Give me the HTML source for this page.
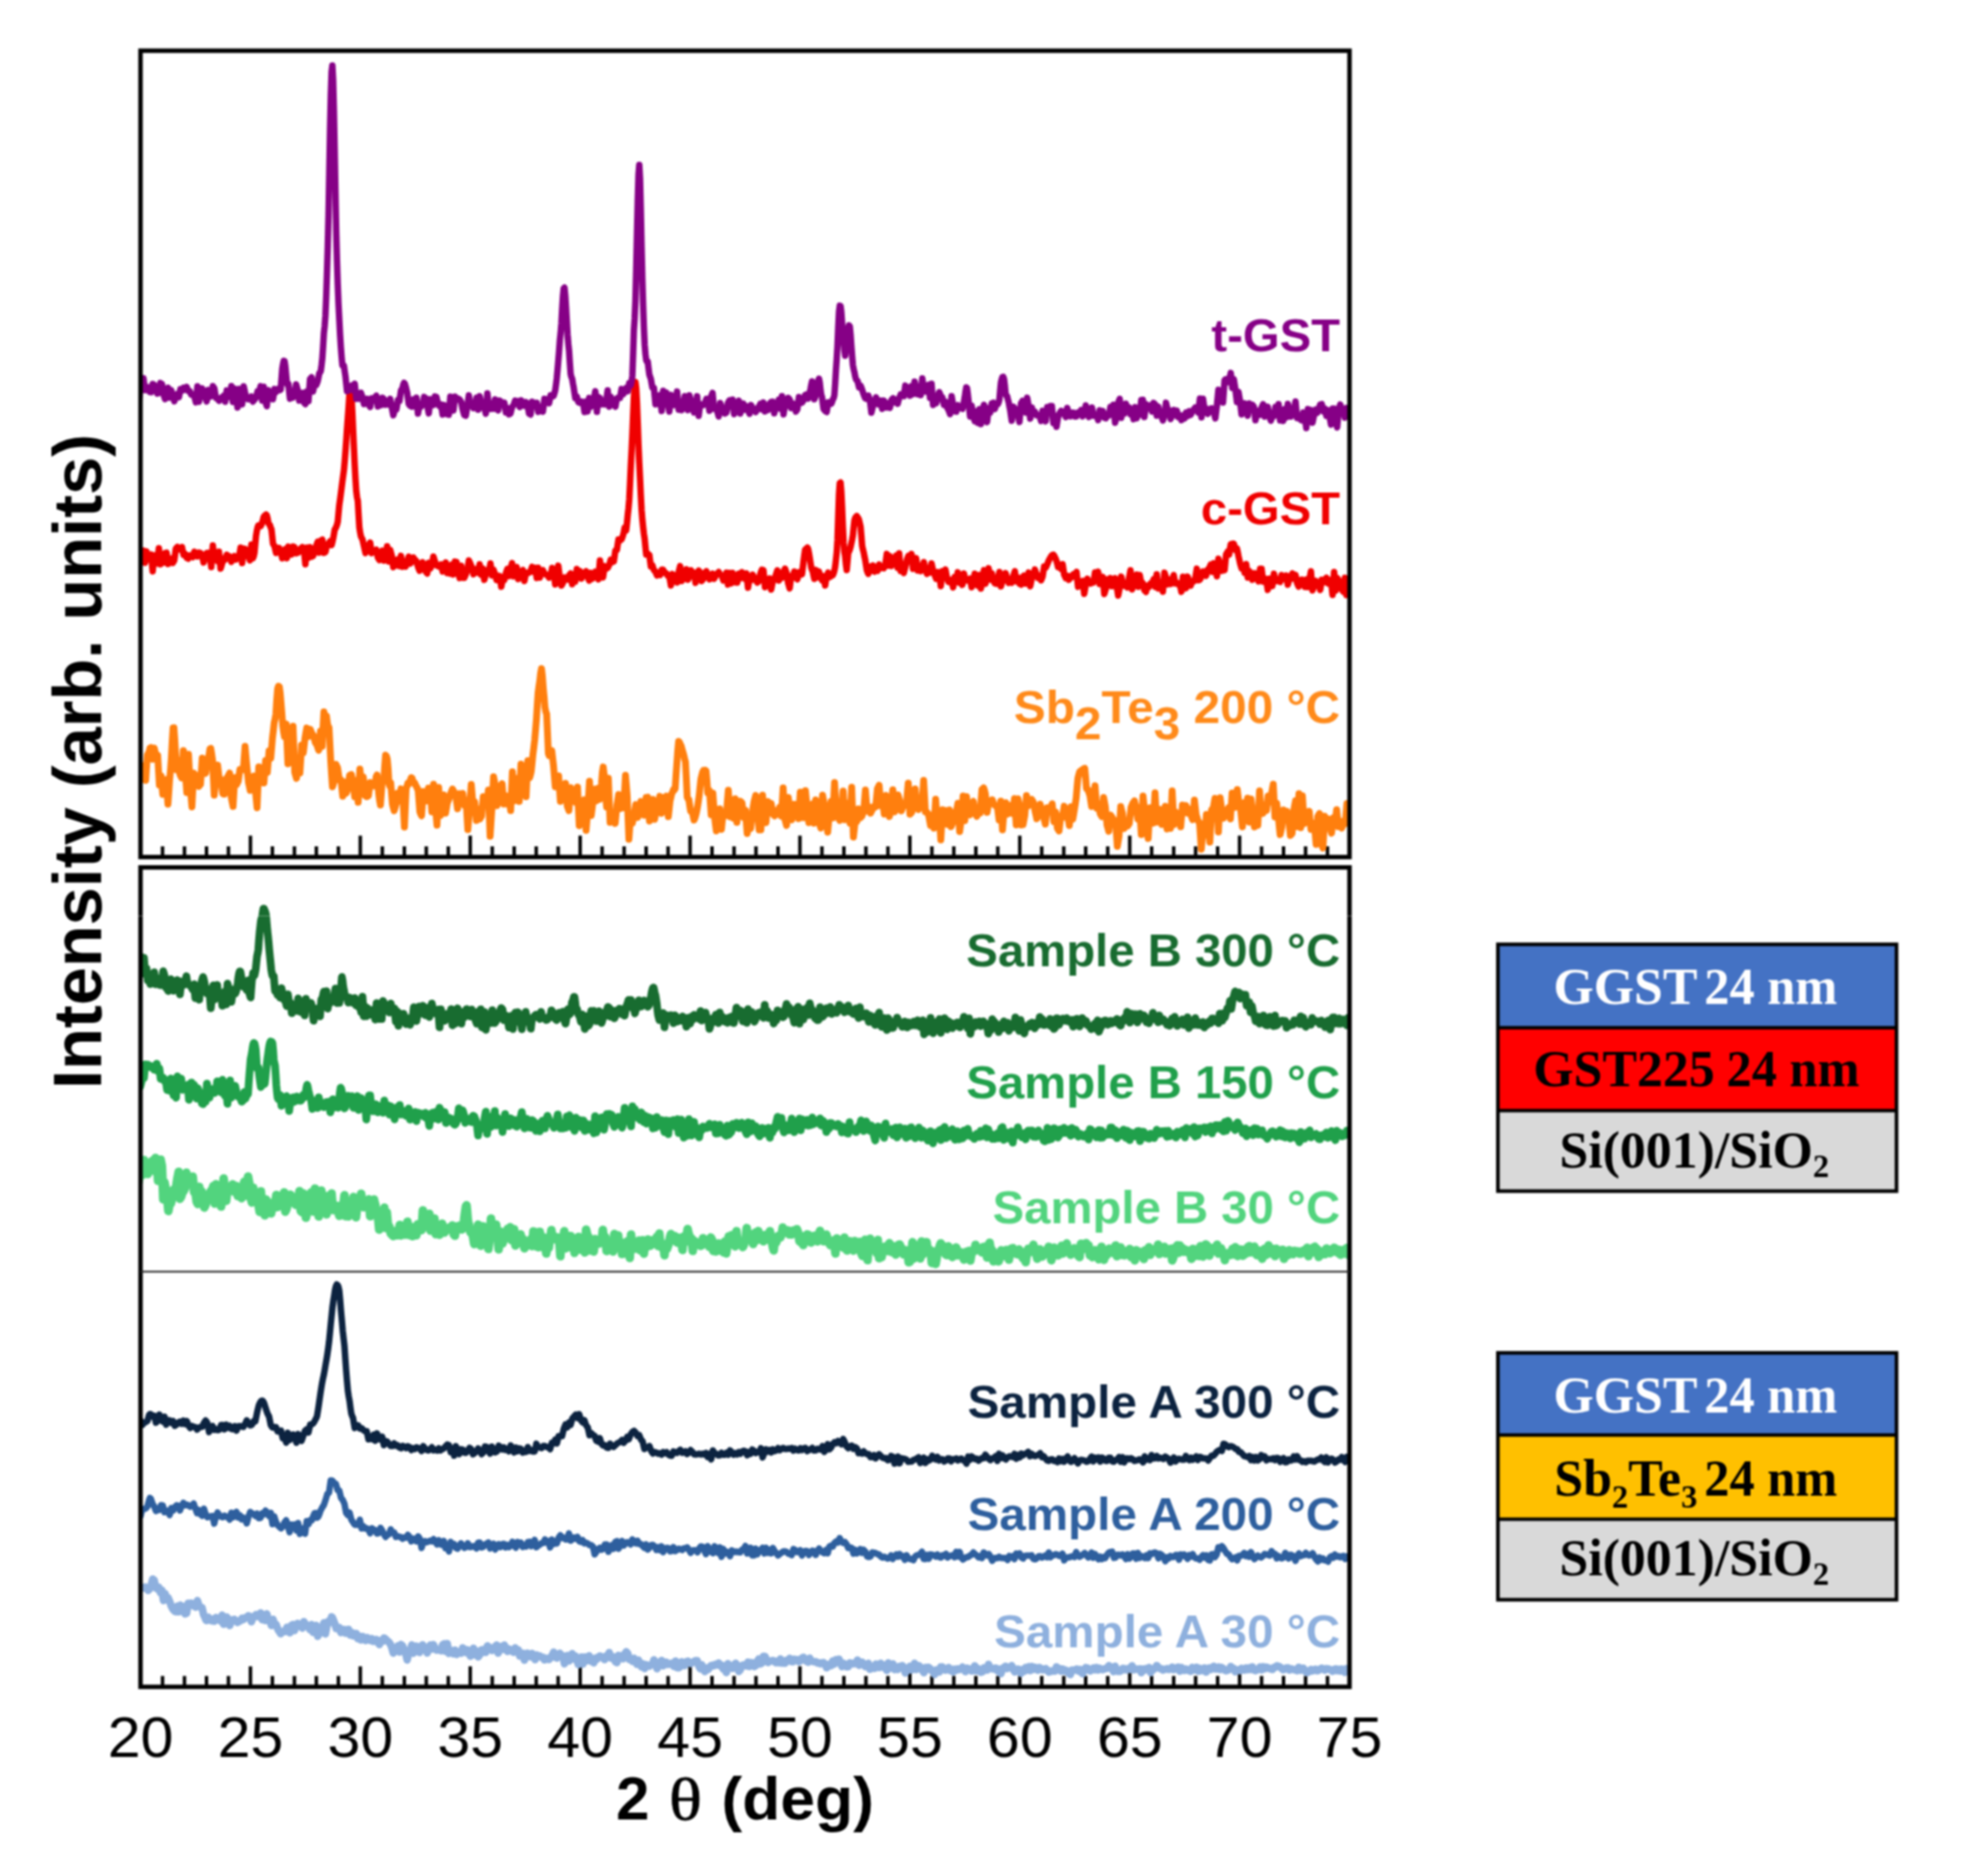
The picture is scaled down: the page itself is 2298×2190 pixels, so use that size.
<!DOCTYPE html>
<html><head><meta charset="utf-8"><title>XRD</title>
<style>
html,body{margin:0;padding:0;background:#fff;}
body{width:2298px;height:2190px;overflow:hidden;position:relative;}
svg{position:absolute;left:0;top:0;display:block;filter:blur(0.9px);}
.tk{font-family:"Liberation Sans",sans-serif;font-size:67px;fill:#000;}
.lb{font-family:"Liberation Sans",sans-serif;font-size:53.6px;font-weight:bold;}
.xl{font-family:"Liberation Sans",sans-serif;font-size:70px;font-weight:bold;fill:#000;}
.yl{font-family:"Liberation Sans",sans-serif;font-size:79px;font-weight:bold;fill:#000;}
.th{font-family:"Liberation Serif",serif;font-weight:normal;font-size:70px;fill:#000;stroke:#000;stroke-width:0.8;}
.bx{font-family:"Liberation Serif",serif;font-size:60.5px;font-weight:bold;}
.sb{font-size:38px;}
#curves path{fill:none;stroke-linejoin:round;stroke-linecap:round;}
</style></head><body>
<svg width="2298" height="2190" viewBox="0 0 2298 2190">
<defs><clipPath id="cp"><rect x="164" y="40" width="1411" height="1940"/></clipPath></defs>
<rect width="2298" height="2190" fill="#fff"/>
<path d="M189.7,1000.5v-12.5 M189.7,1969.2v-12.6 M215.3,1000.5v-12.5 M215.3,1969.2v-12.6 M241.0,1000.5v-12.5 M241.0,1969.2v-12.6 M266.6,1000.5v-12.5 M266.6,1969.2v-12.6 M292.3,1000.5v-25 M292.3,1969.2v-24 M317.9,1000.5v-12.5 M317.9,1969.2v-12.6 M343.6,1000.5v-12.5 M343.6,1969.2v-12.6 M369.2,1000.5v-12.5 M369.2,1969.2v-12.6 M394.9,1000.5v-12.5 M394.9,1969.2v-12.6 M420.5,1000.5v-25 M420.5,1969.2v-24 M446.2,1000.5v-12.5 M446.2,1969.2v-12.6 M471.9,1000.5v-12.5 M471.9,1969.2v-12.6 M497.5,1000.5v-12.5 M497.5,1969.2v-12.6 M523.2,1000.5v-12.5 M523.2,1969.2v-12.6 M548.8,1000.5v-25 M548.8,1969.2v-24 M574.5,1000.5v-12.5 M574.5,1969.2v-12.6 M600.1,1000.5v-12.5 M600.1,1969.2v-12.6 M625.8,1000.5v-12.5 M625.8,1969.2v-12.6 M651.4,1000.5v-12.5 M651.4,1969.2v-12.6 M677.1,1000.5v-25 M677.1,1969.2v-24 M702.7,1000.5v-12.5 M702.7,1969.2v-12.6 M728.4,1000.5v-12.5 M728.4,1969.2v-12.6 M754.1,1000.5v-12.5 M754.1,1969.2v-12.6 M779.7,1000.5v-12.5 M779.7,1969.2v-12.6 M805.4,1000.5v-25 M805.4,1969.2v-24 M831.0,1000.5v-12.5 M831.0,1969.2v-12.6 M856.7,1000.5v-12.5 M856.7,1969.2v-12.6 M882.3,1000.5v-12.5 M882.3,1969.2v-12.6 M908.0,1000.5v-12.5 M908.0,1969.2v-12.6 M933.6,1000.5v-25 M933.6,1969.2v-24 M959.3,1000.5v-12.5 M959.3,1969.2v-12.6 M984.9,1000.5v-12.5 M984.9,1969.2v-12.6 M1010.6,1000.5v-12.5 M1010.6,1969.2v-12.6 M1036.3,1000.5v-12.5 M1036.3,1969.2v-12.6 M1061.9,1000.5v-25 M1061.9,1969.2v-24 M1087.6,1000.5v-12.5 M1087.6,1969.2v-12.6 M1113.2,1000.5v-12.5 M1113.2,1969.2v-12.6 M1138.9,1000.5v-12.5 M1138.9,1969.2v-12.6 M1164.5,1000.5v-12.5 M1164.5,1969.2v-12.6 M1190.2,1000.5v-25 M1190.2,1969.2v-24 M1215.8,1000.5v-12.5 M1215.8,1969.2v-12.6 M1241.5,1000.5v-12.5 M1241.5,1969.2v-12.6 M1267.1,1000.5v-12.5 M1267.1,1969.2v-12.6 M1292.8,1000.5v-12.5 M1292.8,1969.2v-12.6 M1318.5,1000.5v-25 M1318.5,1969.2v-24 M1344.1,1000.5v-12.5 M1344.1,1969.2v-12.6 M1369.8,1000.5v-12.5 M1369.8,1969.2v-12.6 M1395.4,1000.5v-12.5 M1395.4,1969.2v-12.6 M1421.1,1000.5v-12.5 M1421.1,1969.2v-12.6 M1446.7,1000.5v-25 M1446.7,1969.2v-24 M1472.4,1000.5v-12.5 M1472.4,1969.2v-12.6 M1498.0,1000.5v-12.5 M1498.0,1969.2v-12.6 M1523.7,1000.5v-12.5 M1523.7,1969.2v-12.6 M1549.3,1000.5v-12.5 M1549.3,1969.2v-12.6" stroke="#000" stroke-width="4" fill="none"/>
<g id="curves" clip-path="url(#cp)">
<path d="M162.0,655.0 162.9,651.7 163.8,648.4 164.7,651.1 165.6,653.8 166.5,648.3 167.4,642.7 168.3,649.9 169.2,657.0 170.1,650.4 171.0,643.8 171.9,648.2 172.8,652.6 173.7,652.1 174.6,651.6 175.5,649.5 176.4,647.3 177.3,657.1 178.2,666.9 179.1,657.5 180.0,648.2 180.9,651.3 181.8,654.3 182.7,656.0 183.6,657.7 184.5,648.8 185.4,639.9 186.3,649.3 187.2,658.8 188.1,654.5 189.0,650.2 189.9,653.5 190.8,656.8 191.7,651.3 192.6,645.7 193.5,645.5 194.4,645.2 195.3,651.8 196.2,658.4 197.1,656.3 198.0,654.3 198.9,653.2 199.8,652.1 200.7,654.7 201.6,657.2 202.5,655.8 203.4,654.3 204.3,647.4 205.2,640.5 206.1,639.5 207.0,638.4 207.9,639.9 208.8,641.4 209.7,641.2 210.6,640.9 211.5,639.8 212.4,638.6 213.3,643.2 214.2,647.7 215.1,647.1 216.0,646.5 216.9,648.8 217.8,651.1 218.7,651.6 219.6,652.2 220.5,650.2 221.4,648.3 222.3,648.5 223.2,648.7 224.1,649.5 225.0,650.4 225.9,647.3 226.8,644.1 227.7,644.8 228.6,645.5 229.5,647.5 230.4,649.5 231.3,647.3 232.2,645.1 233.1,645.4 234.0,645.6 234.9,647.0 235.8,648.3 236.7,652.4 237.6,656.6 238.5,653.6 239.4,650.7 240.3,648.2 241.2,645.7 242.1,645.5 243.0,645.3 243.9,646.7 244.8,648.1 245.7,655.1 246.6,662.1 247.5,649.4 248.4,636.7 249.3,644.8 250.2,652.8 251.1,652.0 252.0,651.1 252.9,653.0 253.8,655.0 254.7,649.5 255.6,644.0 256.5,653.9 257.4,663.8 258.3,661.0 259.2,658.0 260.1,655.2 261.0,652.2 261.9,652.7 262.8,653.2 263.7,650.4 264.6,647.6 265.5,649.6 266.4,651.6 267.3,650.7 268.2,649.8 269.1,652.8 270.0,655.9 270.9,654.1 271.8,652.3 272.7,650.8 273.6,649.3 274.5,651.2 275.4,653.1 276.3,652.5 277.2,651.9 278.1,650.8 279.0,649.7 279.9,644.6 280.8,639.3 281.7,648.3 282.6,657.3 283.5,648.8 284.4,640.4 285.3,640.6 286.2,640.8 287.1,643.2 288.0,645.6 288.9,647.3 289.8,649.0 290.7,651.5 291.6,654.1 292.5,645.0 293.4,635.8 294.3,644.2 295.2,651.7 296.1,649.4 297.0,645.4 297.9,635.1 298.8,625.5 299.7,620.0 300.6,615.7 301.5,613.3 302.4,613.1 303.3,614.0 304.2,614.3 305.1,612.6 306.0,609.8 306.9,606.7 307.8,603.3 308.7,602.2 309.6,601.4 310.5,600.7 311.4,601.6 312.3,605.2 313.2,610.5 314.1,612.0 315.0,613.0 315.9,615.7 316.8,617.8 317.7,626.0 318.6,634.5 319.5,636.3 320.4,637.4 321.3,641.6 322.2,645.5 323.1,644.8 324.0,643.6 324.9,641.8 325.8,639.7 326.7,641.5 327.6,643.2 328.5,647.5 329.4,651.8 330.3,650.1 331.2,648.4 332.1,644.7 333.0,641.1 333.9,646.4 334.8,651.7 335.7,644.9 336.6,638.1 337.5,640.6 338.4,643.2 339.3,645.2 340.2,647.3 341.1,642.6 342.0,638.0 342.9,638.4 343.8,638.9 344.7,642.4 345.6,645.8 346.5,645.5 347.4,645.3 348.3,644.7 349.2,644.2 350.1,642.2 351.0,640.2 351.9,639.5 352.8,638.7 353.7,639.3 354.6,639.9 355.5,649.3 356.4,658.7 357.3,649.0 358.2,639.3 359.1,645.2 360.0,651.2 360.9,645.0 361.8,638.8 362.7,644.3 363.6,649.9 364.5,649.4 365.4,648.9 366.3,646.4 367.2,644.0 368.1,640.7 369.0,637.3 369.9,634.9 370.8,632.4 371.7,638.8 372.6,645.1 373.5,638.1 374.4,631.0 375.3,630.5 376.2,630.0 377.1,637.7 378.0,645.4 378.9,644.9 379.8,644.5 380.7,640.4 381.6,636.3 382.5,635.5 383.4,634.7 384.3,633.4 385.2,631.9 386.1,634.3 387.0,636.4 387.9,632.9 388.8,628.8 389.7,623.8 390.6,618.3 391.5,617.1 392.4,615.0 393.3,612.6 394.2,609.0 395.1,598.8 396.0,589.2 396.9,583.1 397.8,576.2 398.7,569.3 399.6,562.1 400.5,555.4 401.4,548.8 402.3,538.6 403.2,526.6 404.1,514.3 405.0,500.4 405.9,488.2 406.8,476.1 407.7,462.1 408.6,454.4 409.5,456.5 410.4,465.8 411.3,482.8 412.2,503.6 413.1,523.6 414.0,543.1 414.9,559.5 415.8,573.6 416.7,580.5 417.6,584.6 418.5,600.6 419.4,615.6 420.3,621.4 421.2,626.0 422.1,628.1 423.0,629.4 423.9,633.8 424.8,637.8 425.7,641.8 426.6,645.6 427.5,643.1 428.4,640.5 429.3,638.8 430.2,637.0 431.1,635.2 432.0,633.4 432.9,639.6 433.8,645.7 434.7,644.1 435.6,642.4 436.5,643.3 437.4,644.2 438.3,643.0 439.2,641.8 440.1,646.3 441.0,650.8 441.9,652.4 442.8,653.9 443.7,653.1 444.6,652.2 445.5,647.5 446.4,642.9 447.3,648.7 448.2,654.5 449.1,652.9 450.0,651.4 450.9,644.5 451.8,637.7 452.7,646.5 453.6,655.4 454.5,648.7 455.4,641.9 456.3,645.3 457.2,648.6 458.1,655.4 459.0,662.1 459.9,661.1 460.8,660.3 461.7,656.9 462.6,653.5 463.5,653.2 464.4,653.0 465.3,656.9 466.2,660.8 467.1,654.9 468.0,648.9 468.9,655.4 469.8,661.6 470.7,659.2 471.6,656.6 472.5,659.0 473.4,661.4 474.3,658.4 475.2,655.6 476.1,652.6 477.0,649.8 477.9,653.8 478.8,657.9 479.7,656.8 480.6,655.8 481.5,653.3 482.4,650.8 483.3,652.2 484.2,653.4 485.1,654.2 486.0,654.9 486.9,658.2 487.8,661.5 488.7,663.9 489.6,666.3 490.5,664.4 491.4,662.5 492.3,659.5 493.2,656.4 494.1,659.1 495.0,661.6 495.9,664.5 496.8,667.1 497.7,668.4 498.6,669.5 499.5,663.3 500.4,657.1 501.3,660.3 502.2,663.6 503.1,661.6 504.0,659.7 504.9,654.7 505.8,649.8 506.7,652.5 507.6,655.3 508.5,657.6 509.4,660.0 510.3,660.4 511.2,660.8 512.1,661.3 513.0,661.8 513.9,660.3 514.8,658.9 515.7,663.0 516.6,667.1 517.5,663.5 518.4,659.9 519.3,658.2 520.2,656.6 521.1,662.8 522.0,669.0 522.9,665.7 523.8,662.2 524.7,666.0 525.6,669.6 526.5,664.3 527.4,659.0 528.3,664.7 529.2,670.6 530.1,663.0 531.0,655.6 531.9,655.8 532.8,656.1 533.7,661.9 534.6,667.8 535.5,671.3 536.4,674.8 537.3,667.7 538.2,660.5 539.1,667.6 540.0,674.6 540.9,674.6 541.8,674.6 542.7,672.6 543.6,670.7 544.5,668.0 545.4,665.3 546.3,659.8 547.2,654.3 548.1,656.2 549.0,658.1 549.9,660.3 550.8,662.6 551.7,666.5 552.6,670.4 553.5,668.5 554.4,666.6 555.3,665.4 556.2,664.1 557.1,666.4 558.0,668.6 558.9,663.6 559.8,658.7 560.7,664.8 561.6,670.9 562.5,667.3 563.4,663.6 564.3,670.2 565.2,676.9 566.1,673.8 567.0,670.6 567.9,668.0 568.8,665.5 569.7,666.3 570.6,667.1 571.5,662.5 572.4,657.8 573.3,664.8 574.2,671.8 575.1,668.5 576.0,665.2 576.9,667.8 577.8,670.4 578.7,673.8 579.6,677.3 580.5,674.7 581.4,672.2 582.3,672.3 583.2,672.6 584.1,678.7 585.0,684.9 585.9,680.6 586.8,676.4 587.7,676.6 588.6,676.8 589.5,673.0 590.4,669.2 591.3,666.6 592.2,664.1 593.1,668.3 594.0,672.5 594.9,668.4 595.8,664.2 596.7,660.8 597.6,657.4 598.5,665.0 599.4,672.7 600.3,671.5 601.2,670.4 602.1,666.1 603.0,662.0 603.9,669.0 604.8,676.1 605.7,672.4 606.6,668.9 607.5,668.2 608.4,667.6 609.3,666.6 610.2,665.5 611.1,671.9 612.0,678.2 612.9,673.6 613.8,668.9 614.7,668.7 615.6,668.6 616.5,668.6 617.4,668.7 618.3,667.8 619.2,666.9 620.1,664.3 621.0,661.7 621.9,664.5 622.8,667.2 623.7,665.1 624.6,662.9 625.5,668.8 626.4,674.7 627.3,668.7 628.2,662.7 629.1,668.5 630.0,674.3 630.9,670.8 631.8,667.4 632.7,666.5 633.6,665.7 634.5,667.6 635.4,669.5 636.3,670.1 637.2,670.8 638.1,671.0 639.0,671.2 639.9,672.7 640.8,674.2 641.7,673.4 642.6,672.6 643.5,667.8 644.4,663.0 645.3,665.8 646.2,668.6 647.1,675.5 648.0,682.3 648.9,677.2 649.8,672.2 650.7,666.3 651.6,660.4 652.5,667.4 653.4,674.4 654.3,678.9 655.2,683.5 656.1,682.0 657.0,680.5 657.9,677.3 658.8,674.0 659.7,674.7 660.6,675.3 661.5,676.0 662.4,676.6 663.3,674.1 664.2,671.7 665.1,670.6 666.0,669.6 666.9,675.8 667.8,682.0 668.7,676.2 669.6,670.5 670.5,674.7 671.4,679.0 672.3,671.6 673.2,664.2 674.1,666.5 675.0,668.8 675.9,667.7 676.8,666.6 677.7,671.0 678.6,675.4 679.5,672.2 680.4,669.1 681.3,668.9 682.2,668.7 683.1,667.8 684.0,666.9 684.9,670.2 685.8,673.5 686.7,675.7 687.6,677.8 688.5,673.3 689.4,668.7 690.3,672.2 691.2,675.6 692.1,673.6 693.0,671.6 693.9,669.5 694.8,667.4 695.7,670.3 696.6,673.1 697.5,674.7 698.4,676.3 699.3,665.3 700.2,654.3 701.1,661.9 702.0,669.6 702.9,671.9 703.8,674.1 704.7,667.5 705.6,660.9 706.5,662.5 707.4,664.1 708.3,663.5 709.2,662.9 710.1,661.2 711.0,659.5 711.9,656.5 712.8,653.3 713.7,654.8 714.6,656.1 715.5,655.8 716.4,655.4 717.3,648.9 718.2,642.5 719.1,642.2 720.0,641.9 720.9,635.8 721.8,629.7 722.7,630.3 723.6,631.0 724.5,630.3 725.4,629.6 726.3,627.3 727.2,624.8 728.1,620.7 729.0,616.1 729.9,618.1 730.8,619.1 731.7,611.0 732.6,601.4 733.5,593.4 734.4,583.0 735.3,564.6 736.2,544.2 737.1,527.0 738.0,507.3 738.9,484.7 739.8,464.2 740.7,450.6 741.6,445.9 742.5,453.0 743.4,470.3 744.3,493.4 745.2,519.5 746.1,540.5 747.0,558.4 747.9,578.2 748.8,595.3 749.7,606.7 750.6,615.5 751.5,623.2 752.4,629.1 753.3,638.7 754.2,647.3 755.1,647.2 756.0,646.4 756.9,647.2 757.8,647.6 758.7,654.5 759.6,661.3 760.5,660.8 761.4,660.0 762.3,662.8 763.2,665.5 764.1,666.5 765.0,667.2 765.9,669.7 766.8,671.9 767.7,671.0 768.6,669.9 769.5,670.6 770.4,671.2 771.3,668.1 772.2,665.0 773.1,665.0 774.0,665.2 774.9,666.9 775.8,668.8 776.7,669.0 777.6,669.3 778.5,670.7 779.4,672.1 780.3,672.4 781.2,672.5 782.1,678.1 783.0,683.5 783.9,676.7 784.8,670.1 785.7,672.2 786.6,674.3 787.5,673.4 788.4,672.6 789.3,676.2 790.2,679.9 791.1,673.9 792.0,668.0 792.9,664.5 793.8,660.9 794.7,669.6 795.6,678.3 796.5,676.4 797.4,674.5 798.3,672.4 799.2,670.3 800.1,667.4 801.0,664.6 801.9,670.6 802.8,676.7 803.7,674.7 804.6,672.7 805.5,669.2 806.4,665.7 807.3,667.4 808.2,669.1 809.1,668.8 810.0,668.5 810.9,674.5 811.8,680.4 812.7,675.8 813.6,671.1 814.5,668.5 815.4,666.0 816.3,667.1 817.2,668.4 818.1,673.3 819.0,678.3 819.9,676.9 820.8,675.7 821.7,672.2 822.6,668.7 823.5,667.8 824.4,666.9 825.3,669.0 826.2,671.0 827.1,673.7 828.0,676.3 828.9,674.4 829.8,672.5 830.7,671.1 831.6,669.8 832.5,672.7 833.4,675.6 834.3,674.0 835.2,672.4 836.1,670.9 837.0,669.5 837.9,668.7 838.8,667.8 839.7,669.2 840.6,670.6 841.5,671.3 842.4,671.9 843.3,674.8 844.2,677.7 845.1,677.2 846.0,676.8 846.9,672.7 847.8,668.5 848.7,675.5 849.6,682.4 850.5,675.5 851.4,668.7 852.3,674.8 853.2,681.0 854.1,674.8 855.0,668.7 855.9,671.1 856.8,673.5 857.7,676.8 858.6,680.1 859.5,680.0 860.4,680.0 861.3,674.9 862.2,669.9 863.1,672.5 864.0,675.2 864.9,671.6 865.8,668.0 866.7,670.4 867.6,672.7 868.5,674.2 869.4,675.6 870.3,672.4 871.2,669.3 872.1,677.6 873.0,686.1 873.9,680.7 874.8,675.5 875.7,676.3 876.6,677.3 877.5,674.1 878.4,670.9 879.3,672.6 880.2,674.2 881.1,675.6 882.0,677.0 882.9,678.6 883.8,680.0 884.7,679.3 885.6,678.4 886.5,674.1 887.4,669.8 888.3,667.4 889.2,665.1 890.1,665.3 891.0,665.7 891.9,675.5 892.8,685.4 893.7,682.9 894.6,680.5 895.5,682.0 896.4,683.5 897.3,679.4 898.2,675.2 899.1,681.8 900.0,688.2 900.9,683.7 901.8,679.1 902.7,678.0 903.6,676.9 904.5,674.2 905.4,671.6 906.3,668.7 907.2,665.8 908.1,671.7 909.0,677.7 909.9,676.0 910.8,674.3 911.7,674.3 912.6,674.3 913.5,670.7 914.4,667.1 915.3,665.5 916.2,663.8 917.1,666.5 918.0,669.1 918.9,674.9 919.8,680.7 920.7,683.8 921.6,686.9 922.5,679.6 923.4,672.4 924.3,673.4 925.2,674.4 926.1,670.8 927.0,667.2 927.9,668.6 928.8,669.8 929.7,673.1 930.6,676.3 931.5,672.2 932.4,668.0 933.3,669.3 934.2,670.0 935.1,670.7 936.0,670.4 936.9,662.8 937.8,655.0 938.7,648.2 939.6,641.9 940.5,640.8 941.4,640.4 942.3,639.2 943.2,641.0 944.1,645.5 945.0,650.8 945.9,656.8 946.8,662.3 947.7,665.3 948.6,667.1 949.5,671.8 950.4,675.8 951.3,670.9 952.2,665.4 953.1,669.7 954.0,673.9 954.9,670.6 955.8,667.2 956.7,670.4 957.6,673.6 958.5,675.6 959.4,677.5 960.3,675.1 961.2,672.6 962.1,678.1 963.0,683.5 963.9,678.2 964.8,672.9 965.7,670.7 966.6,668.5 967.5,671.1 968.4,673.6 969.3,673.0 970.2,672.2 971.1,671.9 972.0,671.3 972.9,669.2 973.8,666.1 974.7,661.5 975.6,653.6 976.5,645.2 977.4,630.4 978.3,602.5 979.2,576.7 980.1,563.9 981.0,563.3 981.9,573.8 982.8,592.2 983.7,614.3 984.6,633.5 985.5,644.4 986.4,649.7 987.3,659.1 988.2,665.5 989.1,655.4 990.0,644.7 990.9,643.7 991.8,641.6 992.7,638.4 993.6,634.3 994.5,629.9 995.4,624.8 996.3,615.5 997.2,607.5 998.1,604.8 999.0,603.3 999.9,602.4 1000.8,603.8 1001.7,604.9 1002.6,607.2 1003.5,611.0 1004.4,615.0 1005.3,625.5 1006.2,637.0 1007.1,641.4 1008.0,644.8 1008.9,649.6 1009.8,653.6 1010.7,659.8 1011.6,665.5 1012.5,668.0 1013.4,669.8 1014.3,665.9 1015.2,661.5 1016.1,663.9 1017.0,666.2 1017.9,663.3 1018.8,660.2 1019.7,663.9 1020.6,667.4 1021.5,665.6 1022.4,663.7 1023.3,665.0 1024.2,666.3 1025.1,662.6 1026.0,659.0 1026.9,661.1 1027.8,663.2 1028.7,663.1 1029.6,663.0 1030.5,663.2 1031.4,663.4 1032.3,661.5 1033.2,659.7 1034.1,653.1 1035.0,646.6 1035.9,653.5 1036.8,660.3 1037.7,654.8 1038.6,649.2 1039.5,655.0 1040.4,660.7 1041.3,657.0 1042.2,653.5 1043.1,653.1 1044.0,652.8 1044.9,650.7 1045.8,648.7 1046.7,655.8 1047.6,662.9 1048.5,654.5 1049.4,646.0 1050.3,656.3 1051.2,666.6 1052.1,665.0 1053.0,663.3 1053.9,666.1 1054.8,668.9 1055.7,665.3 1056.6,661.8 1057.5,657.6 1058.4,653.5 1059.3,651.2 1060.2,648.9 1061.1,649.7 1062.0,650.5 1062.9,648.6 1063.8,646.7 1064.7,655.4 1065.6,664.1 1066.5,661.6 1067.4,659.1 1068.3,655.3 1069.2,651.6 1070.1,658.8 1071.0,666.1 1071.9,663.2 1072.8,660.4 1073.7,663.5 1074.6,666.7 1075.5,665.2 1076.4,663.7 1077.3,660.0 1078.2,656.2 1079.1,660.3 1080.0,664.4 1080.9,667.1 1081.8,669.9 1082.7,668.3 1083.6,666.7 1084.5,667.5 1085.4,668.3 1086.3,663.0 1087.2,657.7 1088.1,662.1 1089.0,666.4 1089.9,668.8 1090.8,671.0 1091.7,673.4 1092.6,675.7 1093.5,671.7 1094.4,667.8 1095.3,668.5 1096.2,669.2 1097.1,676.7 1098.0,684.2 1098.9,675.5 1099.8,666.8 1100.7,669.2 1101.6,671.7 1102.5,668.3 1103.4,664.9 1104.3,669.6 1105.2,674.2 1106.1,676.9 1107.0,679.4 1107.9,679.6 1108.8,679.6 1109.7,678.3 1110.6,676.9 1111.5,681.4 1112.4,685.8 1113.3,679.6 1114.2,673.5 1115.1,675.4 1116.0,677.4 1116.9,672.7 1117.8,668.1 1118.7,674.2 1119.6,680.3 1120.5,675.8 1121.4,671.3 1122.3,677.1 1123.2,682.8 1124.1,676.2 1125.0,669.5 1125.9,673.5 1126.8,677.6 1127.7,677.6 1128.6,677.7 1129.5,677.8 1130.4,677.8 1131.3,676.6 1132.2,675.4 1133.1,680.5 1134.0,685.5 1134.9,682.1 1135.8,678.8 1136.7,674.3 1137.6,669.8 1138.5,671.6 1139.4,673.4 1140.3,678.5 1141.2,683.6 1142.1,677.4 1143.0,671.2 1143.9,679.1 1144.8,687.1 1145.7,680.7 1146.6,674.2 1147.5,669.9 1148.4,665.6 1149.3,673.5 1150.2,681.4 1151.1,676.2 1152.0,671.0 1152.9,667.2 1153.8,663.4 1154.7,670.0 1155.6,676.6 1156.5,672.8 1157.4,669.1 1158.3,673.5 1159.2,677.8 1160.1,679.3 1161.0,680.8 1161.9,681.2 1162.8,681.5 1163.7,678.6 1164.6,675.6 1165.5,671.7 1166.4,667.7 1167.3,676.2 1168.2,684.6 1169.1,681.2 1170.0,677.7 1170.9,677.6 1171.8,677.7 1172.7,673.3 1173.6,669.1 1174.5,671.9 1175.4,674.8 1176.3,677.6 1177.2,680.4 1178.1,679.5 1179.0,678.5 1179.9,679.5 1180.8,680.2 1181.7,676.4 1182.6,672.4 1183.5,669.6 1184.4,666.8 1185.3,672.7 1186.2,678.6 1187.1,676.3 1188.0,674.2 1188.9,677.8 1189.8,681.3 1190.7,681.9 1191.6,682.5 1192.5,678.0 1193.4,673.5 1194.3,672.7 1195.2,672.0 1196.1,676.6 1197.0,681.3 1197.9,680.1 1198.8,678.9 1199.7,673.6 1200.6,668.4 1201.5,676.4 1202.4,684.4 1203.3,679.8 1204.2,675.1 1205.1,673.7 1206.0,672.2 1206.9,668.6 1207.8,664.9 1208.7,667.4 1209.6,669.9 1210.5,672.3 1211.4,674.6 1212.3,673.7 1213.2,672.7 1214.1,675.1 1215.0,677.4 1215.9,675.4 1216.8,673.3 1217.7,667.1 1218.6,661.2 1219.5,662.1 1220.4,662.6 1221.3,660.9 1222.2,659.0 1223.1,656.6 1224.0,654.3 1224.9,652.7 1225.8,651.1 1226.7,649.5 1227.6,648.3 1228.5,647.7 1229.4,647.6 1230.3,648.7 1231.2,650.5 1232.1,652.4 1233.0,654.7 1233.9,658.1 1234.8,662.0 1235.7,661.0 1236.6,659.2 1237.5,661.7 1238.4,664.1 1239.3,661.7 1240.2,658.7 1241.1,664.8 1242.0,671.1 1242.9,672.9 1243.8,674.8 1244.7,673.5 1245.6,672.1 1246.5,674.5 1247.4,676.8 1248.3,674.9 1249.2,672.9 1250.1,673.4 1251.0,673.8 1251.9,672.1 1252.8,670.3 1253.7,671.2 1254.6,672.1 1255.5,669.9 1256.4,667.6 1257.3,676.3 1258.2,685.1 1259.1,684.1 1260.0,683.2 1260.9,681.1 1261.8,679.0 1262.7,678.6 1263.6,678.2 1264.5,685.7 1265.4,693.2 1266.3,687.9 1267.2,682.6 1268.1,679.1 1269.0,675.7 1269.9,677.9 1270.8,680.0 1271.7,680.6 1272.6,681.2 1273.5,680.7 1274.4,680.3 1275.3,680.1 1276.2,680.0 1277.1,674.1 1278.0,668.3 1278.9,671.0 1279.8,673.8 1280.7,670.5 1281.6,667.4 1282.5,674.5 1283.4,681.7 1284.3,680.0 1285.2,678.2 1286.1,675.8 1287.0,673.4 1287.9,683.4 1288.8,693.4 1289.7,690.5 1290.6,687.5 1291.5,682.0 1292.4,676.4 1293.3,679.9 1294.2,683.5 1295.1,679.1 1296.0,674.9 1296.9,679.5 1297.8,684.2 1298.7,684.0 1299.6,683.8 1300.5,679.4 1301.4,675.0 1302.3,679.3 1303.2,683.5 1304.1,689.4 1305.0,695.2 1305.9,690.7 1306.8,686.1 1307.7,679.6 1308.6,673.1 1309.5,677.5 1310.4,682.0 1311.3,682.9 1312.2,683.8 1313.1,682.1 1314.0,680.6 1314.9,683.2 1315.8,685.8 1316.7,680.5 1317.6,675.2 1318.5,670.5 1319.4,665.8 1320.3,676.9 1321.2,688.0 1322.1,680.3 1323.0,672.6 1323.9,675.6 1324.8,678.6 1325.7,674.6 1326.6,670.7 1327.5,677.9 1328.4,685.1 1329.3,678.2 1330.2,671.3 1331.1,676.5 1332.0,681.7 1332.9,681.3 1333.8,680.8 1334.7,684.9 1335.6,688.9 1336.5,689.9 1337.4,691.0 1338.3,687.4 1339.2,683.9 1340.1,684.5 1341.0,685.2 1341.9,683.0 1342.8,681.0 1343.7,681.2 1344.6,681.6 1345.5,678.9 1346.4,676.2 1347.3,680.7 1348.2,685.1 1349.1,677.8 1350.0,670.4 1350.9,678.7 1351.8,686.9 1352.7,684.4 1353.6,681.8 1354.5,681.1 1355.4,680.3 1356.3,685.5 1357.2,690.7 1358.1,679.6 1359.0,668.6 1359.9,671.2 1360.8,673.7 1361.7,678.0 1362.6,682.2 1363.5,679.5 1364.4,676.7 1365.3,679.2 1366.2,681.7 1367.1,679.2 1368.0,676.7 1368.9,674.0 1369.8,671.4 1370.7,676.2 1371.6,681.0 1372.5,680.6 1373.4,680.1 1374.3,681.3 1375.2,682.4 1376.1,682.4 1377.0,682.3 1377.9,686.6 1378.8,690.9 1379.7,682.1 1380.6,673.3 1381.5,674.2 1382.4,675.2 1383.3,681.0 1384.2,686.8 1385.1,680.0 1386.0,673.1 1386.9,675.7 1387.8,678.3 1388.7,681.0 1389.6,683.6 1390.5,681.2 1391.4,678.8 1392.3,678.7 1393.2,678.7 1394.1,676.7 1395.0,674.8 1395.9,669.4 1396.8,663.9 1397.7,670.7 1398.6,677.4 1399.5,677.1 1400.4,676.7 1401.3,674.8 1402.2,672.9 1403.1,669.9 1404.0,667.0 1404.9,668.5 1405.8,670.0 1406.7,671.1 1407.6,672.2 1408.5,668.6 1409.4,665.0 1410.3,664.2 1411.2,663.4 1412.1,661.3 1413.0,659.1 1413.9,663.3 1414.8,667.6 1415.7,662.6 1416.6,657.6 1417.5,659.9 1418.4,662.1 1419.3,667.5 1420.2,672.7 1421.1,662.5 1422.0,652.3 1422.9,655.4 1423.8,658.4 1424.7,662.5 1425.6,666.5 1426.5,662.1 1427.4,657.7 1428.3,662.0 1429.2,665.6 1430.1,656.0 1431.0,647.1 1431.9,645.7 1432.8,644.0 1433.7,646.2 1434.6,647.3 1435.5,640.7 1436.4,635.4 1437.3,635.0 1438.2,635.0 1439.1,634.6 1440.0,634.9 1440.9,637.9 1441.8,641.8 1442.7,641.4 1443.6,640.2 1444.5,644.4 1445.4,649.0 1446.3,653.0 1447.2,657.2 1448.1,660.4 1449.0,663.5 1449.9,662.3 1450.8,660.6 1451.7,664.7 1452.6,668.8 1453.5,663.7 1454.4,658.5 1455.3,666.3 1456.2,674.2 1457.1,670.4 1458.0,666.7 1458.9,668.2 1459.8,669.7 1460.7,673.2 1461.6,676.8 1462.5,673.0 1463.4,669.2 1464.3,669.3 1465.2,669.4 1466.1,671.7 1467.0,674.0 1467.9,676.2 1468.8,678.7 1469.7,671.3 1470.6,664.1 1471.5,664.0 1472.4,664.0 1473.3,671.6 1474.2,679.0 1475.1,677.2 1476.0,675.2 1476.9,676.1 1477.8,676.9 1478.7,682.8 1479.6,688.6 1480.5,682.0 1481.4,675.5 1482.3,675.7 1483.2,676.0 1484.1,680.0 1485.0,684.1 1485.9,676.9 1486.8,669.7 1487.7,674.0 1488.6,678.3 1489.5,677.4 1490.4,676.4 1491.3,677.6 1492.2,678.7 1493.1,679.0 1494.0,679.3 1494.9,675.3 1495.8,671.3 1496.7,673.7 1497.6,676.1 1498.5,676.0 1499.4,675.8 1500.3,673.9 1501.2,672.0 1502.1,677.3 1503.0,682.5 1503.9,679.4 1504.8,676.1 1505.7,674.4 1506.6,672.6 1507.5,671.0 1508.4,669.4 1509.3,672.4 1510.2,675.4 1511.1,673.3 1512.0,671.2 1512.9,675.9 1513.8,680.7 1514.7,682.7 1515.6,684.8 1516.5,681.1 1517.4,677.4 1518.3,677.1 1519.2,676.7 1520.1,677.8 1521.0,678.8 1521.9,682.1 1522.8,685.2 1523.7,680.9 1524.6,676.5 1525.5,680.9 1526.4,685.4 1527.3,680.7 1528.2,676.0 1529.1,671.5 1530.0,667.0 1530.9,678.1 1531.8,689.2 1532.7,686.8 1533.6,684.4 1534.5,681.2 1535.4,678.0 1536.3,679.3 1537.2,680.5 1538.1,680.4 1539.0,680.2 1539.9,684.6 1540.8,688.8 1541.7,682.9 1542.6,676.9 1543.5,678.4 1544.4,680.0 1545.3,678.3 1546.2,676.6 1547.1,675.5 1548.0,674.4 1548.9,677.6 1549.8,681.0 1550.7,681.3 1551.6,681.7 1552.5,679.2 1553.4,676.8 1554.3,685.6 1555.2,694.4 1556.1,681.2 1557.0,667.8 1557.9,678.6 1558.8,689.5 1559.7,682.1 1560.6,674.7 1561.5,676.1 1562.4,677.5 1563.3,681.9 1564.2,686.3 1565.1,687.3 1566.0,688.3 1566.9,689.5 1567.8,690.8 1568.7,682.6 1569.6,674.4 1570.5,684.5 1571.4,694.7 1572.3,685.6 1573.2,676.5 1574.1,680.4 1575.0,684.4 1575.9,689.8 1576.8,695.2 1577.7,682.2" stroke="#F00000" stroke-width="7.5"/>
<path d="M162.0,888.8 163.0,900.0 164.0,910.3 165.0,902.3 166.0,893.7 167.0,895.0 168.0,895.8 169.0,904.6 170.0,911.0 171.0,895.0 172.0,881.3 173.0,879.8 174.0,877.6 175.0,873.4 176.0,872.7 177.0,878.0 178.0,886.4 179.0,882.5 180.0,873.3 181.0,877.4 182.0,882.2 183.0,882.0 184.0,881.6 185.0,899.1 186.0,916.5 187.0,911.4 188.0,905.6 189.0,916.8 190.0,927.3 191.0,922.0 192.0,916.1 193.0,913.1 194.0,910.0 195.0,924.4 196.0,938.8 197.0,924.7 198.0,909.6 199.0,899.0 200.0,884.6 201.0,865.8 202.0,849.7 203.0,849.6 204.0,863.6 205.0,881.5 206.0,898.7 207.0,897.3 208.0,887.5 209.0,896.5 210.0,903.9 211.0,906.2 212.0,908.1 213.0,892.1 214.0,876.3 215.0,886.5 216.0,897.2 217.0,910.9 218.0,925.2 219.0,902.7 220.0,880.5 221.0,899.0 222.0,917.4 223.0,929.9 224.0,941.9 225.0,922.3 226.0,902.4 227.0,903.5 228.0,904.5 229.0,909.3 230.0,914.1 231.0,916.0 232.0,918.0 233.0,916.7 234.0,915.7 235.0,900.4 236.0,884.9 237.0,890.0 238.0,894.8 239.0,899.7 240.0,902.8 241.0,895.1 242.0,886.3 243.0,884.9 244.0,881.3 245.0,874.2 246.0,873.6 247.0,879.8 248.0,886.7 249.0,906.6 250.0,928.3 251.0,918.3 252.0,905.3 253.0,899.2 254.0,893.1 255.0,902.0 256.0,911.0 257.0,910.6 258.0,910.0 259.0,918.5 260.0,926.6 261.0,927.0 262.0,927.0 263.0,918.3 264.0,909.2 265.0,907.9 266.0,906.5 267.0,904.4 268.0,902.5 269.0,916.8 270.0,931.4 271.0,936.5 272.0,941.4 273.0,924.6 274.0,907.7 275.0,911.9 276.0,916.2 277.0,914.0 278.0,912.1 279.0,905.1 280.0,898.3 281.0,898.2 282.0,898.0 283.0,898.2 284.0,898.4 285.0,884.8 286.0,871.3 287.0,882.5 288.0,893.7 289.0,903.4 290.0,913.4 291.0,918.0 292.0,922.7 293.0,915.0 294.0,907.2 295.0,906.8 296.0,906.0 297.0,914.0 298.0,921.7 299.0,932.4 300.0,942.9 301.0,919.1 302.0,895.2 303.0,895.7 304.0,896.4 305.0,898.5 306.0,900.7 307.0,907.7 308.0,914.0 309.0,901.1 310.0,887.7 311.0,895.0 312.0,901.8 313.0,889.2 314.0,876.6 315.0,881.7 316.0,885.5 317.0,873.5 318.0,861.2 319.0,852.9 320.0,843.6 321.0,839.4 322.0,833.3 323.0,817.0 324.0,804.2 325.0,801.0 326.0,801.6 327.0,809.1 328.0,820.9 329.0,833.1 330.0,847.0 331.0,854.5 332.0,859.9 333.0,854.6 334.0,845.2 335.0,868.2 336.0,891.7 337.0,891.0 338.0,889.0 339.0,883.7 340.0,877.9 341.0,862.8 342.0,847.7 343.0,874.5 344.0,901.7 345.0,905.1 346.0,908.7 347.0,899.5 348.0,890.1 349.0,896.5 350.0,902.6 351.0,886.4 352.0,869.7 353.0,874.5 354.0,878.9 355.0,870.1 356.0,861.3 357.0,855.4 358.0,849.9 359.0,854.6 360.0,859.7 361.0,855.2 362.0,851.3 363.0,853.6 364.0,856.2 365.0,857.5 366.0,858.9 367.0,863.0 368.0,866.9 369.0,868.5 370.0,869.8 371.0,873.1 372.0,876.0 373.0,864.9 374.0,853.5 375.0,863.7 376.0,871.4 377.0,849.7 378.0,830.9 379.0,835.6 380.0,836.6 381.0,835.7 382.0,843.5 383.0,848.7 384.0,849.3 385.0,868.3 386.0,888.3 387.0,904.2 388.0,918.4 389.0,915.4 390.0,911.2 391.0,901.9 392.0,892.3 393.0,894.1 394.0,896.2 395.0,903.1 396.0,910.6 397.0,910.6 398.0,910.5 399.0,920.1 400.0,929.5 401.0,921.3 402.0,913.0 403.0,919.5 404.0,926.1 405.0,923.1 406.0,920.2 407.0,912.5 408.0,905.0 409.0,904.5 410.0,904.1 411.0,909.2 412.0,914.2 413.0,922.3 414.0,930.2 415.0,920.8 416.0,910.9 417.0,923.9 418.0,936.6 419.0,917.1 420.0,897.7 421.0,906.9 422.0,916.4 423.0,911.4 424.0,907.0 425.0,917.7 426.0,928.8 427.0,929.4 428.0,930.0 429.0,929.6 430.0,928.9 431.0,921.5 432.0,913.5 433.0,915.9 434.0,917.6 435.0,917.3 436.0,915.2 437.0,917.3 438.0,914.8 439.0,906.6 440.0,904.8 441.0,914.1 442.0,926.5 443.0,934.3 444.0,939.8 445.0,926.9 446.0,912.5 447.0,912.5 448.0,910.3 449.0,894.4 450.0,881.6 451.0,882.7 452.0,886.4 453.0,897.3 454.0,915.0 455.0,917.8 456.0,913.6 457.0,926.6 458.0,938.5 459.0,942.8 460.0,946.4 461.0,943.0 462.0,939.4 463.0,932.8 464.0,926.1 465.0,930.5 466.0,935.0 467.0,927.9 468.0,920.9 469.0,922.8 470.0,924.7 471.0,945.5 472.0,965.6 473.0,943.0 474.0,920.8 475.0,917.8 476.0,914.3 477.0,915.3 478.0,914.5 479.0,910.4 480.0,907.8 481.0,908.5 482.0,912.7 483.0,913.9 484.0,913.8 485.0,916.6 486.0,918.0 487.0,920.4 488.0,922.1 489.0,934.9 490.0,947.8 491.0,950.2 492.0,952.3 493.0,938.1 494.0,924.1 495.0,925.9 496.0,927.9 497.0,931.4 498.0,934.8 499.0,927.4 500.0,920.0 501.0,920.8 502.0,921.8 503.0,934.7 504.0,947.7 505.0,931.6 506.0,915.5 507.0,927.7 508.0,940.0 509.0,951.7 510.0,963.3 511.0,941.3 512.0,919.3 513.0,935.7 514.0,952.0 515.0,944.0 516.0,935.9 517.0,932.0 518.0,928.0 519.0,938.7 520.0,949.3 521.0,943.4 522.0,937.5 523.0,935.1 524.0,932.5 525.0,929.5 526.0,926.3 527.0,923.7 528.0,921.1 529.0,922.8 530.0,924.7 531.0,926.9 532.0,929.3 533.0,936.7 534.0,944.1 535.0,935.3 536.0,926.4 537.0,931.4 538.0,936.5 539.0,931.4 540.0,926.3 541.0,933.1 542.0,940.2 543.0,937.2 544.0,934.5 545.0,951.6 546.0,968.6 547.0,956.4 548.0,943.9 549.0,929.9 550.0,915.7 551.0,927.5 552.0,939.5 553.0,937.7 554.0,936.0 555.0,947.0 556.0,957.8 557.0,951.3 558.0,944.5 559.0,950.5 560.0,956.1 561.0,954.5 562.0,952.8 563.0,941.4 564.0,930.0 565.0,931.9 566.0,934.1 567.0,936.5 568.0,939.0 569.0,930.6 570.0,922.2 571.0,949.3 572.0,976.3 573.0,960.7 574.0,945.2 575.0,926.0 576.0,906.8 577.0,911.5 578.0,916.5 579.0,928.5 580.0,940.6 581.0,937.5 582.0,934.4 583.0,926.3 584.0,917.9 585.0,916.6 586.0,914.9 587.0,927.0 588.0,938.6 589.0,933.6 590.0,928.6 591.0,933.5 592.0,938.6 593.0,933.8 594.0,929.4 595.0,937.9 596.0,946.2 597.0,923.7 598.0,901.1 599.0,918.1 600.0,935.0 601.0,923.5 602.0,912.2 603.0,910.4 604.0,908.7 605.0,922.2 606.0,935.6 607.0,913.9 608.0,892.0 609.0,904.9 610.0,917.6 611.0,914.4 612.0,910.8 613.0,920.4 614.0,930.0 615.0,908.9 616.0,887.9 617.0,898.6 618.0,908.1 619.0,904.9 620.0,900.4 621.0,890.8 622.0,880.4 623.0,872.8 624.0,864.1 625.0,852.5 626.0,840.2 627.0,823.9 628.0,808.7 629.0,801.2 630.0,794.7 631.0,785.5 632.0,780.5 633.0,789.3 634.0,802.8 635.0,813.2 636.0,825.8 637.0,830.8 638.0,833.5 639.0,855.9 640.0,879.6 641.0,882.3 642.0,882.3 643.0,880.2 644.0,876.2 645.0,885.1 646.0,893.8 647.0,906.1 648.0,918.5 649.0,916.7 650.0,914.7 651.0,910.3 652.0,905.7 653.0,920.7 654.0,935.6 655.0,931.0 656.0,926.2 657.0,925.3 658.0,924.1 659.0,919.4 660.0,914.5 661.0,927.7 662.0,940.8 663.0,943.6 664.0,946.3 665.0,932.9 666.0,919.5 667.0,925.3 668.0,930.9 669.0,931.0 670.0,931.1 671.0,934.0 672.0,937.0 673.0,927.8 674.0,918.7 675.0,941.3 676.0,963.9 677.0,951.9 678.0,940.0 679.0,945.0 680.0,950.1 681.0,941.9 682.0,933.6 683.0,951.6 684.0,969.4 685.0,957.4 686.0,945.3 687.0,928.7 688.0,912.0 689.0,932.0 690.0,952.0 691.0,944.2 692.0,936.4 693.0,928.9 694.0,921.3 695.0,928.3 696.0,934.9 697.0,927.8 698.0,920.3 699.0,928.4 700.0,933.0 701.0,924.3 702.0,914.6 703.0,901.7 704.0,895.4 705.0,903.4 706.0,918.0 707.0,930.4 708.0,942.1 709.0,928.1 710.0,908.6 711.0,934.3 712.0,960.1 713.0,955.7 714.0,951.0 715.0,952.0 716.0,952.9 717.0,957.0 718.0,961.2 719.0,950.4 720.0,939.7 721.0,933.8 722.0,927.5 723.0,935.9 724.0,944.1 725.0,938.9 726.0,933.6 727.0,938.2 728.0,942.9 729.0,923.7 730.0,905.0 731.0,916.9 732.0,929.4 733.0,954.6 734.0,979.8 735.0,965.6 736.0,951.0 737.0,956.4 738.0,961.2 739.0,956.3 740.0,951.0 741.0,945.2 742.0,939.3 743.0,946.8 744.0,954.3 745.0,952.7 746.0,951.5 747.0,943.4 748.0,935.6 749.0,937.0 750.0,938.4 751.0,945.0 752.0,951.6 753.0,941.4 754.0,931.1 755.0,931.0 756.0,930.7 757.0,944.9 758.0,958.5 759.0,957.1 760.0,955.5 761.0,944.4 762.0,933.3 763.0,944.7 764.0,956.4 765.0,951.1 766.0,946.1 767.0,943.4 768.0,940.9 769.0,935.2 770.0,929.6 771.0,939.6 772.0,949.4 773.0,940.5 774.0,931.1 775.0,934.2 776.0,937.4 777.0,933.4 778.0,929.3 779.0,941.6 780.0,953.3 781.0,944.3 782.0,934.9 783.0,931.0 784.0,926.2 785.0,924.8 786.0,921.7 787.0,922.3 788.0,920.4 789.0,904.6 790.0,890.7 791.0,876.3 792.0,865.5 793.0,866.4 794.0,869.1 795.0,870.8 796.0,874.7 797.0,877.9 798.0,881.3 799.0,885.7 800.0,889.6 801.0,908.9 802.0,930.5 803.0,932.6 804.0,933.5 805.0,940.6 806.0,947.0 807.0,947.7 808.0,947.2 809.0,952.8 810.0,957.3 811.0,955.1 812.0,951.7 813.0,947.5 814.0,942.3 815.0,935.9 816.0,928.8 817.0,918.8 818.0,909.5 819.0,905.5 820.0,901.5 821.0,899.4 822.0,899.7 823.0,899.0 824.0,899.8 825.0,911.2 826.0,925.6 827.0,925.8 828.0,922.9 829.0,936.7 830.0,951.2 831.0,939.0 832.0,926.0 833.0,940.1 834.0,954.0 835.0,962.2 836.0,970.0 837.0,967.7 838.0,964.9 839.0,954.8 840.0,944.3 841.0,956.3 842.0,968.2 843.0,958.2 844.0,948.5 845.0,950.4 846.0,952.7 847.0,950.0 848.0,947.0 849.0,934.9 850.0,922.6 851.0,938.0 852.0,953.6 853.0,952.0 854.0,950.6 855.0,952.7 856.0,955.2 857.0,943.7 858.0,932.5 859.0,946.2 860.0,960.0 861.0,951.0 862.0,941.9 863.0,938.8 864.0,935.3 865.0,936.3 866.0,937.2 867.0,945.8 868.0,954.4 869.0,950.1 870.0,945.8 871.0,959.4 872.0,972.9 873.0,967.7 874.0,962.4 875.0,964.8 876.0,967.2 877.0,958.0 878.0,948.8 879.0,942.4 880.0,936.0 881.0,932.2 882.0,928.5 883.0,938.1 884.0,947.7 885.0,958.3 886.0,968.8 887.0,968.8 888.0,968.8 889.0,948.6 890.0,928.3 891.0,941.7 892.0,955.0 893.0,957.7 894.0,960.3 895.0,948.0 896.0,935.7 897.0,942.1 898.0,948.7 899.0,943.2 900.0,937.9 901.0,944.1 902.0,950.5 903.0,951.4 904.0,952.4 905.0,949.4 906.0,946.4 907.0,948.4 908.0,950.2 909.0,946.3 910.0,942.3 911.0,947.5 912.0,952.7 913.0,936.2 914.0,919.8 915.0,938.0 916.0,956.2 917.0,959.9 918.0,963.6 919.0,947.3 920.0,930.9 921.0,938.6 922.0,946.4 923.0,951.7 924.0,957.1 925.0,948.1 926.0,939.1 927.0,939.2 928.0,939.1 929.0,942.9 930.0,946.5 931.0,951.1 932.0,955.7 933.0,940.1 934.0,924.7 935.0,935.3 936.0,946.3 937.0,950.4 938.0,954.5 939.0,938.8 940.0,923.0 941.0,933.0 942.0,943.1 943.0,951.7 944.0,960.4 945.0,950.2 946.0,940.3 947.0,939.3 948.0,938.5 949.0,949.7 950.0,961.0 951.0,947.4 952.0,933.7 953.0,936.7 954.0,939.6 955.0,950.0 956.0,960.4 957.0,963.5 958.0,966.7 959.0,947.5 960.0,928.2 961.0,933.7 962.0,939.1 963.0,944.6 964.0,950.0 965.0,960.7 966.0,971.4 967.0,960.7 968.0,949.9 969.0,942.8 970.0,935.6 971.0,945.2 972.0,954.7 973.0,934.1 974.0,913.5 975.0,929.4 976.0,945.2 977.0,949.1 978.0,953.0 979.0,955.4 980.0,957.8 981.0,953.2 982.0,948.7 983.0,936.1 984.0,923.6 985.0,940.2 986.0,956.9 987.0,947.2 988.0,937.4 989.0,938.1 990.0,938.7 991.0,949.7 992.0,960.9 993.0,939.8 994.0,918.9 995.0,948.0 996.0,977.2 997.0,968.3 998.0,959.4 999.0,959.3 1000.0,959.1 1001.0,951.7 1002.0,944.2 1003.0,949.5 1004.0,954.8 1005.0,953.6 1006.0,952.6 1007.0,949.7 1008.0,947.1 1009.0,934.9 1010.0,922.3 1011.0,934.6 1012.0,946.7 1013.0,944.1 1014.0,941.6 1015.0,945.3 1016.0,949.3 1017.0,947.2 1018.0,945.5 1019.0,943.2 1020.0,941.3 1021.0,941.5 1022.0,941.8 1023.0,931.4 1024.0,920.9 1025.0,918.9 1026.0,916.6 1027.0,928.5 1028.0,940.6 1029.0,937.0 1030.0,933.5 1031.0,942.0 1032.0,950.4 1033.0,939.4 1034.0,928.4 1035.0,932.9 1036.0,937.2 1037.0,945.3 1038.0,953.3 1039.0,947.8 1040.0,942.3 1041.0,932.1 1042.0,922.0 1043.0,934.8 1044.0,947.8 1045.0,946.0 1046.0,944.3 1047.0,936.0 1048.0,927.9 1049.0,931.2 1050.0,934.4 1051.0,940.6 1052.0,946.5 1053.0,943.9 1054.0,941.2 1055.0,940.7 1056.0,940.3 1057.0,938.5 1058.0,936.6 1059.0,925.4 1060.0,914.2 1061.0,932.4 1062.0,950.6 1063.0,949.5 1064.0,948.5 1065.0,945.7 1066.0,942.8 1067.0,931.9 1068.0,920.9 1069.0,930.3 1070.0,939.7 1071.0,942.5 1072.0,945.0 1073.0,943.2 1074.0,941.1 1075.0,940.9 1076.0,940.7 1077.0,925.8 1078.0,911.1 1079.0,929.3 1080.0,947.9 1081.0,947.9 1082.0,948.5 1083.0,950.2 1084.0,952.2 1085.0,958.0 1086.0,963.6 1087.0,957.6 1088.0,951.2 1089.0,959.1 1090.0,966.8 1091.0,949.9 1092.0,933.0 1093.0,946.0 1094.0,959.0 1095.0,953.2 1096.0,947.5 1097.0,964.0 1098.0,980.5 1099.0,962.7 1100.0,945.2 1101.0,945.6 1102.0,946.1 1103.0,946.2 1104.0,946.2 1105.0,954.4 1106.0,962.4 1107.0,954.1 1108.0,945.4 1109.0,955.5 1110.0,965.1 1111.0,962.6 1112.0,960.0 1113.0,953.9 1114.0,948.0 1115.0,947.7 1116.0,948.1 1117.0,943.0 1118.0,937.8 1119.0,954.3 1120.0,970.8 1121.0,963.2 1122.0,955.8 1123.0,942.5 1124.0,929.3 1125.0,943.6 1126.0,957.9 1127.0,943.9 1128.0,929.9 1129.0,938.7 1130.0,947.5 1131.0,949.3 1132.0,951.2 1133.0,944.8 1134.0,938.5 1135.0,936.9 1136.0,935.6 1137.0,942.2 1138.0,949.0 1139.0,951.0 1140.0,953.0 1141.0,951.0 1142.0,948.8 1143.0,949.5 1144.0,949.1 1145.0,935.1 1146.0,921.7 1147.0,920.6 1148.0,919.7 1149.0,922.6 1150.0,926.9 1151.0,938.1 1152.0,948.3 1153.0,942.2 1154.0,934.7 1155.0,935.9 1156.0,936.8 1157.0,935.2 1158.0,933.6 1159.0,936.3 1160.0,939.1 1161.0,939.8 1162.0,940.7 1163.0,941.0 1164.0,941.4 1165.0,949.3 1166.0,957.3 1167.0,946.3 1168.0,935.2 1169.0,952.1 1170.0,968.8 1171.0,955.9 1172.0,942.9 1173.0,940.0 1174.0,937.1 1175.0,943.8 1176.0,950.5 1177.0,945.5 1178.0,940.7 1179.0,940.3 1180.0,940.0 1181.0,944.7 1182.0,949.7 1183.0,940.9 1184.0,932.2 1185.0,947.7 1186.0,963.1 1187.0,947.9 1188.0,932.5 1189.0,936.9 1190.0,941.1 1191.0,952.1 1192.0,963.1 1193.0,962.9 1194.0,962.7 1195.0,957.3 1196.0,952.0 1197.0,940.4 1198.0,928.7 1199.0,934.9 1200.0,940.7 1201.0,938.2 1202.0,935.7 1203.0,934.3 1204.0,933.2 1205.0,934.7 1206.0,936.6 1207.0,941.4 1208.0,946.8 1209.0,951.1 1210.0,955.8 1211.0,953.4 1212.0,950.9 1213.0,945.0 1214.0,938.8 1215.0,944.9 1216.0,950.7 1217.0,952.2 1218.0,953.7 1219.0,957.8 1220.0,962.0 1221.0,952.6 1222.0,943.0 1223.0,944.0 1224.0,945.0 1225.0,944.0 1226.0,943.2 1227.0,940.7 1228.0,938.3 1229.0,948.7 1230.0,959.1 1231.0,953.6 1232.0,947.9 1233.0,957.5 1234.0,966.8 1235.0,968.5 1236.0,970.0 1237.0,961.3 1238.0,952.6 1239.0,953.5 1240.0,954.6 1241.0,947.7 1242.0,941.1 1243.0,947.0 1244.0,952.9 1245.0,952.2 1246.0,951.4 1247.0,957.7 1248.0,963.7 1249.0,952.8 1250.0,941.8 1251.0,949.7 1252.0,956.5 1253.0,950.9 1254.0,944.6 1255.0,938.3 1256.0,931.5 1257.0,919.4 1258.0,908.6 1259.0,904.7 1260.0,901.2 1261.0,900.2 1262.0,899.7 1263.0,898.4 1264.0,898.6 1265.0,897.3 1266.0,896.9 1267.0,907.3 1268.0,920.4 1269.0,921.9 1270.0,921.9 1271.0,925.6 1272.0,928.4 1273.0,935.0 1274.0,941.5 1275.0,936.7 1276.0,930.9 1277.0,924.3 1278.0,917.2 1279.0,930.2 1280.0,943.5 1281.0,941.0 1282.0,938.4 1283.0,944.2 1284.0,949.8 1285.0,951.7 1286.0,953.2 1287.0,942.2 1288.0,931.0 1289.0,936.2 1290.0,941.4 1291.0,952.3 1292.0,963.1 1293.0,966.8 1294.0,970.5 1295.0,961.0 1296.0,951.4 1297.0,952.8 1298.0,954.3 1299.0,956.0 1300.0,957.8 1301.0,957.9 1302.0,957.9 1303.0,973.0 1304.0,988.1 1305.0,982.3 1306.0,976.3 1307.0,959.0 1308.0,941.6 1309.0,945.6 1310.0,949.5 1311.0,958.3 1312.0,967.2 1313.0,963.3 1314.0,959.5 1315.0,961.9 1316.0,964.4 1317.0,962.8 1318.0,961.3 1319.0,951.9 1320.0,942.6 1321.0,940.2 1322.0,937.8 1323.0,936.4 1324.0,934.9 1325.0,939.4 1326.0,943.6 1327.0,949.8 1328.0,956.0 1329.0,949.2 1330.0,942.6 1331.0,958.3 1332.0,974.3 1333.0,951.6 1334.0,929.3 1335.0,938.6 1336.0,948.1 1337.0,957.5 1338.0,966.8 1339.0,972.9 1340.0,978.8 1341.0,961.1 1342.0,943.0 1343.0,950.4 1344.0,957.5 1345.0,959.2 1346.0,960.8 1347.0,943.0 1348.0,925.4 1349.0,942.4 1350.0,959.7 1351.0,955.7 1352.0,951.8 1353.0,948.3 1354.0,944.8 1355.0,953.7 1356.0,962.6 1357.0,957.1 1358.0,951.6 1359.0,946.4 1360.0,941.2 1361.0,954.4 1362.0,967.7 1363.0,955.3 1364.0,942.9 1365.0,955.0 1366.0,967.1 1367.0,945.1 1368.0,923.2 1369.0,942.8 1370.0,962.6 1371.0,955.2 1372.0,947.8 1373.0,951.8 1374.0,955.7 1375.0,955.3 1376.0,954.8 1377.0,960.1 1378.0,965.1 1379.0,952.6 1380.0,939.7 1381.0,942.3 1382.0,944.7 1383.0,942.4 1384.0,940.3 1385.0,944.5 1386.0,949.3 1387.0,946.6 1388.0,944.5 1389.0,947.9 1390.0,951.7 1391.0,954.4 1392.0,956.9 1393.0,945.7 1394.0,933.9 1395.0,942.6 1396.0,951.1 1397.0,954.3 1398.0,957.8 1399.0,959.2 1400.0,960.7 1401.0,976.1 1402.0,991.4 1403.0,980.7 1404.0,969.8 1405.0,972.5 1406.0,974.9 1407.0,962.9 1408.0,950.7 1409.0,957.0 1410.0,963.4 1411.0,973.1 1412.0,983.1 1413.0,964.1 1414.0,945.4 1415.0,944.2 1416.0,943.1 1417.0,937.5 1418.0,932.0 1419.0,933.2 1420.0,934.4 1421.0,952.8 1422.0,971.2 1423.0,951.4 1424.0,931.3 1425.0,939.0 1426.0,946.5 1427.0,950.8 1428.0,955.2 1429.0,950.7 1430.0,946.4 1431.0,946.6 1432.0,947.0 1433.0,944.8 1434.0,942.6 1435.0,949.3 1436.0,956.0 1437.0,940.9 1438.0,925.8 1439.0,932.0 1440.0,938.2 1441.0,940.0 1442.0,942.4 1443.0,932.0 1444.0,921.8 1445.0,930.0 1446.0,938.1 1447.0,942.0 1448.0,945.5 1449.0,955.5 1450.0,965.2 1451.0,951.1 1452.0,936.9 1453.0,947.0 1454.0,957.0 1455.0,944.3 1456.0,931.8 1457.0,945.7 1458.0,959.8 1459.0,946.5 1460.0,932.8 1461.0,940.7 1462.0,948.6 1463.0,956.9 1464.0,965.4 1465.0,955.1 1466.0,945.4 1467.0,954.2 1468.0,963.4 1469.0,943.3 1470.0,923.2 1471.0,936.5 1472.0,949.9 1473.0,949.6 1474.0,949.3 1475.0,944.6 1476.0,939.7 1477.0,943.2 1478.0,946.3 1479.0,937.9 1480.0,929.2 1481.0,932.8 1482.0,936.3 1483.0,931.4 1484.0,926.7 1485.0,920.9 1486.0,915.5 1487.0,934.5 1488.0,953.8 1489.0,945.8 1490.0,937.8 1491.0,946.2 1492.0,954.3 1493.0,964.5 1494.0,974.3 1495.0,969.9 1496.0,965.6 1497.0,955.5 1498.0,945.5 1499.0,948.4 1500.0,951.2 1501.0,949.2 1502.0,947.1 1503.0,951.3 1504.0,955.2 1505.0,965.4 1506.0,975.3 1507.0,974.1 1508.0,972.9 1509.0,959.2 1510.0,945.6 1511.0,940.1 1512.0,934.9 1513.0,949.8 1514.0,965.0 1515.0,945.7 1516.0,926.5 1517.0,946.4 1518.0,966.2 1519.0,947.7 1520.0,929.0 1521.0,945.1 1522.0,961.4 1523.0,960.7 1524.0,960.2 1525.0,957.1 1526.0,954.0 1527.0,950.7 1528.0,947.2 1529.0,957.8 1530.0,968.2 1531.0,967.5 1532.0,966.4 1533.0,963.8 1534.0,961.1 1535.0,973.4 1536.0,985.8 1537.0,969.3 1538.0,953.1 1539.0,951.3 1540.0,949.8 1541.0,967.3 1542.0,985.1 1543.0,987.6 1544.0,990.1 1545.0,971.5 1546.0,952.8 1547.0,955.9 1548.0,958.8 1549.0,957.3 1550.0,955.9 1551.0,960.8 1552.0,965.7 1553.0,969.2 1554.0,972.7 1555.0,963.8 1556.0,954.8 1557.0,957.8 1558.0,960.8 1559.0,953.0 1560.0,945.2 1561.0,955.1 1562.0,965.0 1563.0,961.8 1564.0,958.7 1565.0,962.6 1566.0,966.6 1567.0,962.7 1568.0,958.5 1569.0,960.1 1570.0,961.6 1571.0,949.8 1572.0,938.0 1573.0,943.5 1574.0,949.3 1575.0,950.4 1576.0,951.9 1577.0,956.3 1578.0,961.0" stroke="#FF7F0E" stroke-width="8"/>
<path d="M162.0,1124.6 162.8,1120.0 163.5,1115.7 164.2,1117.4 165.0,1120.4 165.8,1122.5 166.5,1124.7 167.2,1121.5 168.0,1118.1 168.8,1127.8 169.5,1137.3 170.2,1134.1 171.0,1130.7 171.8,1138.2 172.5,1144.7 173.2,1141.9 174.0,1138.8 174.8,1143.8 175.5,1148.8 176.2,1144.3 177.0,1139.9 177.8,1140.3 178.5,1141.0 179.2,1137.8 180.0,1134.9 180.8,1141.9 181.5,1148.9 182.2,1145.3 183.0,1141.8 183.8,1144.8 184.5,1147.7 185.2,1148.7 186.0,1149.7 186.8,1149.9 187.5,1150.1 188.2,1147.1 189.0,1144.0 189.8,1138.9 190.5,1133.8 191.2,1136.4 192.0,1139.1 192.8,1145.8 193.5,1152.7 194.2,1153.6 195.0,1154.4 195.8,1155.7 196.5,1156.9 197.2,1151.2 198.0,1145.5 198.8,1144.3 199.5,1143.1 200.2,1149.5 201.0,1156.0 201.8,1156.2 202.5,1156.5 203.2,1154.1 204.0,1151.8 204.8,1152.1 205.5,1152.3 206.2,1148.2 207.0,1144.1 207.8,1147.5 208.5,1150.7 209.2,1155.8 210.0,1160.8 210.8,1153.3 211.5,1145.8 212.2,1146.9 213.0,1147.9 213.8,1148.7 214.5,1149.6 215.2,1149.0 216.0,1148.5 216.8,1144.0 217.5,1139.6 218.2,1144.1 219.0,1148.7 219.8,1149.0 220.5,1149.3 221.2,1150.0 222.0,1150.7 222.8,1151.5 223.5,1152.2 224.2,1153.8 225.0,1155.3 225.8,1152.2 226.5,1148.9 227.2,1157.2 228.0,1165.3 228.8,1158.5 229.5,1151.7 230.2,1156.8 231.0,1162.0 231.8,1164.4 232.5,1167.0 233.2,1159.9 234.0,1152.9 234.8,1149.1 235.5,1145.4 236.2,1142.8 237.0,1140.5 237.8,1143.3 238.5,1146.3 239.2,1150.5 240.0,1154.6 240.8,1157.4 241.5,1159.9 242.2,1157.4 243.0,1154.7 243.8,1155.7 244.5,1156.8 245.2,1166.9 246.0,1177.1 246.8,1170.2 247.5,1163.3 248.2,1156.7 249.0,1150.2 249.8,1158.5 250.5,1166.7 251.2,1162.0 252.0,1157.3 252.8,1153.5 253.5,1149.8 254.2,1157.1 255.0,1164.4 255.8,1161.3 256.5,1158.3 257.2,1160.8 258.0,1163.3 258.8,1168.7 259.5,1174.1 260.2,1168.8 261.0,1163.5 261.8,1160.5 262.5,1157.4 263.2,1165.0 264.0,1172.5 264.8,1160.4 265.5,1148.3 266.2,1150.9 267.0,1153.6 267.8,1161.3 268.5,1169.1 269.2,1169.3 270.0,1169.6 270.8,1163.9 271.5,1158.2 272.2,1156.6 273.0,1154.9 273.8,1157.6 274.5,1159.9 275.2,1158.4 276.0,1155.9 276.8,1152.0 277.5,1147.1 278.2,1141.1 279.0,1136.4 279.8,1133.9 280.5,1134.2 281.2,1137.9 282.0,1142.7 282.8,1147.1 283.5,1150.9 284.2,1152.0 285.0,1152.2 285.8,1152.8 286.5,1153.0 287.2,1154.5 288.0,1155.8 288.8,1150.3 289.5,1144.6 290.2,1152.2 291.0,1159.5 291.8,1162.1 292.5,1164.4 293.2,1154.6 294.0,1144.7 294.8,1140.4 295.5,1135.7 296.2,1137.5 297.0,1138.6 297.8,1134.9 298.5,1130.7 299.2,1123.7 300.0,1116.3 300.8,1112.8 301.5,1108.4 302.2,1098.2 303.0,1088.5 303.8,1081.6 304.5,1075.1 305.2,1072.3 306.0,1070.0 306.8,1064.4 307.5,1060.7 308.2,1061.0 309.0,1063.1 309.8,1065.2 310.5,1068.4 311.2,1076.6 312.0,1085.8 312.8,1092.9 313.5,1099.9 314.2,1108.1 315.0,1116.1 315.8,1124.0 316.5,1131.5 317.2,1135.7 318.0,1139.2 318.8,1139.7 319.5,1139.4 320.2,1148.1 321.0,1156.8 321.8,1157.1 322.5,1157.1 323.2,1159.4 324.0,1161.6 324.8,1161.3 325.5,1160.9 326.2,1162.8 327.0,1164.7 327.8,1159.2 328.5,1153.6 329.2,1156.8 330.0,1159.9 330.8,1163.6 331.5,1167.0 332.2,1167.6 333.0,1168.0 333.8,1171.2 334.5,1174.4 335.2,1167.6 336.0,1160.8 336.8,1166.0 337.5,1171.2 338.2,1170.8 339.0,1170.4 339.8,1176.6 340.5,1182.8 341.2,1178.1 342.0,1173.2 342.8,1173.6 343.5,1173.9 344.2,1175.8 345.0,1177.8 345.8,1179.0 346.5,1180.2 347.2,1172.8 348.0,1165.5 348.8,1167.7 349.5,1169.9 350.2,1175.6 351.0,1181.3 351.8,1180.3 352.5,1179.2 353.2,1178.1 354.0,1176.9 354.8,1181.1 355.5,1185.3 356.2,1175.7 357.0,1166.0 357.8,1170.7 358.5,1175.4 359.2,1173.5 360.0,1171.6 360.8,1174.0 361.5,1176.5 362.2,1173.6 363.0,1170.8 363.8,1174.0 364.5,1177.2 365.2,1184.4 366.0,1191.6 366.8,1185.8 367.5,1180.0 368.2,1178.8 369.0,1177.5 369.8,1181.5 370.5,1185.3 371.2,1182.1 372.0,1178.7 372.8,1182.6 373.5,1186.5 374.2,1176.7 375.0,1166.9 375.8,1165.6 376.5,1164.4 377.2,1160.9 378.0,1157.6 378.8,1160.5 379.5,1163.5 380.2,1160.3 381.0,1157.1 381.8,1167.2 382.5,1177.4 383.2,1173.0 384.0,1168.7 384.8,1169.7 385.5,1170.7 386.2,1169.2 387.0,1167.7 387.8,1166.6 388.5,1165.5 389.2,1164.2 390.0,1162.8 390.8,1158.4 391.5,1154.0 392.2,1162.5 393.0,1170.9 393.8,1164.8 394.5,1158.8 395.2,1164.8 396.0,1170.8 396.8,1166.6 397.5,1161.9 398.2,1151.3 399.0,1140.6 399.8,1144.9 400.5,1151.5 401.2,1155.0 402.0,1159.0 402.8,1161.9 403.5,1163.9 404.2,1164.2 405.0,1164.0 405.8,1167.3 406.5,1170.4 407.2,1167.5 408.0,1164.5 408.8,1165.3 409.5,1165.9 410.2,1168.2 411.0,1170.4 411.8,1170.1 412.5,1169.9 413.2,1167.3 414.0,1164.9 414.8,1169.2 415.5,1173.6 416.2,1171.6 417.0,1169.6 417.8,1172.6 418.5,1175.6 419.2,1174.9 420.0,1174.2 420.8,1178.0 421.5,1181.8 422.2,1172.7 423.0,1163.5 423.8,1174.9 424.5,1186.5 425.2,1180.7 426.0,1175.0 426.8,1180.6 427.5,1186.2 428.2,1181.6 429.0,1177.0 429.8,1178.8 430.5,1180.5 431.2,1182.6 432.0,1184.6 432.8,1182.2 433.5,1179.6 434.2,1179.3 435.0,1178.8 435.8,1179.6 436.5,1180.5 437.2,1185.3 438.0,1190.2 438.8,1180.6 439.5,1171.0 440.2,1175.9 441.0,1180.9 441.8,1185.3 442.5,1189.5 443.2,1184.4 444.0,1179.2 444.8,1184.4 445.5,1189.6 446.2,1179.0 447.0,1168.4 447.8,1170.0 448.5,1171.6 449.2,1174.0 450.0,1176.5 450.8,1175.5 451.5,1174.4 452.2,1174.7 453.0,1174.8 453.8,1178.5 454.5,1182.1 455.2,1176.8 456.0,1171.5 456.8,1175.5 457.5,1179.5 458.2,1179.3 459.0,1179.2 459.8,1178.1 460.5,1177.3 461.2,1184.9 462.0,1192.8 462.8,1186.6 463.5,1180.6 464.2,1189.1 465.0,1197.5 465.8,1190.5 466.5,1183.3 467.2,1187.2 468.0,1190.8 468.8,1190.3 469.5,1189.9 470.2,1186.6 471.0,1183.4 471.8,1187.9 472.5,1192.4 473.2,1194.0 474.0,1195.6 474.8,1194.0 475.5,1192.4 476.2,1190.6 477.0,1188.7 477.8,1192.6 478.5,1196.4 479.2,1194.4 480.0,1192.4 480.8,1191.3 481.5,1190.1 482.2,1183.0 483.0,1175.8 483.8,1180.8 484.5,1185.9 485.2,1188.9 486.0,1191.9 486.8,1185.9 487.5,1179.8 488.2,1177.4 489.0,1174.9 489.8,1177.5 490.5,1180.1 491.2,1181.7 492.0,1183.3 492.8,1178.7 493.5,1174.1 494.2,1177.5 495.0,1181.0 495.8,1183.2 496.5,1185.1 497.2,1180.9 498.0,1176.6 498.8,1177.0 499.5,1177.3 500.2,1182.2 501.0,1187.2 501.8,1182.3 502.5,1177.5 503.2,1174.4 504.0,1171.4 504.8,1176.0 505.5,1180.9 506.2,1181.8 507.0,1182.9 507.8,1182.0 508.5,1181.1 509.2,1181.3 510.0,1181.4 510.8,1180.1 511.5,1178.6 512.2,1189.0 513.0,1199.3 513.8,1188.7 514.5,1178.3 515.2,1181.5 516.0,1184.8 516.8,1186.4 517.5,1187.9 518.2,1189.8 519.0,1191.7 519.8,1187.7 520.5,1183.8 521.2,1185.8 522.0,1187.8 522.8,1185.4 523.5,1183.2 524.2,1186.4 525.0,1189.6 525.8,1183.8 526.5,1178.0 527.2,1187.5 528.0,1196.9 528.8,1194.8 529.5,1192.6 530.2,1193.9 531.0,1195.2 531.8,1192.4 532.5,1189.4 533.2,1183.3 534.0,1177.1 534.8,1179.0 535.5,1180.9 536.2,1181.6 537.0,1182.4 537.8,1188.6 538.5,1195.1 539.2,1188.1 540.0,1181.4 540.8,1184.7 541.5,1188.1 542.2,1185.3 543.0,1182.6 543.8,1180.2 544.5,1177.9 545.2,1179.1 546.0,1180.3 546.8,1182.9 547.5,1185.6 548.2,1186.1 549.0,1186.6 549.8,1182.5 550.5,1178.5 551.2,1181.6 552.0,1184.8 552.8,1185.6 553.5,1186.3 554.2,1188.7 555.0,1191.1 555.8,1193.2 556.5,1195.1 557.2,1188.1 558.0,1180.9 558.8,1182.3 559.5,1183.8 560.2,1181.0 561.0,1178.2 561.8,1188.8 562.5,1199.4 563.2,1194.9 564.0,1190.4 564.8,1186.0 565.5,1181.5 566.2,1191.9 567.0,1202.2 567.8,1195.7 568.5,1189.1 569.2,1190.0 570.0,1190.8 570.8,1191.3 571.5,1191.8 572.2,1193.0 573.0,1194.3 573.8,1186.8 574.5,1179.3 575.2,1184.2 576.0,1189.2 576.8,1191.8 577.5,1194.3 578.2,1193.1 579.0,1191.9 579.8,1190.3 580.5,1188.6 581.2,1187.1 582.0,1185.6 582.8,1182.8 583.5,1180.0 584.2,1178.4 585.0,1176.8 585.8,1177.6 586.5,1178.4 587.2,1184.7 588.0,1190.9 588.8,1190.4 589.5,1189.8 590.2,1187.7 591.0,1185.6 591.8,1187.8 592.5,1189.9 593.2,1194.7 594.0,1199.6 594.8,1194.4 595.5,1189.2 596.2,1187.6 597.0,1185.8 597.8,1193.5 598.5,1201.2 599.2,1194.1 600.0,1187.1 600.8,1184.5 601.5,1182.0 602.2,1187.3 603.0,1192.7 603.8,1187.1 604.5,1181.6 605.2,1184.0 606.0,1186.5 606.8,1187.7 607.5,1188.9 608.2,1195.2 609.0,1201.5 609.8,1193.3 610.5,1185.1 611.2,1189.3 612.0,1193.4 612.8,1187.3 613.5,1181.3 614.2,1185.0 615.0,1188.7 615.8,1189.3 616.5,1189.9 617.2,1191.5 618.0,1193.0 618.8,1196.9 619.5,1200.9 620.2,1194.8 621.0,1188.7 621.8,1188.5 622.5,1188.1 623.2,1187.1 624.0,1185.9 624.8,1185.3 625.5,1184.5 626.2,1185.9 627.0,1187.4 627.8,1186.0 628.5,1184.7 629.2,1187.0 630.0,1189.5 630.8,1185.2 631.5,1181.2 632.2,1184.8 633.0,1188.5 633.8,1188.6 634.5,1188.8 635.2,1188.5 636.0,1188.2 636.8,1189.5 637.5,1190.7 638.2,1190.5 639.0,1190.1 639.8,1188.9 640.5,1187.6 641.2,1187.6 642.0,1187.5 642.8,1183.5 643.5,1179.4 644.2,1180.4 645.0,1181.4 645.8,1183.7 646.5,1186.1 647.2,1187.7 648.0,1189.3 648.8,1190.1 649.5,1190.9 650.2,1188.1 651.0,1185.3 651.8,1183.8 652.5,1182.3 653.2,1185.1 654.0,1187.9 654.8,1187.1 655.5,1186.2 656.2,1183.6 657.0,1180.9 657.8,1185.6 658.5,1190.2 659.2,1192.7 660.0,1195.1 660.8,1190.6 661.5,1186.0 662.2,1182.1 663.0,1178.1 663.8,1181.4 664.5,1184.3 665.2,1183.8 666.0,1182.4 666.8,1176.4 667.5,1170.3 668.2,1169.1 669.0,1166.8 669.8,1163.7 670.5,1163.9 671.2,1168.8 672.0,1176.1 672.8,1178.1 673.5,1177.9 674.2,1181.5 675.0,1184.3 675.8,1185.5 676.5,1186.4 677.2,1189.6 678.0,1192.9 678.8,1188.5 679.5,1184.2 680.2,1187.6 681.0,1191.0 681.8,1196.1 682.5,1201.2 683.2,1196.3 684.0,1191.3 684.8,1188.8 685.5,1186.1 686.2,1191.9 687.0,1197.5 687.8,1196.0 688.5,1194.4 689.2,1187.2 690.0,1180.1 690.8,1184.2 691.5,1188.5 692.2,1184.2 693.0,1180.0 693.8,1183.5 694.5,1187.0 695.2,1189.5 696.0,1192.0 696.8,1191.5 697.5,1190.9 698.2,1185.7 699.0,1180.5 699.8,1181.0 700.5,1181.6 701.2,1187.9 702.0,1194.3 702.8,1191.9 703.5,1189.5 704.2,1186.9 705.0,1184.4 705.8,1185.4 706.5,1186.3 707.2,1183.0 708.0,1179.6 708.8,1177.6 709.5,1175.5 710.2,1176.0 711.0,1176.5 711.8,1181.6 712.5,1186.8 713.2,1182.9 714.0,1179.2 714.8,1183.3 715.5,1187.4 716.2,1188.1 717.0,1188.8 717.8,1187.1 718.5,1185.4 719.2,1182.5 720.0,1179.5 720.8,1179.8 721.5,1179.9 722.2,1178.7 723.0,1177.4 723.8,1178.9 724.5,1180.3 725.2,1182.2 726.0,1184.1 726.8,1180.8 727.5,1177.7 728.2,1181.6 729.0,1185.7 729.8,1181.5 730.5,1177.3 731.2,1174.7 732.0,1172.2 732.8,1169.8 733.5,1167.3 734.2,1168.8 735.0,1170.2 735.8,1168.8 736.5,1167.3 737.2,1172.0 738.0,1176.7 738.8,1175.1 739.5,1173.5 740.2,1178.3 741.0,1183.0 741.8,1179.7 742.5,1176.5 743.2,1176.3 744.0,1176.3 744.8,1171.9 745.5,1167.7 746.2,1168.2 747.0,1168.8 747.8,1171.9 748.5,1174.9 749.2,1173.9 750.0,1172.8 750.8,1170.4 751.5,1167.9 752.2,1168.6 753.0,1169.3 753.8,1171.0 754.5,1172.9 755.2,1174.1 756.0,1175.3 756.8,1174.3 757.5,1173.0 758.2,1170.0 759.0,1166.3 759.8,1163.1 760.5,1159.0 761.2,1155.7 762.0,1153.3 762.8,1152.8 763.5,1155.8 764.2,1159.2 765.0,1161.9 765.8,1167.0 766.5,1171.6 767.2,1178.4 768.0,1184.8 768.8,1187.9 769.5,1190.8 770.2,1190.3 771.0,1189.7 771.8,1186.7 772.5,1183.5 773.2,1183.1 774.0,1182.6 774.8,1191.1 775.5,1199.3 776.2,1194.5 777.0,1189.6 777.8,1187.4 778.5,1185.2 779.2,1186.0 780.0,1187.0 780.8,1187.5 781.5,1188.2 782.2,1186.6 783.0,1185.1 783.8,1185.8 784.5,1186.5 785.2,1190.4 786.0,1194.4 786.8,1189.8 787.5,1185.2 788.2,1186.0 789.0,1186.8 789.8,1189.7 790.5,1192.6 791.2,1191.5 792.0,1190.3 792.8,1189.8 793.5,1189.4 794.2,1190.5 795.0,1191.6 795.8,1189.1 796.5,1186.6 797.2,1189.0 798.0,1191.4 798.8,1190.0 799.5,1188.5 800.2,1193.5 801.0,1198.5 801.8,1193.4 802.5,1188.2 803.2,1189.5 804.0,1190.8 804.8,1192.9 805.5,1194.9 806.2,1190.9 807.0,1186.8 807.8,1188.6 808.5,1190.4 809.2,1187.5 810.0,1184.7 810.8,1185.1 811.5,1185.6 812.2,1185.8 813.0,1186.1 813.8,1186.5 814.5,1187.0 815.2,1188.3 816.0,1189.6 816.8,1185.0 817.5,1180.3 818.2,1185.8 819.0,1191.3 819.8,1190.7 820.5,1190.1 821.2,1188.5 822.0,1186.9 822.8,1184.5 823.5,1182.1 824.2,1185.8 825.0,1189.5 825.8,1189.1 826.5,1188.6 827.2,1194.8 828.0,1201.1 828.8,1198.5 829.5,1195.9 830.2,1193.3 831.0,1190.6 831.8,1189.6 832.5,1188.5 833.2,1190.6 834.0,1192.8 834.8,1188.7 835.5,1184.5 836.2,1185.1 837.0,1185.6 837.8,1189.9 838.5,1194.3 839.2,1188.1 840.0,1181.9 840.8,1185.6 841.5,1189.4 842.2,1188.1 843.0,1186.8 843.8,1188.8 844.5,1190.9 845.2,1191.8 846.0,1192.7 846.8,1190.9 847.5,1188.9 848.2,1191.5 849.0,1194.0 849.8,1191.0 850.5,1188.0 851.2,1190.2 852.0,1192.3 852.8,1189.5 853.5,1186.8 854.2,1190.2 855.0,1193.7 855.8,1194.0 856.5,1194.3 857.2,1190.5 858.0,1186.7 858.8,1181.5 859.5,1176.3 860.2,1179.8 861.0,1183.1 861.8,1184.6 862.5,1186.0 863.2,1182.9 864.0,1179.7 864.8,1181.3 865.5,1183.0 866.2,1187.6 867.0,1192.2 867.8,1186.8 868.5,1181.4 869.2,1184.1 870.0,1186.8 870.8,1190.5 871.5,1194.1 872.2,1186.1 873.0,1178.0 873.8,1180.1 874.5,1182.3 875.2,1185.2 876.0,1188.1 876.8,1184.7 877.5,1181.4 878.2,1184.7 879.0,1188.0 879.8,1190.3 880.5,1192.7 881.2,1191.2 882.0,1189.7 882.8,1187.3 883.5,1184.8 884.2,1183.6 885.0,1182.4 885.8,1183.8 886.5,1185.3 887.2,1183.3 888.0,1181.4 888.8,1181.8 889.5,1182.4 890.2,1185.3 891.0,1188.2 891.8,1180.4 892.5,1172.9 893.2,1179.8 894.0,1186.8 894.8,1183.4 895.5,1180.1 896.2,1184.3 897.0,1188.4 897.8,1186.6 898.5,1184.8 899.2,1184.6 900.0,1184.2 900.8,1184.6 901.5,1185.0 902.2,1190.0 903.0,1194.9 903.8,1191.5 904.5,1188.2 905.2,1189.7 906.0,1191.1 906.8,1185.2 907.5,1179.4 908.2,1180.8 909.0,1182.3 909.8,1181.8 910.5,1181.2 911.2,1181.2 912.0,1181.1 912.8,1184.3 913.5,1187.5 914.2,1187.1 915.0,1186.7 915.8,1182.8 916.5,1179.1 917.2,1175.4 918.0,1171.9 918.8,1175.5 919.5,1179.3 920.2,1177.5 921.0,1175.8 921.8,1177.5 922.5,1179.2 923.2,1182.5 924.0,1185.8 924.8,1186.3 925.5,1186.8 926.2,1190.4 927.0,1193.9 927.8,1186.9 928.5,1180.0 929.2,1178.6 930.0,1177.3 930.8,1176.3 931.5,1175.3 932.2,1185.1 933.0,1195.0 933.8,1186.4 934.5,1177.9 935.2,1181.2 936.0,1184.5 936.8,1187.4 937.5,1190.2 938.2,1184.2 939.0,1178.2 939.8,1181.4 940.5,1184.6 941.2,1180.3 942.0,1176.1 942.8,1180.5 943.5,1185.0 944.2,1178.0 945.0,1171.2 945.8,1174.5 946.5,1177.9 947.2,1178.3 948.0,1178.8 948.8,1180.1 949.5,1181.4 950.2,1184.9 951.0,1188.3 951.8,1189.1 952.5,1189.7 953.2,1190.4 954.0,1190.9 954.8,1190.8 955.5,1190.5 956.2,1183.2 957.0,1175.8 957.8,1178.8 958.5,1181.7 959.2,1184.3 960.0,1187.0 960.8,1186.0 961.5,1185.2 962.2,1183.8 963.0,1182.7 963.8,1179.7 964.5,1176.9 965.2,1179.7 966.0,1182.5 966.8,1180.0 967.5,1177.4 968.2,1176.4 969.0,1175.4 969.8,1179.6 970.5,1183.7 971.2,1181.7 972.0,1179.7 972.8,1179.5 973.5,1179.3 974.2,1180.6 975.0,1181.9 975.8,1182.1 976.5,1182.3 977.2,1179.4 978.0,1176.6 978.8,1174.7 979.5,1172.9 980.2,1174.7 981.0,1176.5 981.8,1175.9 982.5,1175.4 983.2,1177.0 984.0,1178.7 984.8,1180.2 985.5,1181.7 986.2,1180.0 987.0,1178.4 987.8,1178.3 988.5,1178.3 989.2,1176.1 990.0,1173.8 990.8,1177.4 991.5,1181.0 992.2,1179.7 993.0,1178.3 993.8,1180.2 994.5,1182.0 995.2,1182.9 996.0,1183.8 996.8,1182.3 997.5,1180.9 998.2,1179.0 999.0,1177.2 999.8,1179.4 1000.5,1181.9 1001.2,1185.1 1002.0,1188.4 1002.8,1182.0 1003.5,1175.7 1004.2,1180.5 1005.0,1185.2 1005.8,1185.9 1006.5,1186.5 1007.2,1186.7 1008.0,1186.8 1008.8,1186.5 1009.5,1186.2 1010.2,1184.4 1011.0,1182.7 1011.8,1184.2 1012.5,1185.7 1013.2,1189.4 1014.0,1193.0 1014.8,1189.3 1015.5,1185.4 1016.2,1186.9 1017.0,1188.3 1017.8,1187.7 1018.5,1187.1 1019.2,1190.9 1020.0,1194.6 1020.8,1195.5 1021.5,1196.4 1022.2,1191.3 1023.0,1186.2 1023.8,1187.1 1024.5,1188.1 1025.2,1185.1 1026.0,1182.1 1026.8,1189.4 1027.5,1196.6 1028.2,1197.7 1029.0,1198.7 1029.8,1197.6 1030.5,1196.3 1031.2,1192.3 1032.0,1188.4 1032.8,1191.9 1033.5,1195.4 1034.2,1198.9 1035.0,1202.4 1035.8,1195.4 1036.5,1188.5 1037.2,1189.7 1038.0,1190.9 1038.8,1195.5 1039.5,1200.1 1040.2,1196.5 1041.0,1192.9 1041.8,1196.5 1042.5,1199.9 1043.2,1196.5 1044.0,1193.1 1044.8,1193.9 1045.5,1194.7 1046.2,1191.3 1047.0,1187.9 1047.8,1189.9 1048.5,1191.9 1049.2,1193.5 1050.0,1195.1 1050.8,1194.6 1051.5,1194.2 1052.2,1196.4 1053.0,1198.7 1053.8,1197.8 1054.5,1196.9 1055.2,1194.6 1056.0,1192.4 1056.8,1195.7 1057.5,1198.9 1058.2,1199.2 1059.0,1199.4 1059.8,1196.4 1060.5,1193.5 1061.2,1194.6 1062.0,1195.6 1062.8,1196.4 1063.5,1197.2 1064.2,1196.2 1065.0,1195.2 1065.8,1193.8 1066.5,1192.4 1067.2,1194.7 1068.0,1196.9 1068.8,1197.0 1069.5,1197.0 1070.2,1194.0 1071.0,1191.0 1071.8,1193.6 1072.5,1196.3 1073.2,1197.5 1074.0,1198.8 1074.8,1197.2 1075.5,1195.7 1076.2,1193.3 1077.0,1191.0 1077.8,1199.3 1078.5,1207.5 1079.2,1206.3 1080.0,1205.0 1080.8,1205.0 1081.5,1205.1 1082.2,1203.3 1083.0,1201.5 1083.8,1199.3 1084.5,1197.2 1085.2,1192.7 1086.0,1188.3 1086.8,1196.0 1087.5,1203.6 1088.2,1204.9 1089.0,1206.2 1089.8,1199.8 1090.5,1193.3 1091.2,1196.3 1092.0,1199.2 1092.8,1197.9 1093.5,1196.5 1094.2,1199.6 1095.0,1202.7 1095.8,1196.1 1096.5,1189.6 1097.2,1197.6 1098.0,1205.8 1098.8,1201.5 1099.5,1197.2 1100.2,1193.2 1101.0,1189.2 1101.8,1188.9 1102.5,1188.6 1103.2,1193.2 1104.0,1197.8 1104.8,1199.8 1105.5,1201.7 1106.2,1197.0 1107.0,1192.2 1107.8,1193.1 1108.5,1194.2 1109.2,1194.2 1110.0,1194.2 1110.8,1197.3 1111.5,1200.3 1112.2,1198.6 1113.0,1196.9 1113.8,1196.0 1114.5,1195.1 1115.2,1194.7 1116.0,1194.2 1116.8,1193.9 1117.5,1193.5 1118.2,1196.1 1119.0,1198.6 1119.8,1199.0 1120.5,1199.3 1121.2,1196.0 1122.0,1192.8 1122.8,1193.2 1123.5,1193.6 1124.2,1190.2 1125.0,1186.9 1125.8,1191.4 1126.5,1195.9 1127.2,1194.8 1128.0,1193.9 1128.8,1197.2 1129.5,1200.7 1130.2,1194.8 1131.0,1188.8 1131.8,1197.9 1132.5,1206.9 1133.2,1202.5 1134.0,1197.9 1134.8,1198.2 1135.5,1198.3 1136.2,1198.4 1137.0,1198.5 1137.8,1195.8 1138.5,1193.1 1139.2,1195.0 1140.0,1197.1 1140.8,1196.5 1141.5,1196.0 1142.2,1194.1 1143.0,1192.3 1143.8,1195.1 1144.5,1197.9 1145.2,1196.7 1146.0,1195.5 1146.8,1193.9 1147.5,1192.2 1148.2,1193.4 1149.0,1194.6 1149.8,1194.7 1150.5,1194.8 1151.2,1196.7 1152.0,1198.5 1152.8,1202.6 1153.5,1206.7 1154.2,1201.4 1155.0,1196.2 1155.8,1199.3 1156.5,1202.4 1157.2,1196.1 1158.0,1189.8 1158.8,1190.9 1159.5,1191.9 1160.2,1192.6 1161.0,1193.3 1161.8,1195.0 1162.5,1196.6 1163.2,1196.4 1164.0,1196.1 1164.8,1200.5 1165.5,1204.8 1166.2,1200.6 1167.0,1196.3 1167.8,1196.3 1168.5,1196.3 1169.2,1198.4 1170.0,1200.5 1170.8,1196.4 1171.5,1192.3 1172.2,1194.3 1173.0,1196.3 1173.8,1198.2 1174.5,1200.1 1175.2,1197.0 1176.0,1193.9 1176.8,1198.6 1177.5,1203.4 1178.2,1200.8 1179.0,1198.2 1179.8,1196.9 1180.5,1195.7 1181.2,1196.4 1182.0,1197.1 1182.8,1198.2 1183.5,1199.3 1184.2,1193.5 1185.0,1187.7 1185.8,1193.5 1186.5,1199.2 1187.2,1196.1 1188.0,1193.0 1188.8,1198.2 1189.5,1203.4 1190.2,1197.1 1191.0,1190.7 1191.8,1194.0 1192.5,1197.3 1193.2,1199.9 1194.0,1202.4 1194.8,1204.5 1195.5,1206.6 1196.2,1202.4 1197.0,1198.3 1197.8,1198.7 1198.5,1199.0 1199.2,1199.0 1200.0,1199.0 1200.8,1197.1 1201.5,1195.2 1202.2,1195.1 1203.0,1195.0 1203.8,1194.3 1204.5,1193.7 1205.2,1196.0 1206.0,1198.4 1206.8,1199.5 1207.5,1200.5 1208.2,1197.3 1209.0,1194.1 1209.8,1195.6 1210.5,1197.0 1211.2,1195.9 1212.0,1194.7 1212.8,1190.9 1213.5,1187.2 1214.2,1191.4 1215.0,1195.6 1215.8,1192.6 1216.5,1189.6 1217.2,1193.0 1218.0,1196.4 1218.8,1196.4 1219.5,1196.4 1220.2,1195.7 1221.0,1194.9 1221.8,1195.4 1222.5,1195.9 1223.2,1194.4 1224.0,1192.9 1224.8,1191.2 1225.5,1189.5 1226.2,1194.0 1227.0,1198.4 1227.8,1195.5 1228.5,1192.6 1229.2,1196.9 1230.0,1201.2 1230.8,1200.4 1231.5,1199.5 1232.2,1194.1 1233.0,1188.7 1233.8,1188.8 1234.5,1188.9 1235.2,1192.6 1236.0,1196.3 1236.8,1194.5 1237.5,1192.7 1238.2,1191.4 1239.0,1190.2 1239.8,1189.6 1240.5,1189.1 1241.2,1190.1 1242.0,1191.2 1242.8,1191.4 1243.5,1191.7 1244.2,1190.1 1245.0,1188.5 1245.8,1190.3 1246.5,1192.1 1247.2,1191.4 1248.0,1190.8 1248.8,1192.2 1249.5,1193.7 1250.2,1192.2 1251.0,1190.6 1251.8,1194.6 1252.5,1198.5 1253.2,1196.4 1254.0,1194.4 1254.8,1192.1 1255.5,1189.8 1256.2,1189.5 1257.0,1189.3 1257.8,1192.9 1258.5,1196.6 1259.2,1197.4 1260.0,1198.2 1260.8,1196.7 1261.5,1195.2 1262.2,1191.8 1263.0,1188.4 1263.8,1190.6 1264.5,1192.8 1265.2,1193.8 1266.0,1194.8 1266.8,1193.3 1267.5,1191.8 1268.2,1194.2 1269.0,1196.6 1269.8,1197.0 1270.5,1197.5 1271.2,1197.4 1272.0,1197.4 1272.8,1199.4 1273.5,1201.4 1274.2,1199.7 1275.0,1198.0 1275.8,1197.6 1276.5,1197.2 1277.2,1196.0 1278.0,1194.7 1278.8,1198.1 1279.5,1201.4 1280.2,1196.3 1281.0,1191.1 1281.8,1197.8 1282.5,1204.4 1283.2,1202.4 1284.0,1200.5 1284.8,1199.3 1285.5,1198.1 1286.2,1195.2 1287.0,1192.3 1287.8,1193.7 1288.5,1195.2 1289.2,1193.2 1290.0,1191.2 1290.8,1191.9 1291.5,1192.7 1292.2,1194.4 1293.0,1196.2 1293.8,1194.6 1294.5,1192.9 1295.2,1192.3 1296.0,1191.7 1296.8,1193.2 1297.5,1194.7 1298.2,1193.4 1299.0,1192.1 1299.8,1192.4 1300.5,1192.8 1301.2,1193.2 1302.0,1193.6 1302.8,1191.5 1303.5,1189.4 1304.2,1190.7 1305.0,1192.0 1305.8,1194.1 1306.5,1196.3 1307.2,1196.8 1308.0,1197.4 1308.8,1193.9 1309.5,1190.4 1310.2,1191.3 1311.0,1192.2 1311.8,1190.1 1312.5,1188.0 1313.2,1189.1 1314.0,1190.3 1314.8,1185.7 1315.5,1181.1 1316.2,1184.6 1317.0,1188.0 1317.8,1190.9 1318.5,1193.8 1319.2,1188.5 1320.0,1183.2 1320.8,1186.2 1321.5,1189.1 1322.2,1186.5 1323.0,1183.9 1323.8,1187.5 1324.5,1191.2 1325.2,1187.5 1326.0,1183.9 1326.8,1188.8 1327.5,1193.6 1328.2,1191.1 1329.0,1188.7 1329.8,1186.0 1330.5,1183.4 1331.2,1186.3 1332.0,1189.2 1332.8,1187.5 1333.5,1185.7 1334.2,1185.5 1335.0,1185.3 1335.8,1186.3 1336.5,1187.2 1337.2,1190.3 1338.0,1193.3 1338.8,1191.4 1339.5,1189.6 1340.2,1192.0 1341.0,1194.5 1341.8,1191.8 1342.5,1189.1 1343.2,1189.8 1344.0,1190.5 1344.8,1186.4 1345.5,1182.3 1346.2,1184.8 1347.0,1187.3 1347.8,1188.6 1348.5,1189.8 1349.2,1189.0 1350.0,1188.0 1350.8,1190.7 1351.5,1193.4 1352.2,1189.3 1353.0,1185.3 1353.8,1188.5 1354.5,1191.7 1355.2,1191.9 1356.0,1192.0 1356.8,1190.8 1357.5,1189.7 1358.2,1190.8 1359.0,1191.8 1359.8,1192.1 1360.5,1192.3 1361.2,1194.3 1362.0,1196.3 1362.8,1196.0 1363.5,1195.7 1364.2,1196.5 1365.0,1197.4 1365.8,1196.5 1366.5,1195.7 1367.2,1192.3 1368.0,1188.9 1368.8,1190.0 1369.5,1191.0 1370.2,1189.0 1371.0,1187.0 1371.8,1190.5 1372.5,1193.9 1373.2,1195.8 1374.0,1197.7 1374.8,1194.8 1375.5,1191.9 1376.2,1192.3 1377.0,1192.7 1377.8,1192.9 1378.5,1193.2 1379.2,1191.5 1380.0,1189.9 1380.8,1193.2 1381.5,1196.5 1382.2,1194.2 1383.0,1191.8 1383.8,1193.7 1384.5,1195.6 1385.2,1191.7 1386.0,1187.6 1386.8,1193.9 1387.5,1200.2 1388.2,1198.4 1389.0,1196.6 1389.8,1194.8 1390.5,1193.0 1391.2,1193.0 1392.0,1193.1 1392.8,1194.7 1393.5,1196.4 1394.2,1192.4 1395.0,1188.5 1395.8,1191.4 1396.5,1194.4 1397.2,1195.4 1398.0,1196.5 1398.8,1195.0 1399.5,1193.4 1400.2,1195.1 1401.0,1196.8 1401.8,1195.7 1402.5,1194.5 1403.2,1193.8 1404.0,1193.1 1404.8,1196.3 1405.5,1199.5 1406.2,1196.9 1407.0,1194.4 1407.8,1195.6 1408.5,1196.9 1409.2,1195.3 1410.0,1193.8 1410.8,1192.9 1411.5,1191.9 1412.2,1193.2 1413.0,1194.4 1413.8,1191.8 1414.5,1189.1 1415.2,1189.1 1416.0,1189.1 1416.8,1189.9 1417.5,1190.7 1418.2,1191.6 1419.0,1192.4 1419.8,1192.1 1420.5,1191.7 1421.2,1193.1 1422.0,1194.5 1422.8,1188.9 1423.5,1183.3 1424.2,1184.0 1425.0,1184.7 1425.8,1188.1 1426.5,1191.5 1427.2,1187.1 1428.0,1182.7 1428.8,1185.3 1429.5,1187.8 1430.2,1185.2 1431.0,1182.4 1431.8,1179.7 1432.5,1176.8 1433.2,1177.3 1434.0,1177.6 1434.8,1173.0 1435.5,1168.3 1436.2,1173.0 1437.0,1177.7 1437.8,1172.7 1438.5,1167.8 1439.2,1165.1 1440.0,1162.6 1440.8,1159.8 1441.5,1157.3 1442.2,1158.3 1443.0,1159.5 1443.8,1160.8 1444.5,1162.4 1445.2,1160.4 1446.0,1158.6 1446.8,1162.1 1447.5,1165.8 1448.2,1163.1 1449.0,1160.5 1449.8,1161.5 1450.5,1162.5 1451.2,1162.0 1452.0,1161.4 1452.8,1161.3 1453.5,1161.3 1454.2,1167.8 1455.0,1174.3 1455.8,1171.9 1456.5,1169.6 1457.2,1169.6 1458.0,1169.8 1458.8,1175.7 1459.5,1181.6 1460.2,1177.9 1461.0,1174.1 1461.8,1178.4 1462.5,1182.6 1463.2,1184.1 1464.0,1185.6 1464.8,1188.9 1465.5,1192.2 1466.2,1190.8 1467.0,1189.3 1467.8,1188.0 1468.5,1186.8 1469.2,1190.9 1470.0,1195.0 1470.8,1191.2 1471.5,1187.4 1472.2,1187.3 1473.0,1187.2 1473.8,1186.3 1474.5,1185.4 1475.2,1190.4 1476.0,1195.4 1476.8,1196.1 1477.5,1196.7 1478.2,1196.8 1479.0,1196.9 1479.8,1193.7 1480.5,1190.5 1481.2,1188.7 1482.0,1186.9 1482.8,1188.4 1483.5,1189.9 1484.2,1193.4 1485.0,1196.9 1485.8,1197.4 1486.5,1197.8 1487.2,1191.6 1488.0,1185.5 1488.8,1191.4 1489.5,1197.2 1490.2,1196.7 1491.0,1196.3 1491.8,1194.9 1492.5,1193.4 1493.2,1192.9 1494.0,1192.4 1494.8,1191.9 1495.5,1191.6 1496.2,1191.5 1497.0,1191.5 1497.8,1192.3 1498.5,1193.0 1499.2,1192.4 1500.0,1191.7 1500.8,1195.7 1501.5,1199.7 1502.2,1198.9 1503.0,1198.1 1503.8,1196.9 1504.5,1195.5 1505.2,1196.4 1506.0,1197.1 1506.8,1196.7 1507.5,1196.3 1508.2,1196.3 1509.0,1196.3 1509.8,1193.6 1510.5,1191.0 1511.2,1192.1 1512.0,1193.4 1512.8,1193.1 1513.5,1192.8 1514.2,1191.7 1515.0,1190.5 1515.8,1192.9 1516.5,1195.4 1517.2,1190.9 1518.0,1186.4 1518.8,1190.9 1519.5,1195.4 1520.2,1191.7 1521.0,1187.9 1521.8,1191.3 1522.5,1194.7 1523.2,1196.7 1524.0,1198.7 1524.8,1197.4 1525.5,1196.1 1526.2,1195.0 1527.0,1193.9 1527.8,1193.5 1528.5,1193.1 1529.2,1194.7 1530.0,1196.3 1530.8,1192.3 1531.5,1188.3 1532.2,1190.1 1533.0,1192.0 1533.8,1192.1 1534.5,1192.3 1535.2,1192.0 1536.0,1191.8 1536.8,1192.0 1537.5,1192.2 1538.2,1192.9 1539.0,1193.7 1539.8,1194.6 1540.5,1195.6 1541.2,1193.4 1542.0,1191.3 1542.8,1193.5 1543.5,1195.8 1544.2,1194.7 1545.0,1193.6 1545.8,1196.4 1546.5,1199.1 1547.2,1197.0 1548.0,1194.9 1548.8,1193.2 1549.5,1191.5 1550.2,1191.3 1551.0,1191.1 1551.8,1196.5 1552.5,1201.9 1553.2,1198.2 1554.0,1194.4 1554.8,1191.0 1555.5,1187.7 1556.2,1187.7 1557.0,1187.8 1557.8,1191.2 1558.5,1194.7 1559.2,1192.8 1560.0,1190.8 1560.8,1192.9 1561.5,1194.9 1562.2,1191.9 1563.0,1188.8 1563.8,1191.9 1564.5,1195.0 1565.2,1194.9 1566.0,1194.8 1566.8,1192.5 1567.5,1190.1 1568.2,1191.5 1569.0,1192.9 1569.8,1192.9 1570.5,1192.9 1571.2,1195.0 1572.0,1197.0 1572.8,1192.4 1573.5,1187.9 1574.2,1189.5 1575.0,1191.2 1575.8,1190.7 1576.5,1190.1 1577.2,1193.3" stroke="#186C30" stroke-width="9"/>
<path d="M162.0,1265.4 162.8,1267.4 163.5,1269.1 164.2,1266.6 165.0,1263.4 165.8,1260.4 166.5,1257.4 167.2,1258.0 168.0,1258.5 168.8,1250.4 169.5,1242.4 170.2,1243.3 171.0,1244.4 171.8,1243.4 172.5,1242.8 173.2,1244.2 174.0,1245.6 174.8,1244.9 175.5,1244.3 176.2,1244.5 177.0,1244.7 177.8,1245.9 178.5,1247.2 179.2,1247.9 180.0,1248.7 180.8,1247.7 181.5,1247.0 182.2,1244.3 183.0,1241.7 183.8,1246.1 184.5,1250.7 185.2,1249.0 186.0,1247.2 186.8,1253.5 187.5,1259.5 188.2,1257.7 189.0,1257.4 189.8,1257.8 190.5,1258.1 191.2,1260.1 192.0,1262.1 192.8,1261.5 193.5,1260.8 194.2,1266.6 195.0,1272.4 195.8,1268.1 196.5,1263.9 197.2,1268.6 198.0,1273.3 198.8,1266.2 199.5,1259.0 200.2,1261.0 201.0,1262.9 201.8,1270.8 202.5,1278.7 203.2,1278.6 204.0,1278.4 204.8,1279.9 205.5,1281.5 206.2,1269.0 207.0,1256.6 207.8,1257.7 208.5,1258.9 209.2,1259.3 210.0,1259.8 210.8,1259.5 211.5,1259.2 212.2,1265.7 213.0,1272.3 213.8,1270.4 214.5,1268.4 215.2,1270.1 216.0,1271.8 216.8,1270.2 217.5,1268.6 218.2,1267.5 219.0,1266.3 219.8,1275.1 220.5,1283.9 221.2,1279.0 222.0,1274.2 222.8,1268.9 223.5,1263.7 224.2,1270.6 225.0,1277.6 225.8,1271.8 226.5,1266.2 227.2,1268.1 228.0,1270.1 228.8,1276.3 229.5,1282.6 230.2,1276.6 231.0,1270.5 231.8,1273.0 232.5,1275.3 233.2,1275.5 234.0,1275.4 234.8,1281.8 235.5,1288.1 236.2,1288.5 237.0,1288.9 237.8,1282.8 238.5,1276.7 239.2,1281.5 240.0,1286.2 240.8,1275.5 241.5,1264.9 242.2,1268.4 243.0,1272.1 243.8,1276.7 244.5,1281.3 245.2,1276.3 246.0,1271.3 246.8,1273.0 247.5,1274.6 248.2,1274.0 249.0,1273.4 249.8,1274.6 250.5,1275.9 251.2,1274.5 252.0,1273.1 252.8,1267.7 253.5,1262.3 254.2,1265.7 255.0,1269.1 255.8,1266.7 256.5,1264.2 257.2,1269.7 258.0,1275.2 258.8,1267.9 259.5,1260.6 260.2,1263.5 261.0,1266.3 261.8,1272.7 262.5,1279.2 263.2,1276.9 264.0,1274.7 264.8,1281.6 265.5,1288.6 266.2,1281.4 267.0,1274.0 267.8,1267.7 268.5,1261.2 269.2,1271.4 270.0,1281.4 270.8,1278.9 271.5,1276.5 272.2,1274.9 273.0,1273.3 273.8,1270.4 274.5,1267.5 275.2,1271.3 276.0,1275.0 276.8,1277.6 277.5,1280.1 278.2,1279.8 279.0,1280.3 279.8,1280.7 280.5,1281.0 281.2,1283.6 282.0,1286.1 282.8,1285.6 283.5,1284.9 284.2,1279.9 285.0,1274.8 285.8,1278.8 286.5,1282.5 287.2,1280.6 288.0,1278.2 288.8,1278.2 289.5,1276.9 290.2,1265.9 291.0,1254.8 291.8,1245.2 292.5,1236.4 293.2,1233.1 294.0,1229.3 294.8,1223.3 295.5,1219.6 296.2,1217.6 297.0,1218.2 297.8,1221.3 298.5,1225.6 299.2,1235.7 300.0,1247.5 300.8,1247.8 301.5,1245.9 302.2,1252.8 303.0,1259.1 303.8,1264.5 304.5,1269.0 305.2,1266.1 306.0,1262.2 306.8,1264.0 307.5,1265.1 308.2,1265.7 309.0,1265.1 309.8,1258.1 310.5,1250.7 311.2,1243.7 312.0,1236.4 312.8,1231.1 313.5,1225.7 314.2,1221.3 315.0,1217.6 315.8,1215.8 316.5,1216.3 317.2,1216.2 318.0,1217.9 318.8,1226.4 319.5,1236.9 320.2,1241.0 321.0,1244.0 321.8,1255.2 322.5,1266.6 323.2,1274.4 324.0,1281.4 324.8,1283.0 325.5,1283.5 326.2,1281.3 327.0,1278.3 327.8,1284.7 328.5,1290.9 329.2,1289.7 330.0,1288.3 330.8,1286.4 331.5,1284.4 332.2,1282.5 333.0,1280.7 333.8,1280.2 334.5,1279.7 335.2,1280.6 336.0,1281.6 336.8,1289.3 337.5,1297.0 338.2,1291.5 339.0,1286.0 339.8,1286.0 340.5,1285.9 341.2,1283.4 342.0,1280.9 342.8,1283.6 343.5,1286.2 344.2,1284.4 345.0,1282.6 345.8,1281.3 346.5,1279.9 347.2,1282.3 348.0,1284.7 348.8,1283.0 349.5,1281.3 350.2,1283.2 351.0,1285.0 351.8,1284.1 352.5,1283.0 353.2,1280.6 354.0,1278.0 354.8,1280.1 355.5,1280.7 356.2,1277.1 357.0,1273.8 357.8,1269.1 358.5,1266.3 359.2,1269.1 360.0,1273.4 360.8,1276.4 361.5,1279.4 362.2,1281.7 363.0,1283.5 363.8,1289.1 364.5,1294.6 365.2,1291.9 366.0,1288.8 366.8,1287.6 367.5,1286.3 368.2,1285.4 369.0,1284.5 369.8,1288.9 370.5,1293.4 371.2,1287.1 372.0,1280.9 372.8,1285.4 373.5,1290.0 374.2,1289.8 375.0,1289.5 375.8,1290.6 376.5,1291.7 377.2,1292.2 378.0,1292.6 378.8,1290.0 379.5,1287.2 380.2,1286.9 381.0,1286.4 381.8,1289.2 382.5,1291.9 383.2,1288.9 384.0,1285.9 384.8,1292.1 385.5,1298.5 386.2,1295.0 387.0,1291.7 387.8,1287.5 388.5,1283.2 389.2,1288.1 390.0,1293.0 390.8,1290.9 391.5,1288.6 392.2,1289.7 393.0,1290.4 393.8,1292.6 394.5,1293.2 395.2,1287.6 396.0,1281.5 396.8,1274.4 397.5,1269.8 398.2,1270.8 399.0,1274.7 399.8,1277.8 400.5,1280.4 401.2,1287.2 402.0,1293.9 402.8,1293.1 403.5,1291.3 404.2,1285.5 405.0,1279.4 405.8,1279.4 406.5,1279.2 407.2,1282.1 408.0,1284.6 408.8,1284.3 409.5,1283.5 410.2,1281.7 411.0,1279.6 411.8,1286.2 412.5,1293.3 413.2,1286.6 414.0,1281.0 414.8,1284.8 415.5,1289.2 416.2,1284.5 417.0,1279.6 417.8,1287.8 418.5,1295.7 419.2,1293.3 420.0,1290.6 420.8,1286.4 421.5,1282.0 422.2,1287.8 423.0,1293.5 423.8,1294.3 424.5,1294.9 425.2,1291.6 426.0,1288.2 426.8,1297.6 427.5,1306.9 428.2,1299.8 429.0,1292.8 429.8,1285.8 430.5,1278.9 431.2,1278.7 432.0,1278.7 432.8,1287.5 433.5,1296.3 434.2,1296.7 435.0,1297.2 435.8,1297.1 436.5,1297.1 437.2,1293.0 438.0,1288.9 438.8,1289.3 439.5,1289.7 440.2,1294.2 441.0,1298.6 441.8,1295.0 442.5,1291.2 443.2,1292.9 444.0,1294.4 444.8,1295.9 445.5,1297.4 446.2,1298.2 447.0,1299.0 447.8,1291.8 448.5,1284.7 449.2,1287.7 450.0,1290.8 450.8,1292.2 451.5,1293.9 452.2,1291.9 453.0,1290.2 453.8,1295.7 454.5,1301.2 455.2,1296.3 456.0,1291.4 456.8,1296.5 457.5,1301.5 458.2,1299.3 459.0,1296.9 459.8,1301.9 460.5,1306.7 461.2,1303.2 462.0,1299.7 462.8,1296.0 463.5,1292.4 464.2,1294.2 465.0,1295.9 465.8,1292.8 466.5,1289.9 467.2,1295.4 468.0,1301.1 468.8,1298.8 469.5,1296.5 470.2,1296.6 471.0,1296.7 471.8,1299.0 472.5,1301.4 473.2,1302.0 474.0,1302.6 474.8,1300.3 475.5,1297.9 476.2,1296.0 477.0,1293.9 477.8,1300.6 478.5,1307.1 479.2,1305.0 480.0,1302.8 480.8,1301.9 481.5,1301.0 482.2,1302.8 483.0,1304.7 483.8,1301.4 484.5,1298.1 485.2,1303.4 486.0,1308.7 486.8,1303.8 487.5,1298.9 488.2,1299.1 489.0,1299.2 489.8,1300.7 490.5,1302.2 491.2,1301.1 492.0,1300.1 492.8,1300.8 493.5,1301.4 494.2,1302.6 495.0,1303.7 495.8,1301.4 496.5,1299.1 497.2,1302.4 498.0,1305.7 498.8,1304.7 499.5,1303.6 500.2,1309.0 501.0,1314.4 501.8,1307.7 502.5,1300.9 503.2,1300.2 504.0,1299.5 504.8,1299.1 505.5,1298.7 506.2,1302.3 507.0,1305.8 507.8,1305.8 508.5,1305.7 509.2,1301.5 510.0,1297.3 510.8,1302.1 511.5,1307.0 512.2,1300.0 513.0,1293.1 513.8,1295.1 514.5,1297.2 515.2,1298.6 516.0,1300.0 516.8,1301.3 517.5,1302.5 518.2,1300.3 519.0,1298.2 519.8,1304.6 520.5,1311.1 521.2,1310.5 522.0,1309.9 522.8,1307.2 523.5,1304.7 524.2,1305.0 525.0,1305.5 525.8,1305.6 526.5,1305.8 527.2,1306.6 528.0,1307.3 528.8,1309.8 529.5,1312.2 530.2,1312.7 531.0,1313.0 531.8,1312.0 532.5,1310.8 533.2,1308.2 534.0,1305.4 534.8,1299.6 535.5,1293.8 536.2,1294.8 537.0,1295.8 537.8,1300.7 538.5,1305.6 539.2,1300.9 540.0,1296.3 540.8,1298.8 541.5,1301.3 542.2,1306.1 543.0,1310.9 543.8,1308.9 544.5,1307.0 545.2,1306.3 546.0,1305.7 546.8,1306.0 547.5,1306.2 548.2,1307.8 549.0,1309.3 549.8,1309.5 550.5,1309.9 551.2,1306.2 552.0,1302.5 552.8,1302.8 553.5,1303.2 554.2,1305.0 555.0,1306.8 555.8,1309.7 556.5,1312.4 557.2,1319.1 558.0,1325.6 558.8,1320.1 559.5,1314.4 560.2,1313.8 561.0,1313.0 561.8,1315.1 562.5,1317.2 563.2,1316.3 564.0,1315.4 564.8,1310.5 565.5,1305.6 566.2,1301.6 567.0,1297.7 567.8,1310.7 568.5,1323.7 569.2,1315.4 570.0,1307.1 570.8,1306.6 571.5,1306.1 572.2,1310.8 573.0,1315.5 573.8,1309.2 574.5,1303.0 575.2,1304.3 576.0,1305.6 576.8,1301.3 577.5,1296.9 578.2,1305.5 579.0,1314.0 579.8,1309.3 580.5,1304.7 581.2,1306.9 582.0,1309.2 582.8,1311.1 583.5,1313.1 584.2,1310.4 585.0,1307.8 585.8,1314.7 586.5,1321.6 587.2,1315.0 588.0,1308.4 588.8,1304.4 589.5,1300.4 590.2,1307.1 591.0,1313.8 591.8,1314.0 592.5,1314.2 593.2,1314.4 594.0,1314.6 594.8,1310.1 595.5,1305.5 596.2,1306.0 597.0,1306.3 597.8,1307.3 598.5,1308.3 599.2,1310.9 600.0,1313.4 600.8,1310.4 601.5,1307.5 602.2,1311.4 603.0,1315.3 603.8,1314.0 604.5,1312.7 605.2,1312.4 606.0,1312.1 606.8,1308.3 607.5,1304.6 608.2,1301.4 609.0,1298.2 609.8,1304.3 610.5,1310.3 611.2,1313.8 612.0,1317.3 612.8,1316.1 613.5,1315.0 614.2,1310.5 615.0,1306.1 615.8,1311.0 616.5,1316.0 617.2,1314.6 618.0,1313.2 618.8,1315.0 619.5,1316.6 620.2,1312.2 621.0,1307.6 621.8,1308.2 622.5,1308.7 623.2,1310.8 624.0,1312.8 624.8,1316.5 625.5,1320.2 626.2,1315.9 627.0,1311.7 627.8,1312.9 628.5,1314.1 629.2,1317.4 630.0,1320.7 630.8,1315.8 631.5,1310.7 632.2,1309.6 633.0,1308.3 633.8,1308.3 634.5,1308.2 635.2,1312.7 636.0,1317.2 636.8,1312.3 637.5,1307.5 638.2,1304.9 639.0,1302.6 639.8,1304.6 640.5,1306.5 641.2,1309.0 642.0,1311.4 642.8,1311.2 643.5,1311.0 644.2,1312.1 645.0,1313.1 645.8,1314.8 646.5,1316.5 647.2,1314.0 648.0,1311.5 648.8,1309.5 649.5,1307.7 650.2,1304.3 651.0,1300.9 651.8,1307.1 652.5,1313.4 653.2,1315.3 654.0,1317.3 654.8,1317.0 655.5,1316.6 656.2,1317.0 657.0,1317.3 657.8,1314.0 658.5,1310.5 659.2,1313.6 660.0,1316.6 660.8,1310.0 661.5,1303.3 662.2,1303.7 663.0,1304.1 663.8,1302.9 664.5,1301.8 665.2,1308.6 666.0,1315.5 666.8,1315.1 667.5,1314.7 668.2,1314.7 669.0,1314.7 669.8,1317.4 670.5,1320.2 671.2,1312.5 672.0,1304.7 672.8,1308.7 673.5,1312.6 674.2,1310.2 675.0,1307.8 675.8,1307.6 676.5,1307.6 677.2,1311.8 678.0,1316.0 678.8,1313.3 679.5,1310.7 680.2,1309.3 681.0,1307.9 681.8,1314.1 682.5,1320.2 683.2,1316.0 684.0,1311.7 684.8,1312.4 685.5,1313.1 686.2,1315.9 687.0,1318.7 687.8,1315.7 688.5,1312.8 689.2,1312.8 690.0,1312.7 690.8,1314.7 691.5,1316.7 692.2,1319.9 693.0,1323.0 693.8,1313.0 694.5,1302.9 695.2,1312.5 696.0,1322.1 696.8,1320.0 697.5,1317.8 698.2,1316.0 699.0,1314.1 699.8,1314.1 700.5,1314.1 701.2,1309.2 702.0,1304.4 702.8,1308.4 703.5,1312.3 704.2,1315.6 705.0,1318.8 705.8,1314.3 706.5,1309.9 707.2,1305.2 708.0,1300.6 708.8,1303.5 709.5,1306.5 710.2,1303.4 711.0,1300.3 711.8,1300.6 712.5,1300.9 713.2,1301.2 714.0,1301.6 714.8,1306.6 715.5,1311.6 716.2,1313.5 717.0,1315.5 717.8,1311.0 718.5,1306.6 719.2,1309.7 720.0,1312.8 720.8,1308.3 721.5,1303.8 722.2,1303.9 723.0,1304.1 723.8,1308.1 724.5,1312.0 725.2,1314.2 726.0,1316.4 726.8,1313.8 727.5,1311.2 728.2,1302.2 729.0,1293.3 729.8,1297.6 730.5,1301.8 731.2,1303.1 732.0,1304.4 732.8,1304.0 733.5,1303.7 734.2,1300.4 735.0,1297.1 735.8,1306.0 736.5,1315.0 737.2,1303.2 738.0,1291.5 738.8,1296.5 739.5,1301.5 740.2,1298.0 741.0,1294.7 741.8,1298.3 742.5,1302.0 743.2,1303.5 744.0,1305.0 744.8,1303.8 745.5,1302.5 746.2,1305.0 747.0,1307.4 747.8,1303.0 748.5,1298.6 749.2,1300.6 750.0,1302.6 750.8,1306.3 751.5,1310.1 752.2,1306.2 753.0,1302.4 753.8,1307.1 754.5,1311.7 755.2,1309.5 756.0,1307.2 756.8,1305.9 757.5,1304.3 758.2,1307.3 759.0,1310.1 759.8,1307.8 760.5,1305.5 761.2,1311.4 762.0,1317.3 762.8,1312.8 763.5,1308.5 764.2,1312.4 765.0,1316.5 765.8,1310.3 766.5,1304.0 767.2,1309.3 768.0,1314.6 768.8,1312.0 769.5,1309.4 770.2,1311.4 771.0,1313.4 771.8,1310.4 772.5,1307.5 773.2,1311.9 774.0,1316.4 774.8,1318.9 775.5,1321.6 776.2,1314.7 777.0,1307.9 777.8,1308.1 778.5,1308.3 779.2,1316.1 780.0,1324.0 780.8,1316.3 781.5,1308.5 782.2,1311.1 783.0,1313.7 783.8,1312.6 784.5,1311.6 785.2,1309.5 786.0,1307.5 786.8,1310.6 787.5,1313.7 788.2,1314.8 789.0,1315.9 789.8,1311.2 790.5,1306.5 791.2,1314.7 792.0,1322.8 792.8,1320.4 793.5,1318.0 794.2,1312.5 795.0,1306.9 795.8,1312.2 796.5,1317.4 797.2,1322.7 798.0,1328.1 798.8,1320.2 799.5,1312.3 800.2,1315.0 801.0,1317.7 801.8,1321.7 802.5,1325.7 803.2,1316.1 804.0,1306.5 804.8,1314.7 805.5,1322.9 806.2,1324.2 807.0,1325.6 807.8,1324.5 808.5,1323.5 809.2,1316.5 810.0,1309.6 810.8,1315.8 811.5,1322.2 812.2,1319.0 813.0,1316.0 813.8,1320.7 814.5,1325.4 815.2,1326.6 816.0,1327.8 816.8,1322.7 817.5,1317.5 818.2,1318.6 819.0,1319.6 819.8,1317.4 820.5,1315.0 821.2,1316.0 822.0,1316.9 822.8,1316.6 823.5,1316.3 824.2,1316.5 825.0,1316.8 825.8,1315.6 826.5,1314.7 827.2,1313.1 828.0,1311.8 828.8,1313.9 829.5,1316.1 830.2,1314.9 831.0,1313.7 831.8,1314.8 832.5,1315.9 833.2,1314.2 834.0,1312.4 834.8,1317.9 835.5,1323.3 836.2,1323.1 837.0,1322.8 837.8,1322.8 838.5,1322.9 839.2,1317.9 840.0,1312.9 840.8,1316.8 841.5,1320.6 842.2,1320.0 843.0,1319.2 843.8,1320.7 844.5,1322.1 845.2,1323.5 846.0,1324.7 846.8,1325.4 847.5,1325.9 848.2,1320.0 849.0,1313.9 849.8,1319.4 850.5,1324.8 851.2,1324.0 852.0,1323.3 852.8,1322.3 853.5,1321.5 854.2,1316.7 855.0,1312.1 855.8,1314.3 856.5,1316.6 857.2,1316.3 858.0,1316.0 858.8,1313.4 859.5,1310.7 860.2,1311.8 861.0,1312.9 861.8,1315.0 862.5,1317.0 863.2,1314.8 864.0,1312.4 864.8,1311.5 865.5,1310.6 866.2,1313.2 867.0,1315.8 867.8,1316.2 868.5,1316.5 869.2,1318.6 870.0,1320.8 870.8,1322.4 871.5,1324.1 872.2,1317.2 873.0,1310.2 873.8,1313.9 874.5,1317.5 875.2,1319.2 876.0,1320.9 876.8,1316.1 877.5,1311.3 878.2,1312.8 879.0,1314.2 879.8,1315.3 880.5,1316.4 881.2,1315.5 882.0,1314.7 882.8,1318.1 883.5,1321.6 884.2,1323.0 885.0,1324.5 885.8,1325.5 886.5,1326.6 887.2,1321.9 888.0,1317.3 888.8,1317.0 889.5,1316.7 890.2,1320.1 891.0,1323.3 891.8,1320.4 892.5,1317.7 893.2,1318.3 894.0,1319.0 894.8,1321.3 895.5,1323.6 896.2,1320.1 897.0,1316.6 897.8,1322.5 898.5,1328.3 899.2,1324.1 900.0,1319.7 900.8,1321.1 901.5,1322.2 902.2,1319.1 903.0,1315.9 903.8,1316.9 904.5,1317.8 905.2,1313.9 906.0,1310.1 906.8,1306.8 907.5,1303.7 908.2,1306.0 909.0,1308.5 909.8,1311.1 910.5,1313.8 911.2,1309.3 912.0,1304.9 912.8,1311.0 913.5,1317.1 914.2,1319.6 915.0,1321.9 915.8,1317.7 916.5,1313.4 917.2,1316.0 918.0,1318.5 918.8,1315.9 919.5,1313.4 920.2,1316.4 921.0,1319.5 921.8,1316.9 922.5,1314.4 923.2,1310.0 924.0,1305.7 924.8,1309.7 925.5,1313.6 926.2,1317.7 927.0,1321.7 927.8,1318.3 928.5,1314.8 929.2,1313.0 930.0,1311.1 930.8,1313.0 931.5,1314.9 932.2,1310.3 933.0,1305.8 933.8,1312.6 934.5,1319.6 935.2,1313.1 936.0,1306.8 936.8,1310.2 937.5,1313.8 938.2,1313.5 939.0,1313.2 939.8,1312.0 940.5,1310.9 941.2,1309.1 942.0,1307.3 942.8,1310.7 943.5,1314.0 944.2,1313.9 945.0,1313.6 945.8,1313.5 946.5,1313.3 947.2,1308.8 948.0,1304.4 948.8,1308.4 949.5,1312.4 950.2,1311.7 951.0,1311.0 951.8,1311.0 952.5,1311.0 953.2,1310.9 954.0,1310.9 954.8,1309.4 955.5,1308.1 956.2,1306.8 957.0,1305.6 957.8,1309.7 958.5,1313.9 959.2,1311.0 960.0,1308.0 960.8,1308.8 961.5,1309.5 962.2,1311.8 963.0,1314.1 963.8,1317.9 964.5,1321.6 965.2,1318.9 966.0,1316.1 966.8,1316.9 967.5,1317.8 968.2,1314.4 969.0,1311.0 969.8,1310.9 970.5,1310.9 971.2,1312.5 972.0,1314.2 972.8,1313.9 973.5,1313.6 974.2,1313.7 975.0,1313.8 975.8,1314.4 976.5,1315.0 977.2,1313.5 978.0,1312.0 978.8,1312.9 979.5,1313.7 980.2,1313.9 981.0,1314.1 981.8,1318.0 982.5,1322.0 983.2,1318.5 984.0,1315.2 984.8,1316.3 985.5,1317.3 986.2,1319.6 987.0,1321.8 987.8,1322.4 988.5,1322.8 989.2,1323.1 990.0,1323.3 990.8,1316.7 991.5,1310.0 992.2,1314.5 993.0,1318.8 993.8,1318.3 994.5,1317.7 995.2,1317.5 996.0,1317.4 996.8,1318.2 997.5,1319.1 998.2,1320.3 999.0,1321.6 999.8,1320.5 1000.5,1319.2 1001.2,1317.0 1002.0,1314.7 1002.8,1314.7 1003.5,1314.7 1004.2,1311.3 1005.0,1307.8 1005.8,1308.9 1006.5,1310.2 1007.2,1315.1 1008.0,1320.3 1008.8,1317.6 1009.5,1315.1 1010.2,1312.0 1011.0,1309.1 1011.8,1312.3 1012.5,1315.5 1013.2,1317.3 1014.0,1319.0 1014.8,1319.7 1015.5,1320.3 1016.2,1317.1 1017.0,1313.8 1017.8,1315.7 1018.5,1317.5 1019.2,1321.7 1020.0,1325.9 1020.8,1328.7 1021.5,1331.5 1022.2,1326.0 1023.0,1320.4 1023.8,1317.8 1024.5,1315.1 1025.2,1315.3 1026.0,1315.4 1026.8,1316.4 1027.5,1317.4 1028.2,1318.5 1029.0,1319.5 1029.8,1322.2 1030.5,1324.8 1031.2,1326.5 1032.0,1328.3 1032.8,1319.9 1033.5,1311.6 1034.2,1315.6 1035.0,1319.7 1035.8,1320.8 1036.5,1321.8 1037.2,1320.3 1038.0,1318.8 1038.8,1318.6 1039.5,1318.4 1040.2,1318.1 1041.0,1317.9 1041.8,1321.5 1042.5,1325.2 1043.2,1322.9 1044.0,1320.7 1044.8,1318.4 1045.5,1316.3 1046.2,1322.0 1047.0,1327.8 1047.8,1326.2 1048.5,1324.7 1049.2,1320.3 1050.0,1316.0 1050.8,1316.7 1051.5,1317.3 1052.2,1320.2 1053.0,1323.0 1053.8,1323.8 1054.5,1324.6 1055.2,1321.0 1056.0,1317.5 1056.8,1322.8 1057.5,1328.2 1058.2,1326.5 1059.0,1324.8 1059.8,1325.8 1060.5,1326.8 1061.2,1321.9 1062.0,1316.9 1062.8,1316.4 1063.5,1315.9 1064.2,1320.5 1065.0,1325.1 1065.8,1324.4 1066.5,1323.8 1067.2,1326.3 1068.0,1328.7 1068.8,1325.3 1069.5,1321.8 1070.2,1324.5 1071.0,1327.1 1071.8,1321.7 1072.5,1316.2 1073.2,1318.9 1074.0,1321.6 1074.8,1324.9 1075.5,1328.2 1076.2,1323.9 1077.0,1319.7 1077.8,1321.0 1078.5,1322.4 1079.2,1324.0 1080.0,1325.6 1080.8,1327.5 1081.5,1329.3 1082.2,1330.4 1083.0,1331.5 1083.8,1326.5 1084.5,1321.6 1085.2,1321.0 1086.0,1320.6 1086.8,1326.1 1087.5,1331.7 1088.2,1333.1 1089.0,1334.7 1089.8,1328.6 1090.5,1322.6 1091.2,1322.4 1092.0,1322.3 1092.8,1324.9 1093.5,1327.5 1094.2,1327.9 1095.0,1328.4 1095.8,1323.8 1096.5,1319.3 1097.2,1325.1 1098.0,1330.9 1098.8,1324.5 1099.5,1318.1 1100.2,1320.4 1101.0,1322.7 1101.8,1319.2 1102.5,1315.6 1103.2,1322.2 1104.0,1328.8 1104.8,1327.9 1105.5,1326.9 1106.2,1327.0 1107.0,1327.2 1107.8,1323.6 1108.5,1319.9 1109.2,1322.8 1110.0,1325.7 1110.8,1321.9 1111.5,1318.1 1112.2,1321.3 1113.0,1324.6 1113.8,1327.5 1114.5,1330.5 1115.2,1328.4 1116.0,1326.4 1116.8,1323.4 1117.5,1320.5 1118.2,1325.3 1119.0,1330.1 1119.8,1326.1 1120.5,1322.1 1121.2,1322.8 1122.0,1323.5 1122.8,1326.3 1123.5,1329.0 1124.2,1324.4 1125.0,1319.8 1125.8,1323.1 1126.5,1326.4 1127.2,1325.9 1128.0,1325.4 1128.8,1321.5 1129.5,1317.7 1130.2,1321.5 1131.0,1325.2 1131.8,1325.7 1132.5,1326.1 1133.2,1326.6 1134.0,1327.0 1134.8,1326.6 1135.5,1326.1 1136.2,1327.9 1137.0,1329.6 1137.8,1328.3 1138.5,1327.0 1139.2,1325.2 1140.0,1323.4 1140.8,1323.8 1141.5,1324.2 1142.2,1325.7 1143.0,1327.2 1143.8,1323.6 1144.5,1320.1 1145.2,1323.3 1146.0,1326.6 1146.8,1324.5 1147.5,1322.3 1148.2,1323.1 1149.0,1323.9 1149.8,1320.5 1150.5,1317.1 1151.2,1322.5 1152.0,1327.8 1152.8,1323.0 1153.5,1318.4 1154.2,1321.4 1155.0,1324.4 1155.8,1324.1 1156.5,1323.7 1157.2,1326.7 1158.0,1329.6 1158.8,1327.6 1159.5,1325.6 1160.2,1327.6 1161.0,1329.5 1161.8,1327.2 1162.5,1324.8 1163.2,1324.0 1164.0,1323.1 1164.8,1326.0 1165.5,1328.8 1166.2,1325.1 1167.0,1321.4 1167.8,1319.2 1168.5,1317.0 1169.2,1316.3 1170.0,1315.7 1170.8,1323.2 1171.5,1330.7 1172.2,1328.4 1173.0,1326.1 1173.8,1324.0 1174.5,1321.8 1175.2,1324.6 1176.0,1327.3 1176.8,1328.2 1177.5,1329.2 1178.2,1326.5 1179.0,1323.8 1179.8,1322.3 1180.5,1320.8 1181.2,1327.4 1182.0,1333.9 1182.8,1327.5 1183.5,1321.1 1184.2,1323.6 1185.0,1326.1 1185.8,1324.0 1186.5,1321.8 1187.2,1318.9 1188.0,1315.9 1188.8,1319.5 1189.5,1323.0 1190.2,1322.9 1191.0,1322.9 1191.8,1325.2 1192.5,1327.5 1193.2,1326.0 1194.0,1324.5 1194.8,1323.7 1195.5,1322.8 1196.2,1326.5 1197.0,1330.1 1197.8,1326.4 1198.5,1322.7 1199.2,1321.2 1200.0,1319.7 1200.8,1320.3 1201.5,1320.9 1202.2,1320.3 1203.0,1319.8 1203.8,1319.8 1204.5,1319.8 1205.2,1323.4 1206.0,1327.0 1206.8,1325.1 1207.5,1323.3 1208.2,1325.2 1209.0,1327.1 1209.8,1326.9 1210.5,1326.7 1211.2,1323.2 1212.0,1319.6 1212.8,1322.3 1213.5,1324.8 1214.2,1323.9 1215.0,1322.9 1215.8,1323.3 1216.5,1323.7 1217.2,1327.7 1218.0,1331.6 1218.8,1332.0 1219.5,1332.3 1220.2,1330.5 1221.0,1328.7 1221.8,1322.6 1222.5,1316.6 1223.2,1323.6 1224.0,1330.7 1224.8,1329.4 1225.5,1328.0 1226.2,1328.9 1227.0,1329.7 1227.8,1325.8 1228.5,1321.8 1229.2,1319.3 1230.0,1316.9 1230.8,1317.4 1231.5,1318.0 1232.2,1322.4 1233.0,1326.9 1233.8,1327.5 1234.5,1327.9 1235.2,1327.0 1236.0,1326.0 1236.8,1322.1 1237.5,1318.2 1238.2,1320.5 1239.0,1322.7 1239.8,1322.6 1240.5,1322.5 1241.2,1319.4 1242.0,1316.5 1242.8,1319.5 1243.5,1322.6 1244.2,1320.6 1245.0,1318.7 1245.8,1319.6 1246.5,1320.4 1247.2,1319.3 1248.0,1318.2 1248.8,1322.1 1249.5,1325.9 1250.2,1321.3 1251.0,1316.7 1251.8,1320.4 1252.5,1324.2 1253.2,1321.8 1254.0,1319.4 1254.8,1319.1 1255.5,1318.8 1256.2,1320.3 1257.0,1321.8 1257.8,1324.4 1258.5,1326.9 1259.2,1325.2 1260.0,1323.4 1260.8,1323.7 1261.5,1324.0 1262.2,1324.8 1263.0,1325.6 1263.8,1326.2 1264.5,1326.9 1265.2,1326.1 1266.0,1325.3 1266.8,1325.2 1267.5,1325.1 1268.2,1324.0 1269.0,1322.9 1269.8,1326.6 1270.5,1330.3 1271.2,1324.2 1272.0,1318.1 1272.8,1318.5 1273.5,1318.9 1274.2,1322.0 1275.0,1325.1 1275.8,1325.0 1276.5,1325.0 1277.2,1323.7 1278.0,1322.4 1278.8,1325.1 1279.5,1327.7 1280.2,1323.9 1281.0,1320.2 1281.8,1319.7 1282.5,1319.2 1283.2,1323.8 1284.0,1328.3 1284.8,1324.0 1285.5,1319.7 1286.2,1323.8 1287.0,1328.0 1287.8,1326.2 1288.5,1324.3 1289.2,1324.8 1290.0,1325.1 1290.8,1323.8 1291.5,1322.5 1292.2,1323.1 1293.0,1323.7 1293.8,1324.1 1294.5,1324.6 1295.2,1320.3 1296.0,1316.2 1296.8,1316.2 1297.5,1316.3 1298.2,1320.8 1299.0,1325.3 1299.8,1323.3 1300.5,1321.3 1301.2,1320.4 1302.0,1319.5 1302.8,1324.1 1303.5,1328.6 1304.2,1325.0 1305.0,1321.4 1305.8,1323.5 1306.5,1325.7 1307.2,1324.0 1308.0,1322.3 1308.8,1324.0 1309.5,1325.6 1310.2,1322.2 1311.0,1318.7 1311.8,1319.0 1312.5,1319.3 1313.2,1323.8 1314.0,1328.3 1314.8,1324.1 1315.5,1319.9 1316.2,1324.8 1317.0,1329.6 1317.8,1330.3 1318.5,1331.1 1319.2,1326.6 1320.0,1322.1 1320.8,1323.4 1321.5,1324.6 1322.2,1325.6 1323.0,1326.5 1323.8,1324.5 1324.5,1322.4 1325.2,1324.6 1326.0,1326.8 1326.8,1323.6 1327.5,1320.4 1328.2,1320.4 1329.0,1320.3 1329.8,1326.2 1330.5,1332.1 1331.2,1329.4 1332.0,1326.7 1332.8,1323.8 1333.5,1321.1 1334.2,1321.2 1335.0,1321.3 1335.8,1323.4 1336.5,1325.5 1337.2,1326.9 1338.0,1328.3 1338.8,1328.3 1339.5,1328.3 1340.2,1328.9 1341.0,1329.3 1341.8,1326.5 1342.5,1323.5 1343.2,1324.4 1344.0,1325.1 1344.8,1324.4 1345.5,1323.7 1346.2,1326.1 1347.0,1328.6 1347.8,1326.9 1348.5,1325.3 1349.2,1322.0 1350.0,1318.8 1350.8,1320.1 1351.5,1321.4 1352.2,1322.4 1353.0,1323.4 1353.8,1322.5 1354.5,1321.6 1355.2,1321.0 1356.0,1320.4 1356.8,1321.7 1357.5,1323.0 1358.2,1321.7 1359.0,1320.4 1359.8,1320.3 1360.5,1320.3 1361.2,1323.7 1362.0,1327.2 1362.8,1323.6 1363.5,1320.0 1364.2,1323.2 1365.0,1326.4 1365.8,1325.8 1366.5,1325.0 1367.2,1324.9 1368.0,1324.5 1368.8,1324.1 1369.5,1323.6 1370.2,1324.9 1371.0,1326.2 1371.8,1327.0 1372.5,1327.9 1373.2,1324.5 1374.0,1321.1 1374.8,1322.2 1375.5,1323.4 1376.2,1324.0 1377.0,1324.6 1377.8,1323.0 1378.5,1321.4 1379.2,1320.5 1380.0,1319.5 1380.8,1320.7 1381.5,1321.9 1382.2,1324.9 1383.0,1327.8 1383.8,1322.3 1384.5,1316.8 1385.2,1318.5 1386.0,1320.2 1386.8,1319.4 1387.5,1318.8 1388.2,1320.3 1389.0,1321.8 1389.8,1319.6 1390.5,1317.5 1391.2,1320.5 1392.0,1323.5 1392.8,1319.7 1393.5,1315.8 1394.2,1321.4 1395.0,1326.9 1395.8,1323.7 1396.5,1320.4 1397.2,1322.9 1398.0,1325.4 1398.8,1321.3 1399.5,1317.3 1400.2,1317.3 1401.0,1317.3 1401.8,1318.1 1402.5,1318.9 1403.2,1318.7 1404.0,1318.7 1404.8,1317.4 1405.5,1316.1 1406.2,1318.8 1407.0,1321.5 1407.8,1318.9 1408.5,1316.3 1409.2,1316.3 1410.0,1316.2 1410.8,1316.2 1411.5,1316.2 1412.2,1315.5 1413.0,1314.8 1413.8,1318.9 1414.5,1323.1 1415.2,1320.2 1416.0,1317.3 1416.8,1318.0 1417.5,1318.7 1418.2,1316.1 1419.0,1313.5 1419.8,1313.5 1420.5,1313.6 1421.2,1314.4 1422.0,1315.2 1422.8,1314.3 1423.5,1313.4 1424.2,1316.0 1425.0,1318.6 1425.8,1318.9 1426.5,1319.2 1427.2,1320.0 1428.0,1320.8 1428.8,1315.5 1429.5,1309.7 1430.2,1315.4 1431.0,1320.1 1431.8,1314.5 1432.5,1309.4 1433.2,1308.5 1434.0,1309.7 1434.8,1312.6 1435.5,1315.2 1436.2,1316.0 1437.0,1315.9 1437.8,1315.7 1438.5,1315.2 1439.2,1314.9 1440.0,1314.7 1440.8,1316.9 1441.5,1319.2 1442.2,1315.6 1443.0,1312.1 1443.8,1311.2 1444.5,1310.3 1445.2,1312.0 1446.0,1313.6 1446.8,1314.7 1447.5,1315.8 1448.2,1317.0 1449.0,1318.2 1449.8,1320.5 1450.5,1322.9 1451.2,1320.8 1452.0,1318.8 1452.8,1318.0 1453.5,1317.2 1454.2,1321.9 1455.0,1326.5 1455.8,1325.0 1456.5,1323.5 1457.2,1323.4 1458.0,1323.2 1458.8,1321.2 1459.5,1319.2 1460.2,1321.3 1461.0,1323.3 1461.8,1324.3 1462.5,1325.2 1463.2,1321.0 1464.0,1316.9 1464.8,1317.9 1465.5,1318.9 1466.2,1318.2 1467.0,1317.5 1467.8,1321.0 1468.5,1324.5 1469.2,1322.6 1470.0,1320.7 1470.8,1321.0 1471.5,1321.3 1472.2,1320.3 1473.0,1319.4 1473.8,1322.5 1474.5,1325.5 1475.2,1325.1 1476.0,1324.6 1476.8,1325.5 1477.5,1326.3 1478.2,1327.9 1479.0,1329.4 1479.8,1327.4 1480.5,1325.4 1481.2,1325.4 1482.0,1325.3 1482.8,1323.3 1483.5,1321.3 1484.2,1320.9 1485.0,1320.6 1485.8,1321.1 1486.5,1321.7 1487.2,1321.7 1488.0,1321.7 1488.8,1324.3 1489.5,1327.0 1490.2,1325.8 1491.0,1324.6 1491.8,1323.7 1492.5,1322.7 1493.2,1321.0 1494.0,1319.3 1494.8,1322.9 1495.5,1326.6 1496.2,1323.6 1497.0,1320.6 1497.8,1323.9 1498.5,1327.2 1499.2,1327.6 1500.0,1327.9 1500.8,1325.4 1501.5,1322.8 1502.2,1322.9 1503.0,1322.9 1503.8,1324.4 1504.5,1325.9 1505.2,1327.5 1506.0,1329.1 1506.8,1326.0 1507.5,1322.9 1508.2,1323.0 1509.0,1323.1 1509.8,1323.2 1510.5,1323.4 1511.2,1325.2 1512.0,1327.1 1512.8,1328.1 1513.5,1329.2 1514.2,1329.4 1515.0,1329.7 1515.8,1331.6 1516.5,1333.5 1517.2,1327.4 1518.0,1321.4 1518.8,1322.0 1519.5,1322.6 1520.2,1325.2 1521.0,1327.8 1521.8,1328.6 1522.5,1329.3 1523.2,1328.0 1524.0,1326.6 1524.8,1324.3 1525.5,1322.0 1526.2,1321.9 1527.0,1321.9 1527.8,1320.7 1528.5,1319.6 1529.2,1323.7 1530.0,1327.8 1530.8,1326.5 1531.5,1325.2 1532.2,1325.7 1533.0,1326.1 1533.8,1325.8 1534.5,1325.4 1535.2,1324.6 1536.0,1323.8 1536.8,1324.5 1537.5,1325.3 1538.2,1327.5 1539.0,1329.8 1539.8,1329.9 1540.5,1329.9 1541.2,1327.6 1542.0,1325.2 1542.8,1325.6 1543.5,1326.0 1544.2,1325.3 1545.0,1324.6 1545.8,1325.9 1546.5,1327.1 1547.2,1324.5 1548.0,1322.0 1548.8,1325.2 1549.5,1328.3 1550.2,1327.0 1551.0,1325.7 1551.8,1326.5 1552.5,1327.2 1553.2,1323.8 1554.0,1320.3 1554.8,1321.2 1555.5,1322.1 1556.2,1324.0 1557.0,1325.8 1557.8,1328.4 1558.5,1331.0 1559.2,1325.5 1560.0,1320.0 1560.8,1321.8 1561.5,1323.6 1562.2,1324.3 1563.0,1325.0 1563.8,1323.8 1564.5,1322.6 1565.2,1324.6 1566.0,1326.6 1566.8,1325.5 1567.5,1324.4 1568.2,1325.1 1569.0,1325.8 1569.8,1325.3 1570.5,1324.9 1571.2,1322.3 1572.0,1319.7 1572.8,1322.1 1573.5,1324.6 1574.2,1322.0 1575.0,1319.4 1575.8,1323.1 1576.5,1326.9 1577.2,1323.7" stroke="#20A04B" stroke-width="9"/>
<path d="M162.0,1379.6 162.8,1371.8 163.5,1364.0 164.2,1367.8 165.0,1369.8 165.8,1370.6 166.5,1371.4 167.2,1362.9 168.0,1354.3 168.8,1357.4 169.5,1360.4 170.2,1359.1 171.0,1357.8 171.8,1364.2 172.5,1370.5 173.2,1364.1 174.0,1357.5 174.8,1361.2 175.5,1364.9 176.2,1360.2 177.0,1355.6 177.8,1361.0 178.5,1366.5 179.2,1359.9 180.0,1353.5 180.8,1352.6 181.5,1351.7 182.2,1354.8 183.0,1357.9 183.8,1368.2 184.5,1378.6 185.2,1369.1 186.0,1360.9 186.8,1357.3 187.5,1353.7 188.2,1357.4 189.0,1361.1 189.8,1380.4 190.5,1400.1 191.2,1390.0 192.0,1380.2 192.8,1384.3 193.5,1388.5 194.2,1393.8 195.0,1399.0 195.8,1406.5 196.5,1413.7 197.2,1410.1 198.0,1406.1 198.8,1405.6 199.5,1404.8 200.2,1401.8 201.0,1398.6 201.8,1393.7 202.5,1388.7 203.2,1391.0 204.0,1393.4 204.8,1389.7 205.5,1386.3 206.2,1380.8 207.0,1375.6 207.8,1371.8 208.5,1367.9 209.2,1383.8 210.0,1399.5 210.8,1398.2 211.5,1396.8 212.2,1394.3 213.0,1391.9 213.8,1391.1 214.5,1390.4 215.2,1388.7 216.0,1387.1 216.8,1378.1 217.5,1369.0 218.2,1371.6 219.0,1374.2 219.8,1376.6 220.5,1378.9 221.2,1379.3 222.0,1379.7 222.8,1378.9 223.5,1378.0 224.2,1375.7 225.0,1373.5 225.8,1382.4 226.5,1391.5 227.2,1391.7 228.0,1392.1 228.8,1397.5 229.5,1402.9 230.2,1404.3 231.0,1405.6 231.8,1395.6 232.5,1385.4 233.2,1391.2 234.0,1396.7 234.8,1393.7 235.5,1390.8 236.2,1392.6 237.0,1394.3 237.8,1402.0 238.5,1409.7 239.2,1408.1 240.0,1406.5 240.8,1401.2 241.5,1396.0 242.2,1398.5 243.0,1401.0 243.8,1399.3 244.5,1397.5 245.2,1393.8 246.0,1390.1 246.8,1389.7 247.5,1389.4 248.2,1387.0 249.0,1384.5 249.8,1394.7 250.5,1404.9 251.2,1393.7 252.0,1382.6 252.8,1385.1 253.5,1387.7 254.2,1389.1 255.0,1390.6 255.8,1388.1 256.5,1385.6 257.2,1397.0 258.0,1408.5 258.8,1404.3 259.5,1400.1 260.2,1388.0 261.0,1375.8 261.8,1381.2 262.5,1386.2 263.2,1394.1 264.0,1401.7 264.8,1394.4 265.5,1387.1 266.2,1389.2 267.0,1391.3 267.8,1390.9 268.5,1390.7 269.2,1390.0 270.0,1389.6 270.8,1386.0 271.5,1382.6 272.2,1385.9 273.0,1389.3 273.8,1390.6 274.5,1391.8 275.2,1388.3 276.0,1384.7 276.8,1390.6 277.5,1396.3 278.2,1395.6 279.0,1394.7 279.8,1395.7 280.5,1396.4 281.2,1397.6 282.0,1398.7 282.8,1394.2 283.5,1389.6 284.2,1384.6 285.0,1379.6 285.8,1387.6 286.5,1395.8 287.2,1393.7 288.0,1391.9 288.8,1382.5 289.5,1373.5 290.2,1377.4 291.0,1381.5 291.8,1389.8 292.5,1398.1 293.2,1401.0 294.0,1403.8 294.8,1395.2 295.5,1386.4 296.2,1391.9 297.0,1397.1 297.8,1397.0 298.5,1396.7 299.2,1398.0 300.0,1399.1 300.8,1401.9 301.5,1404.7 302.2,1409.7 303.0,1414.7 303.8,1402.7 304.5,1390.8 305.2,1401.3 306.0,1412.0 306.8,1409.9 307.5,1407.9 308.2,1413.3 309.0,1418.7 309.8,1409.5 310.5,1400.2 311.2,1401.5 312.0,1402.7 312.8,1406.1 313.5,1409.5 314.2,1407.0 315.0,1404.4 315.8,1410.5 316.5,1416.5 317.2,1410.8 318.0,1405.1 318.8,1407.8 319.5,1410.4 320.2,1408.2 321.0,1406.0 321.8,1400.4 322.5,1394.9 323.2,1402.0 324.0,1409.1 324.8,1403.3 325.5,1397.5 326.2,1400.0 327.0,1402.6 327.8,1402.0 328.5,1401.3 329.2,1404.6 330.0,1407.8 330.8,1399.9 331.5,1392.0 332.2,1403.2 333.0,1414.4 333.8,1412.7 334.5,1411.1 335.2,1408.0 336.0,1404.8 336.8,1400.3 337.5,1395.8 338.2,1395.2 339.0,1394.6 339.8,1398.2 340.5,1401.7 341.2,1399.6 342.0,1397.6 342.8,1400.9 343.5,1404.0 344.2,1405.3 345.0,1406.4 345.8,1406.6 346.5,1406.8 347.2,1403.9 348.0,1401.0 348.8,1395.7 349.5,1390.5 350.2,1402.0 351.0,1413.7 351.8,1414.4 352.5,1415.3 353.2,1404.2 354.0,1393.3 354.8,1395.8 355.5,1398.4 356.2,1410.0 357.0,1421.6 357.8,1418.7 358.5,1415.8 359.2,1410.6 360.0,1405.4 360.8,1407.7 361.5,1409.9 362.2,1401.0 363.0,1392.1 363.8,1397.8 364.5,1403.6 365.2,1409.0 366.0,1414.4 366.8,1400.9 367.5,1387.4 368.2,1398.1 369.0,1408.8 369.8,1402.1 370.5,1395.5 371.2,1407.8 372.0,1420.1 372.8,1408.0 373.5,1396.0 374.2,1392.9 375.0,1389.8 375.8,1395.7 376.5,1401.5 377.2,1401.4 378.0,1401.3 378.8,1405.2 379.5,1409.1 380.2,1413.4 381.0,1417.6 381.8,1406.9 382.5,1396.3 383.2,1399.8 384.0,1403.3 384.8,1407.0 385.5,1410.7 386.2,1402.0 387.0,1393.3 387.8,1402.9 388.5,1412.6 389.2,1411.8 390.0,1411.0 390.8,1411.2 391.5,1411.5 392.2,1409.6 393.0,1407.7 393.8,1410.8 394.5,1413.9 395.2,1416.6 396.0,1419.3 396.8,1413.4 397.5,1407.5 398.2,1413.1 399.0,1418.6 399.8,1414.4 400.5,1410.2 401.2,1402.8 402.0,1395.3 402.8,1407.6 403.5,1419.8 404.2,1415.8 405.0,1411.8 405.8,1415.9 406.5,1420.0 407.2,1412.8 408.0,1405.6 408.8,1407.5 409.5,1409.3 410.2,1406.9 411.0,1404.4 411.8,1400.8 412.5,1397.3 413.2,1403.9 414.0,1410.6 414.8,1415.9 415.5,1421.0 416.2,1415.0 417.0,1408.9 417.8,1406.3 418.5,1403.7 419.2,1401.6 420.0,1399.6 420.8,1396.5 421.5,1393.5 422.2,1399.5 423.0,1405.8 423.8,1407.5 424.5,1409.3 425.2,1405.6 426.0,1402.0 426.8,1402.4 427.5,1402.9 428.2,1402.6 429.0,1402.3 429.8,1401.2 430.5,1400.0 431.2,1410.0 432.0,1419.8 432.8,1417.4 433.5,1415.0 434.2,1412.3 435.0,1409.6 435.8,1404.9 436.5,1400.3 437.2,1403.3 438.0,1406.2 438.8,1412.5 439.5,1418.7 440.2,1419.0 441.0,1420.0 441.8,1427.7 442.5,1435.4 443.2,1429.7 444.0,1424.0 444.8,1422.2 445.5,1420.5 446.2,1421.2 447.0,1421.9 447.8,1415.8 448.5,1409.8 449.2,1421.7 450.0,1433.6 450.8,1424.6 451.5,1415.6 452.2,1423.4 453.0,1431.2 453.8,1431.6 454.5,1431.9 455.2,1436.3 456.0,1439.9 456.8,1440.8 457.5,1441.6 458.2,1442.3 459.0,1442.9 459.8,1442.3 460.5,1441.7 461.2,1439.4 462.0,1437.1 462.8,1439.6 463.5,1442.1 464.2,1440.9 465.0,1439.8 465.8,1434.8 466.5,1429.9 467.2,1436.0 468.0,1442.2 468.8,1437.9 469.5,1433.7 470.2,1436.5 471.0,1439.3 471.8,1440.3 472.5,1441.3 473.2,1436.5 474.0,1431.8 474.8,1429.0 475.5,1426.2 476.2,1434.0 477.0,1441.7 477.8,1436.5 478.5,1431.5 479.2,1433.0 480.0,1434.6 480.8,1438.8 481.5,1443.1 482.2,1437.9 483.0,1432.6 483.8,1435.7 484.5,1438.6 485.2,1440.4 486.0,1442.0 486.8,1435.8 487.5,1429.2 488.2,1429.4 489.0,1429.2 489.8,1430.4 490.5,1431.5 491.2,1433.7 492.0,1436.0 492.8,1424.4 493.5,1413.1 494.2,1421.6 495.0,1430.5 495.8,1431.2 496.5,1432.2 497.2,1427.4 498.0,1422.8 498.8,1424.9 499.5,1427.0 500.2,1422.0 501.0,1416.9 501.8,1426.9 502.5,1436.6 503.2,1431.7 504.0,1426.5 504.8,1429.9 505.5,1433.5 506.2,1427.9 507.0,1422.4 507.8,1431.6 508.5,1440.7 509.2,1435.1 510.0,1429.5 510.8,1432.0 511.5,1434.4 512.2,1438.0 513.0,1441.5 513.8,1439.2 514.5,1436.9 515.2,1432.6 516.0,1428.5 516.8,1431.9 517.5,1435.4 518.2,1437.1 519.0,1438.7 519.8,1436.7 520.5,1434.9 521.2,1435.0 522.0,1435.2 522.8,1434.3 523.5,1433.4 524.2,1433.7 525.0,1434.0 525.8,1434.9 526.5,1435.7 527.2,1433.1 528.0,1430.5 528.8,1435.8 529.5,1441.0 530.2,1441.8 531.0,1442.6 531.8,1437.3 532.5,1431.8 533.2,1432.5 534.0,1433.2 534.8,1433.2 535.5,1433.2 536.2,1431.9 537.0,1430.5 537.8,1432.9 538.5,1435.1 539.2,1435.3 540.0,1434.4 540.8,1430.7 541.5,1425.4 542.2,1419.0 543.0,1413.2 543.8,1408.0 544.5,1407.0 545.2,1413.8 546.0,1423.8 546.8,1428.0 547.5,1429.9 548.2,1434.5 549.0,1438.4 549.8,1438.5 550.5,1438.8 551.2,1440.9 552.0,1443.6 552.8,1448.4 553.5,1452.3 554.2,1448.9 555.0,1443.5 555.8,1443.5 556.5,1443.3 557.2,1436.1 558.0,1429.6 558.8,1440.4 559.5,1451.6 560.2,1452.9 561.0,1454.3 561.8,1448.9 562.5,1443.6 563.2,1437.6 564.0,1431.6 564.8,1437.2 565.5,1442.8 566.2,1448.1 567.0,1453.4 567.8,1443.4 568.5,1433.3 569.2,1445.8 570.0,1458.1 570.8,1451.9 571.5,1445.5 572.2,1434.0 573.0,1422.5 573.8,1432.1 574.5,1441.8 575.2,1440.6 576.0,1439.5 576.8,1437.7 577.5,1436.3 578.2,1432.7 579.0,1429.5 579.8,1434.5 580.5,1439.6 581.2,1449.1 582.0,1458.5 582.8,1451.3 583.5,1443.9 584.2,1441.1 585.0,1438.1 585.8,1445.0 586.5,1451.6 587.2,1449.5 588.0,1447.1 588.8,1442.9 589.5,1438.5 590.2,1441.9 591.0,1445.3 591.8,1439.7 592.5,1434.5 593.2,1435.3 594.0,1436.5 594.8,1434.5 595.5,1432.6 596.2,1440.2 597.0,1447.8 597.8,1444.2 598.5,1440.7 599.2,1437.9 600.0,1435.0 600.8,1444.5 601.5,1453.9 602.2,1450.1 603.0,1446.3 603.8,1444.3 604.5,1442.5 605.2,1446.7 606.0,1451.1 606.8,1446.0 607.5,1440.9 608.2,1444.1 609.0,1447.1 609.8,1446.8 610.5,1446.3 611.2,1451.9 612.0,1457.2 612.8,1453.1 613.5,1449.1 614.2,1451.7 615.0,1454.4 615.8,1453.4 616.5,1452.4 617.2,1452.2 618.0,1451.9 618.8,1449.3 619.5,1446.7 620.2,1450.7 621.0,1454.7 621.8,1446.0 622.5,1437.4 623.2,1441.6 624.0,1445.8 624.8,1442.1 625.5,1438.4 626.2,1446.9 627.0,1455.5 627.8,1455.7 628.5,1455.9 629.2,1447.0 630.0,1438.1 630.8,1445.3 631.5,1452.4 632.2,1448.1 633.0,1443.7 633.8,1450.1 634.5,1456.5 635.2,1450.9 636.0,1445.3 636.8,1454.2 637.5,1463.2 638.2,1459.5 639.0,1455.9 639.8,1456.4 640.5,1456.8 641.2,1451.2 642.0,1445.6 642.8,1440.8 643.5,1436.0 644.2,1440.2 645.0,1444.4 645.8,1445.3 646.5,1446.2 647.2,1446.4 648.0,1446.6 648.8,1445.4 649.5,1444.3 650.2,1444.5 651.0,1444.8 651.8,1444.9 652.5,1445.0 653.2,1455.8 654.0,1466.5 654.8,1456.8 655.5,1447.1 656.2,1448.2 657.0,1449.2 657.8,1443.4 658.5,1437.3 659.2,1447.3 660.0,1457.2 660.8,1453.1 661.5,1449.0 662.2,1447.0 663.0,1444.9 663.8,1444.0 664.5,1443.1 665.2,1442.9 666.0,1442.9 666.8,1449.8 667.5,1456.9 668.2,1451.2 669.0,1445.7 669.8,1454.1 670.5,1462.6 671.2,1461.0 672.0,1459.4 672.8,1455.0 673.5,1450.4 674.2,1447.2 675.0,1443.9 675.8,1451.3 676.5,1458.7 677.2,1454.7 678.0,1450.6 678.8,1449.9 679.5,1449.1 680.2,1451.7 681.0,1454.5 681.8,1458.3 682.5,1462.1 683.2,1448.8 684.0,1435.5 684.8,1438.7 685.5,1441.8 686.2,1442.9 687.0,1444.1 687.8,1451.9 688.5,1459.7 689.2,1453.7 690.0,1447.8 690.8,1452.8 691.5,1457.9 692.2,1459.4 693.0,1461.0 693.8,1453.8 694.5,1446.6 695.2,1447.9 696.0,1449.1 696.8,1449.6 697.5,1450.0 698.2,1450.8 699.0,1451.7 699.8,1449.6 700.5,1447.7 701.2,1449.1 702.0,1450.7 702.8,1443.1 703.5,1435.8 704.2,1440.6 705.0,1445.6 705.8,1444.7 706.5,1443.9 707.2,1452.2 708.0,1460.4 708.8,1456.4 709.5,1452.1 710.2,1451.5 711.0,1450.7 711.8,1452.6 712.5,1454.1 713.2,1456.8 714.0,1459.2 714.8,1460.1 715.5,1460.9 716.2,1450.7 717.0,1440.5 717.8,1442.1 718.5,1443.9 719.2,1447.7 720.0,1451.8 720.8,1446.8 721.5,1442.2 722.2,1449.6 723.0,1457.2 723.8,1453.6 724.5,1450.1 725.2,1457.0 726.0,1463.8 726.8,1463.8 727.5,1463.6 728.2,1461.6 729.0,1459.3 729.8,1456.9 730.5,1454.5 731.2,1451.8 732.0,1449.1 732.8,1452.3 733.5,1455.5 734.2,1462.0 735.0,1468.5 735.8,1454.9 736.5,1441.3 737.2,1449.4 738.0,1457.6 738.8,1456.0 739.5,1454.2 740.2,1456.1 741.0,1457.8 741.8,1454.9 742.5,1452.0 743.2,1453.0 744.0,1453.9 744.8,1451.0 745.5,1448.2 746.2,1453.8 747.0,1459.6 747.8,1453.9 748.5,1448.2 749.2,1448.0 750.0,1447.8 750.8,1455.6 751.5,1463.4 752.2,1457.5 753.0,1451.5 753.8,1453.8 754.5,1456.0 755.2,1451.5 756.0,1447.0 756.8,1447.6 757.5,1448.3 758.2,1451.3 759.0,1454.2 759.8,1451.1 760.5,1448.0 761.2,1449.5 762.0,1451.1 762.8,1449.4 763.5,1447.7 764.2,1449.9 765.0,1452.1 765.8,1448.0 766.5,1443.8 767.2,1449.2 768.0,1454.5 768.8,1447.3 769.5,1440.1 770.2,1447.9 771.0,1455.7 771.8,1455.6 772.5,1455.4 773.2,1453.8 774.0,1452.1 774.8,1458.9 775.5,1465.4 776.2,1459.6 777.0,1453.6 777.8,1455.7 778.5,1457.8 779.2,1455.7 780.0,1453.7 780.8,1449.7 781.5,1446.0 782.2,1443.2 783.0,1440.6 783.8,1441.6 784.5,1442.8 785.2,1444.7 786.0,1446.6 786.8,1444.8 787.5,1443.0 788.2,1446.0 789.0,1449.1 789.8,1449.9 790.5,1450.6 791.2,1447.8 792.0,1444.9 792.8,1448.3 793.5,1451.7 794.2,1448.5 795.0,1445.3 795.8,1452.3 796.5,1459.2 797.2,1451.3 798.0,1443.4 798.8,1446.6 799.5,1449.9 800.2,1447.6 801.0,1445.3 801.8,1439.9 802.5,1434.7 803.2,1437.7 804.0,1440.7 804.8,1443.9 805.5,1447.1 806.2,1446.3 807.0,1445.4 807.8,1452.9 808.5,1460.3 809.2,1454.4 810.0,1448.4 810.8,1451.2 811.5,1454.0 812.2,1452.8 813.0,1451.5 813.8,1451.1 814.5,1450.6 815.2,1451.0 816.0,1451.3 816.8,1452.9 817.5,1454.4 818.2,1454.1 819.0,1453.7 819.8,1449.5 820.5,1445.4 821.2,1448.3 822.0,1451.3 822.8,1450.2 823.5,1449.0 824.2,1450.9 825.0,1452.8 825.8,1451.6 826.5,1450.4 827.2,1453.1 828.0,1455.7 828.8,1450.1 829.5,1444.6 830.2,1445.8 831.0,1447.1 831.8,1453.7 832.5,1460.4 833.2,1457.1 834.0,1453.8 834.8,1457.4 835.5,1460.9 836.2,1458.8 837.0,1456.6 837.8,1454.1 838.5,1451.5 839.2,1455.7 840.0,1459.8 840.8,1456.8 841.5,1453.8 842.2,1452.8 843.0,1451.8 843.8,1456.9 844.5,1462.0 845.2,1455.7 846.0,1449.3 846.8,1456.3 847.5,1463.2 848.2,1458.6 849.0,1453.9 849.8,1448.6 850.5,1443.2 851.2,1446.6 852.0,1450.0 852.8,1446.0 853.5,1442.1 854.2,1443.2 855.0,1444.4 855.8,1446.5 856.5,1448.7 857.2,1451.8 858.0,1454.9 858.8,1446.0 859.5,1437.2 860.2,1444.8 861.0,1452.4 861.8,1451.1 862.5,1449.8 863.2,1450.2 864.0,1450.5 864.8,1450.3 865.5,1450.1 866.2,1452.9 867.0,1455.8 867.8,1454.0 868.5,1452.3 869.2,1449.7 870.0,1447.1 870.8,1440.4 871.5,1433.6 872.2,1438.9 873.0,1444.2 873.8,1445.4 874.5,1446.6 875.2,1446.3 876.0,1446.1 876.8,1443.5 877.5,1441.0 878.2,1446.6 879.0,1452.3 879.8,1448.3 880.5,1444.2 881.2,1441.4 882.0,1438.6 882.8,1443.1 883.5,1447.7 884.2,1442.4 885.0,1437.1 885.8,1441.9 886.5,1446.7 887.2,1446.5 888.0,1446.3 888.8,1446.0 889.5,1445.6 890.2,1447.3 891.0,1449.1 891.8,1445.4 892.5,1441.7 893.2,1441.9 894.0,1442.1 894.8,1442.5 895.5,1442.8 896.2,1445.1 897.0,1447.3 897.8,1442.3 898.5,1437.2 899.2,1441.1 900.0,1445.0 900.8,1449.4 901.5,1453.7 902.2,1456.8 903.0,1459.7 903.8,1452.4 904.5,1445.0 905.2,1447.7 906.0,1450.3 906.8,1446.8 907.5,1443.3 908.2,1442.9 909.0,1442.7 909.8,1443.8 910.5,1444.9 911.2,1443.5 912.0,1442.0 912.8,1437.4 913.5,1432.9 914.2,1435.1 915.0,1437.5 915.8,1436.8 916.5,1436.2 917.2,1436.5 918.0,1437.0 918.8,1436.6 919.5,1436.3 920.2,1438.6 921.0,1441.0 921.8,1439.1 922.5,1437.3 923.2,1439.2 924.0,1441.2 924.8,1438.9 925.5,1436.6 926.2,1436.8 927.0,1436.9 927.8,1436.7 928.5,1436.7 929.2,1435.7 930.0,1434.9 930.8,1436.8 931.5,1438.9 932.2,1443.9 933.0,1449.0 933.8,1449.6 934.5,1450.1 935.2,1446.8 936.0,1443.2 936.8,1448.3 937.5,1453.5 938.2,1450.8 939.0,1448.2 939.8,1447.8 940.5,1447.4 941.2,1444.2 942.0,1441.1 942.8,1441.4 943.5,1441.6 944.2,1442.8 945.0,1444.0 945.8,1447.3 946.5,1450.5 947.2,1447.0 948.0,1443.5 948.8,1445.4 949.5,1447.3 950.2,1444.9 951.0,1442.5 951.8,1444.6 952.5,1446.8 953.2,1447.9 954.0,1449.2 954.8,1445.9 955.5,1442.7 956.2,1439.7 957.0,1436.8 957.8,1440.6 958.5,1444.4 959.2,1443.6 960.0,1442.7 960.8,1445.9 961.5,1449.0 962.2,1448.9 963.0,1448.6 963.8,1444.9 964.5,1441.2 965.2,1443.9 966.0,1446.5 966.8,1448.7 967.5,1450.9 968.2,1452.2 969.0,1453.6 969.8,1452.0 970.5,1450.5 971.2,1449.4 972.0,1448.4 972.8,1448.9 973.5,1449.3 974.2,1456.3 975.0,1463.3 975.8,1454.5 976.5,1445.7 977.2,1449.8 978.0,1453.9 978.8,1451.0 979.5,1448.3 980.2,1450.5 981.0,1452.9 981.8,1451.8 982.5,1450.8 983.2,1453.6 984.0,1456.4 984.8,1450.5 985.5,1444.7 986.2,1447.3 987.0,1449.9 987.8,1454.8 988.5,1459.8 989.2,1457.4 990.0,1455.0 990.8,1452.1 991.5,1449.0 992.2,1453.2 993.0,1457.2 993.8,1454.6 994.5,1452.1 995.2,1456.0 996.0,1459.9 996.8,1454.3 997.5,1448.8 998.2,1452.7 999.0,1456.6 999.8,1455.6 1000.5,1454.7 1001.2,1453.2 1002.0,1451.8 1002.8,1450.7 1003.5,1449.7 1004.2,1456.2 1005.0,1462.7 1005.8,1464.5 1006.5,1466.2 1007.2,1463.0 1008.0,1459.7 1008.8,1453.6 1009.5,1447.3 1010.2,1453.9 1011.0,1460.5 1011.8,1465.8 1012.5,1471.1 1013.2,1459.9 1014.0,1448.8 1014.8,1447.3 1015.5,1446.0 1016.2,1450.8 1017.0,1455.7 1017.8,1455.9 1018.5,1456.1 1019.2,1454.9 1020.0,1453.8 1020.8,1455.3 1021.5,1456.8 1022.2,1459.8 1023.0,1462.8 1023.8,1455.2 1024.5,1447.5 1025.2,1458.2 1026.0,1468.8 1026.8,1465.9 1027.5,1463.1 1028.2,1465.2 1029.0,1467.5 1029.8,1461.8 1030.5,1456.1 1031.2,1458.5 1032.0,1460.8 1032.8,1458.0 1033.5,1455.1 1034.2,1457.7 1035.0,1460.1 1035.8,1460.3 1036.5,1460.5 1037.2,1455.9 1038.0,1451.3 1038.8,1453.0 1039.5,1454.7 1040.2,1458.3 1041.0,1461.8 1041.8,1458.3 1042.5,1454.9 1043.2,1457.8 1044.0,1460.8 1044.8,1462.7 1045.5,1464.6 1046.2,1461.8 1047.0,1459.0 1047.8,1456.2 1048.5,1453.3 1049.2,1453.1 1050.0,1452.8 1050.8,1454.4 1051.5,1456.0 1052.2,1457.6 1053.0,1459.3 1053.8,1461.7 1054.5,1464.3 1055.2,1461.8 1056.0,1459.3 1056.8,1459.6 1057.5,1459.8 1058.2,1460.4 1059.0,1460.9 1059.8,1467.3 1060.5,1473.6 1061.2,1473.4 1062.0,1473.0 1062.8,1468.1 1063.5,1463.2 1064.2,1456.7 1065.0,1450.1 1065.8,1459.6 1066.5,1469.2 1067.2,1466.8 1068.0,1464.5 1068.8,1462.1 1069.5,1459.9 1070.2,1456.7 1071.0,1453.7 1071.8,1458.9 1072.5,1464.0 1073.2,1466.5 1074.0,1469.1 1074.8,1459.2 1075.5,1449.3 1076.2,1456.9 1077.0,1464.5 1077.8,1460.4 1078.5,1456.5 1079.2,1458.4 1080.0,1460.5 1080.8,1455.1 1081.5,1450.1 1082.2,1455.8 1083.0,1461.8 1083.8,1460.1 1084.5,1458.4 1085.2,1459.1 1086.0,1459.7 1086.8,1467.2 1087.5,1474.5 1088.2,1467.8 1089.0,1460.9 1089.8,1463.5 1090.5,1465.9 1091.2,1470.8 1092.0,1475.5 1092.8,1470.9 1093.5,1466.2 1094.2,1463.3 1095.0,1460.4 1095.8,1457.8 1096.5,1455.2 1097.2,1453.3 1098.0,1451.4 1098.8,1455.7 1099.5,1459.9 1100.2,1457.2 1101.0,1454.5 1101.8,1458.4 1102.5,1462.4 1103.2,1463.6 1104.0,1464.8 1104.8,1465.0 1105.5,1465.2 1106.2,1460.1 1107.0,1454.9 1107.8,1457.7 1108.5,1460.4 1109.2,1461.2 1110.0,1462.1 1110.8,1464.7 1111.5,1467.4 1112.2,1464.1 1113.0,1460.7 1113.8,1461.4 1114.5,1462.0 1115.2,1459.1 1116.0,1456.2 1116.8,1460.9 1117.5,1465.6 1118.2,1464.7 1119.0,1463.9 1119.8,1462.8 1120.5,1461.6 1121.2,1462.9 1122.0,1464.2 1122.8,1463.4 1123.5,1462.5 1124.2,1466.5 1125.0,1470.4 1125.8,1470.0 1126.5,1469.5 1127.2,1465.4 1128.0,1461.2 1128.8,1461.4 1129.5,1461.6 1130.2,1460.9 1131.0,1460.2 1131.8,1465.8 1132.5,1471.5 1133.2,1467.2 1134.0,1463.0 1134.8,1461.4 1135.5,1459.8 1136.2,1460.0 1137.0,1460.1 1137.8,1456.7 1138.5,1453.2 1139.2,1456.4 1140.0,1459.5 1140.8,1459.2 1141.5,1458.9 1142.2,1458.0 1143.0,1457.1 1143.8,1458.4 1144.5,1459.8 1145.2,1460.9 1146.0,1462.0 1146.8,1458.8 1147.5,1455.7 1148.2,1458.6 1149.0,1461.6 1149.8,1458.2 1150.5,1454.9 1151.2,1461.5 1152.0,1468.1 1152.8,1465.4 1153.5,1462.8 1154.2,1456.8 1155.0,1450.7 1155.8,1455.6 1156.5,1460.4 1157.2,1459.9 1158.0,1459.4 1158.8,1466.0 1159.5,1472.6 1160.2,1467.6 1161.0,1462.6 1161.8,1466.7 1162.5,1470.9 1163.2,1467.9 1164.0,1465.0 1164.8,1468.8 1165.5,1472.6 1166.2,1470.1 1167.0,1467.5 1167.8,1463.6 1168.5,1459.6 1169.2,1463.2 1170.0,1466.6 1170.8,1464.9 1171.5,1463.0 1172.2,1462.8 1173.0,1462.3 1173.8,1460.9 1174.5,1459.3 1175.2,1459.4 1176.0,1459.6 1176.8,1465.0 1177.5,1470.6 1178.2,1465.9 1179.0,1461.5 1179.8,1459.5 1180.5,1457.5 1181.2,1457.4 1182.0,1457.2 1182.8,1459.5 1183.5,1461.7 1184.2,1462.1 1185.0,1462.4 1185.8,1463.2 1186.5,1464.0 1187.2,1462.8 1188.0,1461.5 1188.8,1460.0 1189.5,1458.6 1190.2,1462.1 1191.0,1465.6 1191.8,1463.6 1192.5,1461.5 1193.2,1465.3 1194.0,1469.1 1194.8,1467.0 1195.5,1464.9 1196.2,1469.2 1197.0,1473.4 1197.8,1468.2 1198.5,1462.8 1199.2,1460.3 1200.0,1457.7 1200.8,1459.7 1201.5,1461.6 1202.2,1461.6 1203.0,1461.6 1203.8,1461.4 1204.5,1461.3 1205.2,1457.2 1206.0,1453.1 1206.8,1456.8 1207.5,1460.5 1208.2,1461.0 1209.0,1461.6 1209.8,1465.5 1210.5,1469.4 1211.2,1464.1 1212.0,1458.7 1212.8,1458.6 1213.5,1458.5 1214.2,1461.6 1215.0,1464.7 1215.8,1465.8 1216.5,1466.9 1217.2,1465.9 1218.0,1465.0 1218.8,1464.0 1219.5,1463.0 1220.2,1463.4 1221.0,1463.8 1221.8,1461.1 1222.5,1458.4 1223.2,1456.9 1224.0,1455.4 1224.8,1456.5 1225.5,1457.7 1226.2,1464.4 1227.0,1471.2 1227.8,1467.6 1228.5,1464.1 1229.2,1460.3 1230.0,1456.5 1230.8,1460.7 1231.5,1464.8 1232.2,1462.2 1233.0,1459.4 1233.8,1462.6 1234.5,1465.6 1235.2,1465.2 1236.0,1464.8 1236.8,1461.9 1237.5,1458.9 1238.2,1456.6 1239.0,1454.3 1239.8,1458.8 1240.5,1463.3 1241.2,1462.2 1242.0,1461.1 1242.8,1459.0 1243.5,1456.8 1244.2,1454.2 1245.0,1451.6 1245.8,1456.7 1246.5,1461.9 1247.2,1460.1 1248.0,1458.3 1248.8,1461.5 1249.5,1464.7 1250.2,1462.9 1251.0,1461.1 1251.8,1461.3 1252.5,1461.4 1253.2,1459.4 1254.0,1457.4 1254.8,1457.6 1255.5,1457.8 1256.2,1460.5 1257.0,1463.2 1257.8,1464.7 1258.5,1466.2 1259.2,1466.8 1260.0,1467.5 1260.8,1459.8 1261.5,1452.1 1262.2,1454.7 1263.0,1457.3 1263.8,1457.6 1264.5,1457.9 1265.2,1457.8 1266.0,1457.8 1266.8,1454.5 1267.5,1451.2 1268.2,1454.5 1269.0,1457.7 1269.8,1455.7 1270.5,1453.7 1271.2,1459.6 1272.0,1465.5 1272.8,1462.5 1273.5,1459.5 1274.2,1463.5 1275.0,1467.6 1275.8,1464.6 1276.5,1461.6 1277.2,1460.5 1278.0,1459.4 1278.8,1460.7 1279.5,1462.0 1280.2,1461.6 1281.0,1461.3 1281.8,1465.7 1282.5,1470.1 1283.2,1468.2 1284.0,1466.2 1284.8,1460.9 1285.5,1455.4 1286.2,1460.1 1287.0,1464.7 1287.8,1467.7 1288.5,1470.7 1289.2,1466.8 1290.0,1462.9 1290.8,1464.3 1291.5,1465.7 1292.2,1463.3 1293.0,1460.8 1293.8,1459.2 1294.5,1457.6 1295.2,1458.3 1296.0,1459.1 1296.8,1460.7 1297.5,1462.4 1298.2,1462.5 1299.0,1462.6 1299.8,1461.8 1300.5,1460.9 1301.2,1457.4 1302.0,1453.9 1302.8,1460.2 1303.5,1466.5 1304.2,1463.0 1305.0,1459.5 1305.8,1459.9 1306.5,1460.3 1307.2,1458.2 1308.0,1456.2 1308.8,1460.5 1309.5,1464.9 1310.2,1462.4 1311.0,1459.8 1311.8,1462.6 1312.5,1465.4 1313.2,1463.9 1314.0,1462.4 1314.8,1462.4 1315.5,1462.5 1316.2,1461.6 1317.0,1460.8 1317.8,1459.3 1318.5,1457.9 1319.2,1462.6 1320.0,1467.3 1320.8,1465.3 1321.5,1463.2 1322.2,1465.5 1323.0,1467.9 1323.8,1469.6 1324.5,1471.3 1325.2,1465.4 1326.0,1459.5 1326.8,1462.9 1327.5,1466.3 1328.2,1464.9 1329.0,1463.5 1329.8,1462.5 1330.5,1461.4 1331.2,1461.5 1332.0,1461.7 1332.8,1464.3 1333.5,1466.8 1334.2,1468.3 1335.0,1469.7 1335.8,1464.6 1336.5,1459.5 1337.2,1460.0 1338.0,1460.6 1338.8,1459.9 1339.5,1459.4 1340.2,1457.6 1341.0,1455.9 1341.8,1460.4 1342.5,1464.9 1343.2,1462.9 1344.0,1460.9 1344.8,1460.1 1345.5,1459.4 1346.2,1459.0 1347.0,1458.6 1347.8,1458.9 1348.5,1459.2 1349.2,1460.2 1350.0,1461.2 1350.8,1457.1 1351.5,1453.0 1352.2,1458.5 1353.0,1463.9 1353.8,1461.1 1354.5,1458.2 1355.2,1458.9 1356.0,1459.7 1356.8,1459.2 1357.5,1458.7 1358.2,1457.1 1359.0,1455.4 1359.8,1459.3 1360.5,1463.3 1361.2,1461.0 1362.0,1458.8 1362.8,1460.2 1363.5,1461.6 1364.2,1462.6 1365.0,1463.7 1365.8,1460.8 1366.5,1457.7 1367.2,1464.7 1368.0,1471.4 1368.8,1469.6 1369.5,1467.6 1370.2,1462.2 1371.0,1456.7 1371.8,1459.9 1372.5,1463.0 1373.2,1458.4 1374.0,1453.8 1374.8,1458.1 1375.5,1462.6 1376.2,1458.1 1377.0,1453.9 1377.8,1456.4 1378.5,1459.0 1379.2,1458.0 1380.0,1457.0 1380.8,1459.1 1381.5,1461.2 1382.2,1460.8 1383.0,1460.3 1383.8,1459.8 1384.5,1459.2 1385.2,1460.1 1386.0,1461.0 1386.8,1462.0 1387.5,1463.0 1388.2,1462.5 1389.0,1461.9 1389.8,1465.7 1390.5,1469.5 1391.2,1463.7 1392.0,1457.9 1392.8,1458.5 1393.5,1459.0 1394.2,1462.6 1395.0,1466.1 1395.8,1462.3 1396.5,1458.4 1397.2,1460.5 1398.0,1462.5 1398.8,1464.4 1399.5,1466.3 1400.2,1460.5 1401.0,1454.8 1401.8,1459.1 1402.5,1463.4 1403.2,1465.1 1404.0,1466.9 1404.8,1463.1 1405.5,1459.2 1406.2,1456.0 1407.0,1452.7 1407.8,1453.1 1408.5,1453.5 1409.2,1455.0 1410.0,1456.4 1410.8,1461.1 1411.5,1465.7 1412.2,1463.0 1413.0,1460.3 1413.8,1458.6 1414.5,1456.9 1415.2,1458.9 1416.0,1460.7 1416.8,1459.9 1417.5,1459.0 1418.2,1458.0 1419.0,1457.1 1419.8,1455.0 1420.5,1453.0 1421.2,1458.2 1422.0,1463.5 1422.8,1461.3 1423.5,1459.3 1424.2,1458.2 1425.0,1457.2 1425.8,1459.0 1426.5,1460.7 1427.2,1462.0 1428.0,1463.2 1428.8,1467.2 1429.5,1471.1 1430.2,1467.6 1431.0,1463.9 1431.8,1463.7 1432.5,1463.4 1433.2,1463.0 1434.0,1462.6 1434.8,1463.9 1435.5,1465.1 1436.2,1464.3 1437.0,1463.5 1437.8,1460.6 1438.5,1457.8 1439.2,1461.1 1440.0,1464.5 1440.8,1460.2 1441.5,1456.0 1442.2,1459.7 1443.0,1463.5 1443.8,1464.9 1444.5,1466.3 1445.2,1462.4 1446.0,1458.5 1446.8,1461.1 1447.5,1463.6 1448.2,1461.2 1449.0,1458.7 1449.8,1462.4 1450.5,1465.9 1451.2,1464.3 1452.0,1462.5 1452.8,1463.3 1453.5,1464.0 1454.2,1461.4 1455.0,1458.9 1455.8,1457.2 1456.5,1455.7 1457.2,1455.2 1458.0,1454.7 1458.8,1458.3 1459.5,1462.0 1460.2,1460.7 1461.0,1459.5 1461.8,1459.4 1462.5,1459.3 1463.2,1457.3 1464.0,1455.2 1464.8,1459.3 1465.5,1463.3 1466.2,1464.4 1467.0,1465.3 1467.8,1463.9 1468.5,1462.4 1469.2,1461.2 1470.0,1460.0 1470.8,1460.5 1471.5,1460.9 1472.2,1465.2 1473.0,1469.4 1473.8,1465.3 1474.5,1461.2 1475.2,1459.4 1476.0,1457.7 1476.8,1461.5 1477.5,1465.2 1478.2,1462.1 1479.0,1459.0 1479.8,1456.4 1480.5,1453.8 1481.2,1457.1 1482.0,1460.4 1482.8,1461.9 1483.5,1463.3 1484.2,1460.5 1485.0,1457.8 1485.8,1458.0 1486.5,1458.3 1487.2,1462.3 1488.0,1466.3 1488.8,1462.0 1489.5,1457.7 1490.2,1459.3 1491.0,1460.9 1491.8,1460.3 1492.5,1459.6 1493.2,1461.5 1494.0,1463.3 1494.8,1461.8 1495.5,1460.4 1496.2,1459.6 1497.0,1458.9 1497.8,1464.2 1498.5,1469.6 1499.2,1466.0 1500.0,1462.3 1500.8,1462.9 1501.5,1463.4 1502.2,1464.4 1503.0,1465.4 1503.8,1462.4 1504.5,1459.4 1505.2,1460.9 1506.0,1462.5 1506.8,1463.1 1507.5,1463.8 1508.2,1463.9 1509.0,1464.0 1509.8,1462.1 1510.5,1460.3 1511.2,1460.4 1512.0,1460.5 1512.8,1461.1 1513.5,1461.6 1514.2,1461.3 1515.0,1460.9 1515.8,1462.2 1516.5,1463.6 1517.2,1463.6 1518.0,1463.6 1518.8,1462.8 1519.5,1462.0 1520.2,1460.9 1521.0,1459.9 1521.8,1461.0 1522.5,1462.2 1523.2,1460.9 1524.0,1459.6 1524.8,1458.1 1525.5,1456.6 1526.2,1461.5 1527.0,1466.4 1527.8,1462.5 1528.5,1458.7 1529.2,1458.8 1530.0,1459.0 1530.8,1460.6 1531.5,1462.3 1532.2,1459.3 1533.0,1456.2 1533.8,1455.9 1534.5,1455.5 1535.2,1456.4 1536.0,1457.3 1536.8,1457.8 1537.5,1458.3 1538.2,1462.8 1539.0,1467.3 1539.8,1463.8 1540.5,1460.4 1541.2,1462.6 1542.0,1464.8 1542.8,1464.1 1543.5,1463.4 1544.2,1462.3 1545.0,1461.2 1545.8,1462.6 1546.5,1464.1 1547.2,1460.7 1548.0,1457.4 1548.8,1458.3 1549.5,1459.2 1550.2,1459.1 1551.0,1458.9 1551.8,1460.9 1552.5,1462.9 1553.2,1460.7 1554.0,1458.5 1554.8,1459.8 1555.5,1461.1 1556.2,1458.8 1557.0,1456.6 1557.8,1457.1 1558.5,1457.6 1559.2,1458.0 1560.0,1458.4 1560.8,1460.5 1561.5,1462.5 1562.2,1460.8 1563.0,1459.1 1563.8,1461.9 1564.5,1464.8 1565.2,1463.5 1566.0,1462.2 1566.8,1460.8 1567.5,1459.3 1568.2,1461.5 1569.0,1463.6 1569.8,1463.6 1570.5,1463.6 1571.2,1460.2 1572.0,1456.7 1572.8,1459.8 1573.5,1462.8 1574.2,1464.4 1575.0,1466.0 1575.8,1465.7 1576.5,1465.4 1577.2,1461.6" stroke="#52D47E" stroke-width="10"/>
<path d="M162.0,1664.4 163.0,1661.4 164.0,1658.1 165.0,1660.9 166.0,1663.5 167.0,1662.3 168.0,1661.2 169.0,1660.6 170.0,1660.2 171.0,1659.5 172.0,1658.9 173.0,1655.3 174.0,1651.8 175.0,1650.7 176.0,1650.9 177.0,1652.2 178.0,1653.5 179.0,1653.2 180.0,1652.8 181.0,1656.8 182.0,1660.8 183.0,1659.8 184.0,1658.8 185.0,1655.1 186.0,1651.3 187.0,1654.1 188.0,1656.8 189.0,1658.1 190.0,1659.5 191.0,1656.6 192.0,1653.8 193.0,1658.4 194.0,1663.1 195.0,1660.6 196.0,1658.1 197.0,1658.0 198.0,1657.9 199.0,1659.5 200.0,1661.0 201.0,1660.0 202.0,1659.0 203.0,1661.8 204.0,1664.5 205.0,1663.8 206.0,1663.1 207.0,1661.8 208.0,1660.6 209.0,1660.1 210.0,1659.6 211.0,1660.9 212.0,1662.1 213.0,1660.3 214.0,1658.4 215.0,1660.3 216.0,1662.3 217.0,1660.5 218.0,1659.0 219.0,1661.5 220.0,1664.2 221.0,1665.6 222.0,1667.0 223.0,1666.0 224.0,1664.7 225.0,1665.2 226.0,1665.6 227.0,1665.8 228.0,1665.9 229.0,1667.4 230.0,1668.9 231.0,1667.8 232.0,1666.7 233.0,1666.2 234.0,1665.8 235.0,1665.7 236.0,1665.6 237.0,1663.4 238.0,1661.1 239.0,1659.7 240.0,1658.3 241.0,1659.7 242.0,1661.2 243.0,1666.4 244.0,1671.7 245.0,1668.6 246.0,1665.7 247.0,1665.2 248.0,1664.6 249.0,1666.9 250.0,1669.1 251.0,1668.8 252.0,1668.3 253.0,1669.0 254.0,1669.6 255.0,1669.3 256.0,1668.9 257.0,1666.3 258.0,1663.6 259.0,1663.5 260.0,1663.4 261.0,1666.0 262.0,1668.6 263.0,1665.9 264.0,1663.1 265.0,1664.8 266.0,1666.6 267.0,1665.6 268.0,1664.5 269.0,1666.3 270.0,1668.1 271.0,1668.3 272.0,1668.5 273.0,1666.7 274.0,1664.9 275.0,1667.5 276.0,1670.0 277.0,1667.5 278.0,1665.0 279.0,1664.9 280.0,1664.8 281.0,1665.1 282.0,1665.4 283.0,1665.6 284.0,1665.8 285.0,1664.1 286.0,1662.5 287.0,1660.3 288.0,1658.2 289.0,1659.9 290.0,1661.6 291.0,1662.8 292.0,1663.9 293.0,1663.7 294.0,1663.1 295.0,1661.3 296.0,1659.2 297.0,1659.7 298.0,1659.3 299.0,1654.2 300.0,1649.2 301.0,1644.9 302.0,1640.8 303.0,1638.5 304.0,1636.6 305.0,1635.3 306.0,1635.0 307.0,1635.8 308.0,1637.5 309.0,1640.3 310.0,1643.7 311.0,1646.7 312.0,1649.7 313.0,1651.8 314.0,1653.4 315.0,1658.4 316.0,1663.5 317.0,1665.2 318.0,1666.5 319.0,1666.4 320.0,1665.9 321.0,1666.0 322.0,1665.9 323.0,1668.5 324.0,1671.0 325.0,1670.9 326.0,1670.9 327.0,1670.5 328.0,1670.1 329.0,1674.6 330.0,1679.0 331.0,1677.9 332.0,1676.6 333.0,1680.4 334.0,1684.1 335.0,1678.7 336.0,1672.6 337.0,1676.9 338.0,1681.2 339.0,1678.5 340.0,1675.9 341.0,1675.2 342.0,1674.7 343.0,1676.6 344.0,1678.5 345.0,1681.3 346.0,1684.2 347.0,1679.2 348.0,1674.1 349.0,1677.1 350.0,1680.0 351.0,1681.0 352.0,1681.9 353.0,1679.0 354.0,1676.1 355.0,1673.2 356.0,1670.3 357.0,1669.5 358.0,1668.6 359.0,1670.5 360.0,1672.2 361.0,1667.6 362.0,1663.0 363.0,1663.0 364.0,1662.7 365.0,1662.0 366.0,1661.0 367.0,1659.5 368.0,1657.3 369.0,1655.7 370.0,1653.1 371.0,1647.1 372.0,1640.6 373.0,1633.5 374.0,1626.4 375.0,1620.0 376.0,1613.9 377.0,1609.1 378.0,1604.7 379.0,1599.1 380.0,1593.0 381.0,1587.5 382.0,1581.3 383.0,1574.4 384.0,1566.6 385.0,1556.7 386.0,1546.0 387.0,1536.0 388.0,1526.1 389.0,1518.7 390.0,1512.5 391.0,1505.9 392.0,1501.6 393.0,1499.5 394.0,1500.2 395.0,1502.2 396.0,1506.8 397.0,1517.8 398.0,1530.5 399.0,1541.5 400.0,1553.3 401.0,1562.3 402.0,1571.2 403.0,1585.9 404.0,1599.9 405.0,1612.3 406.0,1623.5 407.0,1630.1 408.0,1635.6 409.0,1643.4 410.0,1650.3 411.0,1653.1 412.0,1655.2 413.0,1661.4 414.0,1667.0 415.0,1665.5 416.0,1663.6 417.0,1663.9 418.0,1664.0 419.0,1666.0 420.0,1667.8 421.0,1667.5 422.0,1667.2 423.0,1668.2 424.0,1669.4 425.0,1670.0 426.0,1670.8 427.0,1670.8 428.0,1670.8 429.0,1675.6 430.0,1680.3 431.0,1679.9 432.0,1679.1 433.0,1679.7 434.0,1680.1 435.0,1677.5 436.0,1674.8 437.0,1678.4 438.0,1682.0 439.0,1677.6 440.0,1673.4 441.0,1675.9 442.0,1678.6 443.0,1679.5 444.0,1680.5 445.0,1678.9 446.0,1677.3 447.0,1682.2 448.0,1687.0 449.0,1684.7 450.0,1682.2 451.0,1682.6 452.0,1683.0 453.0,1684.3 454.0,1685.7 455.0,1686.9 456.0,1688.1 457.0,1688.1 458.0,1688.1 459.0,1686.6 460.0,1685.0 461.0,1686.4 462.0,1687.7 463.0,1687.3 464.0,1687.0 465.0,1688.3 466.0,1689.7 467.0,1690.1 468.0,1690.6 469.0,1689.3 470.0,1687.9 471.0,1688.4 472.0,1688.8 473.0,1689.7 474.0,1690.5 475.0,1689.4 476.0,1688.3 477.0,1688.8 478.0,1689.3 479.0,1691.0 480.0,1692.7 481.0,1691.6 482.0,1690.6 483.0,1691.1 484.0,1691.6 485.0,1690.6 486.0,1689.6 487.0,1689.9 488.0,1690.3 489.0,1690.9 490.0,1691.5 491.0,1692.7 492.0,1693.9 493.0,1691.0 494.0,1688.2 495.0,1689.6 496.0,1690.9 497.0,1691.8 498.0,1692.6 499.0,1692.9 500.0,1693.3 501.0,1692.4 502.0,1691.6 503.0,1690.6 504.0,1689.6 505.0,1691.3 506.0,1693.1 507.0,1692.7 508.0,1692.2 509.0,1692.8 510.0,1693.4 511.0,1692.1 512.0,1690.8 513.0,1692.0 514.0,1693.2 515.0,1692.5 516.0,1691.7 517.0,1691.3 518.0,1690.8 519.0,1689.6 520.0,1688.4 521.0,1687.3 522.0,1686.3 523.0,1686.7 524.0,1687.2 525.0,1691.1 526.0,1695.1 527.0,1693.0 528.0,1690.9 529.0,1695.1 530.0,1699.3 531.0,1693.7 532.0,1688.2 533.0,1690.5 534.0,1692.8 535.0,1695.2 536.0,1697.5 537.0,1694.8 538.0,1691.9 539.0,1692.2 540.0,1692.3 541.0,1694.2 542.0,1695.8 543.0,1696.0 544.0,1696.0 545.0,1694.5 546.0,1693.1 547.0,1691.6 548.0,1690.2 549.0,1690.9 550.0,1691.8 551.0,1694.7 552.0,1697.7 553.0,1697.0 554.0,1696.2 555.0,1695.3 556.0,1694.4 557.0,1692.7 558.0,1690.9 559.0,1692.1 560.0,1693.2 561.0,1695.4 562.0,1697.5 563.0,1696.6 564.0,1695.6 565.0,1692.1 566.0,1688.6 567.0,1688.9 568.0,1689.2 569.0,1691.5 570.0,1693.8 571.0,1695.4 572.0,1696.9 573.0,1692.8 574.0,1688.7 575.0,1690.7 576.0,1692.6 577.0,1694.1 578.0,1695.5 579.0,1695.0 580.0,1694.5 581.0,1691.1 582.0,1687.7 583.0,1688.4 584.0,1689.2 585.0,1690.6 586.0,1692.0 587.0,1690.8 588.0,1689.6 589.0,1691.1 590.0,1692.6 591.0,1691.9 592.0,1691.1 593.0,1692.7 594.0,1694.2 595.0,1690.7 596.0,1687.3 597.0,1689.1 598.0,1690.9 599.0,1693.3 600.0,1695.6 601.0,1692.7 602.0,1689.8 603.0,1692.0 604.0,1694.1 605.0,1692.4 606.0,1690.8 607.0,1691.1 608.0,1691.4 609.0,1693.5 610.0,1695.7 611.0,1695.3 612.0,1694.8 613.0,1694.9 614.0,1694.9 615.0,1692.1 616.0,1689.3 617.0,1691.5 618.0,1693.7 619.0,1693.3 620.0,1692.9 621.0,1693.7 622.0,1694.5 623.0,1694.6 624.0,1694.5 625.0,1690.0 626.0,1685.4 627.0,1687.3 628.0,1689.2 629.0,1689.4 630.0,1689.8 631.0,1690.1 632.0,1690.5 633.0,1689.3 634.0,1688.1 635.0,1688.1 636.0,1688.0 637.0,1688.7 638.0,1689.2 639.0,1689.3 640.0,1689.3 641.0,1690.6 642.0,1691.7 643.0,1688.1 644.0,1684.4 645.0,1684.7 646.0,1685.0 647.0,1682.8 648.0,1680.6 649.0,1682.8 650.0,1685.0 651.0,1680.7 652.0,1676.4 653.0,1676.4 654.0,1676.3 655.0,1676.4 656.0,1676.5 657.0,1672.2 658.0,1667.8 659.0,1665.3 660.0,1662.9 661.0,1664.6 662.0,1666.3 663.0,1663.4 664.0,1660.6 665.0,1662.0 666.0,1663.4 667.0,1659.6 668.0,1655.8 669.0,1654.7 670.0,1653.7 671.0,1652.5 672.0,1651.5 673.0,1653.3 674.0,1655.4 675.0,1653.1 676.0,1651.0 677.0,1654.3 678.0,1657.9 679.0,1659.2 680.0,1660.5 681.0,1659.3 682.0,1658.0 683.0,1660.9 684.0,1663.8 685.0,1665.1 686.0,1666.4 687.0,1671.0 688.0,1675.5 689.0,1674.3 690.0,1673.0 691.0,1674.1 692.0,1675.2 693.0,1675.7 694.0,1676.3 695.0,1679.2 696.0,1682.0 697.0,1682.5 698.0,1683.0 699.0,1680.9 700.0,1678.9 701.0,1682.2 702.0,1685.5 703.0,1686.5 704.0,1687.5 705.0,1687.2 706.0,1687.0 707.0,1688.4 708.0,1689.8 709.0,1690.0 710.0,1690.2 711.0,1687.8 712.0,1685.3 713.0,1686.4 714.0,1687.4 715.0,1688.3 716.0,1689.1 717.0,1688.2 718.0,1687.3 719.0,1686.3 720.0,1685.3 721.0,1684.7 722.0,1684.0 723.0,1683.7 724.0,1683.4 725.0,1682.2 726.0,1681.0 727.0,1682.6 728.0,1684.2 729.0,1683.1 730.0,1682.0 731.0,1679.8 732.0,1677.5 733.0,1678.7 734.0,1680.0 735.0,1677.3 736.0,1674.6 737.0,1673.1 738.0,1671.8 739.0,1671.0 740.0,1670.3 741.0,1671.3 742.0,1672.5 743.0,1674.4 744.0,1676.4 745.0,1675.8 746.0,1675.4 747.0,1677.8 748.0,1680.5 749.0,1681.5 750.0,1682.7 751.0,1687.1 752.0,1691.5 753.0,1690.5 754.0,1689.3 755.0,1689.9 756.0,1690.1 757.0,1689.2 758.0,1688.2 759.0,1691.0 760.0,1693.8 761.0,1695.3 762.0,1696.7 763.0,1695.9 764.0,1695.1 765.0,1695.4 766.0,1695.8 767.0,1696.4 768.0,1697.0 769.0,1696.7 770.0,1696.4 771.0,1697.3 772.0,1698.1 773.0,1696.6 774.0,1695.1 775.0,1695.8 776.0,1696.4 777.0,1695.8 778.0,1695.2 779.0,1696.6 780.0,1698.0 781.0,1698.6 782.0,1699.3 783.0,1699.3 784.0,1699.4 785.0,1696.9 786.0,1694.4 787.0,1694.8 788.0,1695.1 789.0,1695.6 790.0,1696.1 791.0,1695.1 792.0,1694.2 793.0,1693.2 794.0,1692.4 795.0,1694.1 796.0,1695.9 797.0,1695.8 798.0,1695.6 799.0,1694.9 800.0,1694.2 801.0,1695.8 802.0,1697.3 803.0,1696.5 804.0,1695.7 805.0,1694.3 806.0,1692.8 807.0,1693.8 808.0,1694.8 809.0,1696.2 810.0,1697.7 811.0,1697.8 812.0,1697.9 813.0,1697.8 814.0,1697.6 815.0,1697.3 816.0,1696.9 817.0,1697.5 818.0,1698.0 819.0,1697.6 820.0,1697.1 821.0,1697.5 822.0,1697.9 823.0,1697.1 824.0,1696.3 825.0,1698.6 826.0,1700.9 827.0,1699.0 828.0,1697.1 829.0,1700.4 830.0,1703.6 831.0,1698.5 832.0,1693.3 833.0,1694.9 834.0,1696.4 835.0,1696.8 836.0,1697.2 837.0,1698.0 838.0,1698.9 839.0,1698.9 840.0,1698.9 841.0,1697.4 842.0,1695.9 843.0,1697.1 844.0,1698.3 845.0,1698.3 846.0,1698.3 847.0,1697.2 848.0,1696.1 849.0,1697.2 850.0,1698.2 851.0,1695.7 852.0,1693.2 853.0,1694.2 854.0,1695.3 855.0,1696.7 856.0,1698.1 857.0,1697.2 858.0,1696.4 859.0,1697.1 860.0,1697.9 861.0,1696.6 862.0,1695.3 863.0,1696.2 864.0,1697.0 865.0,1695.8 866.0,1694.5 867.0,1694.1 868.0,1693.6 869.0,1693.9 870.0,1694.1 871.0,1696.5 872.0,1698.9 873.0,1697.0 874.0,1695.1 875.0,1696.1 876.0,1697.1 877.0,1694.7 878.0,1692.2 879.0,1693.0 880.0,1693.8 881.0,1695.0 882.0,1696.3 883.0,1695.5 884.0,1694.8 885.0,1695.1 886.0,1695.4 887.0,1693.0 888.0,1690.7 889.0,1696.1 890.0,1701.4 891.0,1698.8 892.0,1696.2 893.0,1694.1 894.0,1692.0 895.0,1693.3 896.0,1694.5 897.0,1693.7 898.0,1692.8 899.0,1694.1 900.0,1695.5 901.0,1693.8 902.0,1692.0 903.0,1693.1 904.0,1694.0 905.0,1693.6 906.0,1693.1 907.0,1691.8 908.0,1690.5 909.0,1691.6 910.0,1692.9 911.0,1692.2 912.0,1691.5 913.0,1690.9 914.0,1690.3 915.0,1690.9 916.0,1691.5 917.0,1691.6 918.0,1691.6 919.0,1691.4 920.0,1691.1 921.0,1691.2 922.0,1691.3 923.0,1690.8 924.0,1690.4 925.0,1691.8 926.0,1693.3 927.0,1692.3 928.0,1691.2 929.0,1691.9 930.0,1692.6 931.0,1692.9 932.0,1693.3 933.0,1692.0 934.0,1690.7 935.0,1691.7 936.0,1692.7 937.0,1691.7 938.0,1690.8 939.0,1690.5 940.0,1690.3 941.0,1692.2 942.0,1694.0 943.0,1693.5 944.0,1692.9 945.0,1692.3 946.0,1691.8 947.0,1691.0 948.0,1690.3 949.0,1691.8 950.0,1693.3 951.0,1693.2 952.0,1693.1 953.0,1692.2 954.0,1691.3 955.0,1691.6 956.0,1691.9 957.0,1692.1 958.0,1692.3 959.0,1690.2 960.0,1688.1 961.0,1691.5 962.0,1694.8 963.0,1693.6 964.0,1692.3 965.0,1689.1 966.0,1685.9 967.0,1689.0 968.0,1692.0 969.0,1690.9 970.0,1689.8 971.0,1687.7 972.0,1685.6 973.0,1684.7 974.0,1683.7 975.0,1684.3 976.0,1684.8 977.0,1683.6 978.0,1682.3 979.0,1683.0 980.0,1683.8 981.0,1684.8 982.0,1685.9 983.0,1682.8 984.0,1679.9 985.0,1681.7 986.0,1683.7 987.0,1686.1 988.0,1688.4 989.0,1689.5 990.0,1690.5 991.0,1689.5 992.0,1688.4 993.0,1688.0 994.0,1687.6 995.0,1689.4 996.0,1691.3 997.0,1690.3 998.0,1689.4 999.0,1690.1 1000.0,1690.8 1001.0,1693.7 1002.0,1696.5 1003.0,1695.9 1004.0,1695.2 1005.0,1696.0 1006.0,1696.8 1007.0,1695.5 1008.0,1694.3 1009.0,1695.4 1010.0,1696.6 1011.0,1697.0 1012.0,1697.4 1013.0,1697.5 1014.0,1697.5 1015.0,1699.3 1016.0,1701.1 1017.0,1701.0 1018.0,1700.9 1019.0,1699.8 1020.0,1698.7 1021.0,1700.5 1022.0,1702.4 1023.0,1700.9 1024.0,1699.4 1025.0,1698.5 1026.0,1697.7 1027.0,1698.6 1028.0,1699.6 1029.0,1700.6 1030.0,1701.7 1031.0,1702.0 1032.0,1702.3 1033.0,1702.2 1034.0,1702.1 1035.0,1703.5 1036.0,1704.7 1037.0,1704.4 1038.0,1704.0 1039.0,1701.9 1040.0,1699.7 1041.0,1700.2 1042.0,1700.6 1043.0,1704.6 1044.0,1708.5 1045.0,1707.7 1046.0,1707.0 1047.0,1703.7 1048.0,1700.3 1049.0,1704.3 1050.0,1708.2 1051.0,1705.3 1052.0,1702.3 1053.0,1702.6 1054.0,1702.9 1055.0,1703.0 1056.0,1703.0 1057.0,1703.5 1058.0,1704.0 1059.0,1705.3 1060.0,1706.6 1061.0,1706.4 1062.0,1706.2 1063.0,1706.2 1064.0,1706.1 1065.0,1705.2 1066.0,1704.3 1067.0,1704.0 1068.0,1703.8 1069.0,1703.2 1070.0,1702.5 1071.0,1701.9 1072.0,1701.3 1073.0,1704.6 1074.0,1707.9 1075.0,1705.6 1076.0,1703.3 1077.0,1702.6 1078.0,1701.7 1079.0,1704.8 1080.0,1707.8 1081.0,1705.7 1082.0,1703.4 1083.0,1704.3 1084.0,1705.1 1085.0,1704.5 1086.0,1704.0 1087.0,1701.7 1088.0,1699.5 1089.0,1701.0 1090.0,1702.5 1091.0,1703.1 1092.0,1703.8 1093.0,1702.3 1094.0,1700.7 1095.0,1702.8 1096.0,1704.8 1097.0,1704.2 1098.0,1703.6 1099.0,1703.6 1100.0,1703.6 1101.0,1704.8 1102.0,1706.1 1103.0,1705.5 1104.0,1705.0 1105.0,1703.8 1106.0,1702.6 1107.0,1702.5 1108.0,1702.4 1109.0,1704.2 1110.0,1705.9 1111.0,1704.7 1112.0,1703.4 1113.0,1703.5 1114.0,1703.6 1115.0,1703.1 1116.0,1702.6 1117.0,1703.8 1118.0,1704.9 1119.0,1704.2 1120.0,1703.4 1121.0,1703.0 1122.0,1702.7 1123.0,1703.7 1124.0,1704.7 1125.0,1704.9 1126.0,1705.0 1127.0,1706.8 1128.0,1708.6 1129.0,1704.5 1130.0,1700.4 1131.0,1702.2 1132.0,1704.1 1133.0,1702.1 1134.0,1700.3 1135.0,1700.9 1136.0,1701.7 1137.0,1702.6 1138.0,1703.5 1139.0,1703.1 1140.0,1702.7 1141.0,1704.0 1142.0,1705.2 1143.0,1704.5 1144.0,1703.8 1145.0,1702.9 1146.0,1702.0 1147.0,1702.1 1148.0,1702.3 1149.0,1700.2 1150.0,1698.1 1151.0,1699.3 1152.0,1700.6 1153.0,1701.9 1154.0,1703.1 1155.0,1703.9 1156.0,1704.6 1157.0,1703.5 1158.0,1702.4 1159.0,1702.2 1160.0,1702.0 1161.0,1701.0 1162.0,1700.1 1163.0,1702.7 1164.0,1705.4 1165.0,1701.2 1166.0,1697.1 1167.0,1699.6 1168.0,1702.2 1169.0,1700.6 1170.0,1699.0 1171.0,1700.7 1172.0,1702.4 1173.0,1703.1 1174.0,1703.8 1175.0,1702.5 1176.0,1701.1 1177.0,1700.7 1178.0,1700.1 1179.0,1700.2 1180.0,1700.3 1181.0,1700.6 1182.0,1700.9 1183.0,1699.1 1184.0,1697.2 1185.0,1700.0 1186.0,1702.9 1187.0,1700.7 1188.0,1698.5 1189.0,1699.9 1190.0,1701.4 1191.0,1699.1 1192.0,1696.9 1193.0,1697.9 1194.0,1698.9 1195.0,1698.1 1196.0,1697.3 1197.0,1697.0 1198.0,1696.7 1199.0,1695.8 1200.0,1694.9 1201.0,1697.4 1202.0,1700.0 1203.0,1698.6 1204.0,1697.1 1205.0,1698.1 1206.0,1699.0 1207.0,1699.4 1208.0,1699.8 1209.0,1699.4 1210.0,1699.0 1211.0,1698.7 1212.0,1698.3 1213.0,1697.5 1214.0,1696.6 1215.0,1698.8 1216.0,1701.0 1217.0,1700.4 1218.0,1699.8 1219.0,1701.1 1220.0,1702.5 1221.0,1703.6 1222.0,1704.8 1223.0,1705.1 1224.0,1705.4 1225.0,1704.6 1226.0,1703.8 1227.0,1703.7 1228.0,1703.6 1229.0,1704.5 1230.0,1705.4 1231.0,1705.4 1232.0,1705.3 1233.0,1706.1 1234.0,1706.9 1235.0,1704.7 1236.0,1702.6 1237.0,1704.2 1238.0,1705.8 1239.0,1704.5 1240.0,1703.2 1241.0,1704.8 1242.0,1706.4 1243.0,1704.7 1244.0,1702.9 1245.0,1701.6 1246.0,1700.3 1247.0,1702.6 1248.0,1704.9 1249.0,1705.7 1250.0,1706.5 1251.0,1705.7 1252.0,1704.9 1253.0,1703.5 1254.0,1702.2 1255.0,1703.8 1256.0,1705.5 1257.0,1706.9 1258.0,1708.3 1259.0,1706.6 1260.0,1704.9 1261.0,1704.5 1262.0,1704.2 1263.0,1704.4 1264.0,1704.6 1265.0,1704.9 1266.0,1705.1 1267.0,1705.7 1268.0,1706.4 1269.0,1706.1 1270.0,1705.9 1271.0,1704.4 1272.0,1703.0 1273.0,1701.7 1274.0,1700.5 1275.0,1703.2 1276.0,1705.9 1277.0,1703.8 1278.0,1701.6 1279.0,1702.6 1280.0,1703.6 1281.0,1702.5 1282.0,1701.4 1283.0,1703.8 1284.0,1706.2 1285.0,1703.9 1286.0,1701.6 1287.0,1702.0 1288.0,1702.5 1289.0,1703.9 1290.0,1705.3 1291.0,1705.4 1292.0,1705.5 1293.0,1703.7 1294.0,1701.8 1295.0,1701.9 1296.0,1701.8 1297.0,1703.9 1298.0,1705.9 1299.0,1706.2 1300.0,1706.4 1301.0,1705.4 1302.0,1704.5 1303.0,1704.1 1304.0,1703.8 1305.0,1702.3 1306.0,1701.0 1307.0,1703.7 1308.0,1706.4 1309.0,1703.7 1310.0,1701.0 1311.0,1704.1 1312.0,1707.2 1313.0,1704.9 1314.0,1702.7 1315.0,1702.5 1316.0,1702.4 1317.0,1702.9 1318.0,1703.5 1319.0,1702.9 1320.0,1702.2 1321.0,1702.9 1322.0,1703.5 1323.0,1704.5 1324.0,1705.5 1325.0,1705.2 1326.0,1704.9 1327.0,1704.7 1328.0,1704.4 1329.0,1704.0 1330.0,1703.6 1331.0,1704.1 1332.0,1704.6 1333.0,1705.9 1334.0,1707.1 1335.0,1703.6 1336.0,1700.1 1337.0,1702.1 1338.0,1704.0 1339.0,1703.2 1340.0,1702.4 1341.0,1703.5 1342.0,1704.6 1343.0,1701.5 1344.0,1698.5 1345.0,1700.6 1346.0,1702.6 1347.0,1702.5 1348.0,1702.4 1349.0,1701.0 1350.0,1699.6 1351.0,1701.1 1352.0,1702.6 1353.0,1702.2 1354.0,1701.7 1355.0,1702.1 1356.0,1702.5 1357.0,1702.8 1358.0,1703.1 1359.0,1701.7 1360.0,1700.4 1361.0,1701.0 1362.0,1701.6 1363.0,1702.4 1364.0,1703.2 1365.0,1705.3 1366.0,1707.4 1367.0,1706.1 1368.0,1704.8 1369.0,1703.2 1370.0,1701.5 1371.0,1703.8 1372.0,1706.1 1373.0,1704.7 1374.0,1703.4 1375.0,1703.2 1376.0,1703.0 1377.0,1703.3 1378.0,1703.5 1379.0,1703.8 1380.0,1704.0 1381.0,1704.0 1382.0,1704.0 1383.0,1701.8 1384.0,1699.6 1385.0,1701.3 1386.0,1703.0 1387.0,1703.8 1388.0,1704.5 1389.0,1703.1 1390.0,1701.8 1391.0,1702.9 1392.0,1704.1 1393.0,1703.1 1394.0,1702.2 1395.0,1701.2 1396.0,1700.3 1397.0,1702.3 1398.0,1704.3 1399.0,1702.5 1400.0,1700.7 1401.0,1701.0 1402.0,1701.2 1403.0,1701.9 1404.0,1702.6 1405.0,1702.5 1406.0,1702.4 1407.0,1702.5 1408.0,1702.7 1409.0,1703.8 1410.0,1704.9 1411.0,1703.6 1412.0,1702.1 1413.0,1700.8 1414.0,1699.3 1415.0,1699.5 1416.0,1699.6 1417.0,1698.6 1418.0,1697.6 1419.0,1696.2 1420.0,1694.8 1421.0,1694.1 1422.0,1693.4 1423.0,1692.9 1424.0,1692.5 1425.0,1693.1 1426.0,1693.8 1427.0,1689.6 1428.0,1685.5 1429.0,1685.7 1430.0,1686.0 1431.0,1687.1 1432.0,1688.3 1433.0,1688.8 1434.0,1689.4 1435.0,1688.7 1436.0,1688.2 1437.0,1688.3 1438.0,1688.6 1439.0,1689.1 1440.0,1689.8 1441.0,1690.5 1442.0,1691.4 1443.0,1691.5 1444.0,1691.8 1445.0,1693.3 1446.0,1694.8 1447.0,1695.1 1448.0,1695.2 1449.0,1696.4 1450.0,1697.4 1451.0,1698.7 1452.0,1699.9 1453.0,1700.1 1454.0,1700.2 1455.0,1700.6 1456.0,1700.9 1457.0,1700.3 1458.0,1699.7 1459.0,1702.2 1460.0,1704.6 1461.0,1702.8 1462.0,1701.0 1463.0,1703.0 1464.0,1704.9 1465.0,1702.9 1466.0,1700.9 1467.0,1702.9 1468.0,1704.9 1469.0,1704.1 1470.0,1703.4 1471.0,1701.1 1472.0,1698.7 1473.0,1700.2 1474.0,1701.6 1475.0,1700.9 1476.0,1700.1 1477.0,1702.5 1478.0,1704.9 1479.0,1704.1 1480.0,1703.4 1481.0,1703.3 1482.0,1703.2 1483.0,1703.4 1484.0,1703.6 1485.0,1702.9 1486.0,1702.3 1487.0,1703.3 1488.0,1704.4 1489.0,1703.2 1490.0,1701.9 1491.0,1702.1 1492.0,1702.2 1493.0,1704.4 1494.0,1706.5 1495.0,1705.1 1496.0,1703.8 1497.0,1702.9 1498.0,1702.1 1499.0,1704.5 1500.0,1707.0 1501.0,1706.9 1502.0,1706.7 1503.0,1705.2 1504.0,1703.6 1505.0,1704.4 1506.0,1705.1 1507.0,1704.8 1508.0,1704.5 1509.0,1702.3 1510.0,1700.1 1511.0,1701.9 1512.0,1703.8 1513.0,1701.9 1514.0,1700.0 1515.0,1702.1 1516.0,1704.2 1517.0,1704.6 1518.0,1704.9 1519.0,1705.8 1520.0,1706.6 1521.0,1706.2 1522.0,1705.8 1523.0,1706.4 1524.0,1707.0 1525.0,1706.2 1526.0,1705.3 1527.0,1705.3 1528.0,1705.3 1529.0,1705.2 1530.0,1705.2 1531.0,1705.5 1532.0,1705.7 1533.0,1705.9 1534.0,1706.2 1535.0,1705.5 1536.0,1704.8 1537.0,1704.3 1538.0,1703.8 1539.0,1703.7 1540.0,1703.7 1541.0,1702.6 1542.0,1701.5 1543.0,1703.1 1544.0,1704.7 1545.0,1705.7 1546.0,1706.7 1547.0,1704.0 1548.0,1701.2 1549.0,1704.3 1550.0,1707.2 1551.0,1705.5 1552.0,1703.7 1553.0,1703.3 1554.0,1702.8 1555.0,1703.4 1556.0,1704.1 1557.0,1705.7 1558.0,1707.3 1559.0,1706.7 1560.0,1706.2 1561.0,1705.0 1562.0,1703.8 1563.0,1704.1 1564.0,1704.2 1565.0,1702.6 1566.0,1700.9 1567.0,1702.6 1568.0,1704.4 1569.0,1705.5 1570.0,1706.7 1571.0,1703.7 1572.0,1700.7 1573.0,1703.0 1574.0,1705.3 1575.0,1705.4 1576.0,1705.4 1577.0,1705.7 1578.0,1706.1" stroke="#0C2340" stroke-width="7.5"/>
<path d="M162.0,1763.6 163.0,1766.9 164.0,1770.0 165.0,1765.9 166.0,1761.7 167.0,1761.7 168.0,1761.6 169.0,1761.4 170.0,1760.9 171.0,1760.3 172.0,1758.5 173.0,1754.9 174.0,1751.2 175.0,1748.7 176.0,1749.6 177.0,1752.4 178.0,1755.2 179.0,1757.4 180.0,1758.4 181.0,1761.4 182.0,1763.9 183.0,1763.3 184.0,1762.5 185.0,1762.6 186.0,1762.7 187.0,1759.9 188.0,1757.1 189.0,1757.3 190.0,1757.5 191.0,1761.4 192.0,1765.3 193.0,1764.3 194.0,1763.4 195.0,1763.5 196.0,1763.7 197.0,1766.2 198.0,1768.7 199.0,1764.6 200.0,1760.5 201.0,1762.0 202.0,1763.5 203.0,1761.5 204.0,1759.4 205.0,1758.3 206.0,1757.3 207.0,1757.4 208.0,1757.6 209.0,1760.5 210.0,1763.3 211.0,1760.7 212.0,1758.1 213.0,1756.4 214.0,1754.4 215.0,1756.0 216.0,1757.3 217.0,1756.9 218.0,1756.4 219.0,1756.9 220.0,1757.8 221.0,1757.9 222.0,1758.9 223.0,1758.2 224.0,1757.8 225.0,1756.4 226.0,1755.2 227.0,1758.2 228.0,1761.0 229.0,1763.8 230.0,1766.4 231.0,1764.6 232.0,1762.8 233.0,1765.3 234.0,1767.7 235.0,1768.6 236.0,1769.5 237.0,1765.4 238.0,1761.2 239.0,1764.4 240.0,1767.5 241.0,1769.4 242.0,1771.2 243.0,1770.9 244.0,1770.5 245.0,1770.3 246.0,1770.1 247.0,1769.9 248.0,1769.8 249.0,1774.2 250.0,1778.7 251.0,1774.5 252.0,1770.4 253.0,1768.0 254.0,1765.6 255.0,1767.3 256.0,1768.9 257.0,1769.7 258.0,1770.6 259.0,1770.8 260.0,1771.1 261.0,1770.1 262.0,1769.3 263.0,1769.9 264.0,1770.7 265.0,1770.5 266.0,1770.4 267.0,1772.2 268.0,1774.0 269.0,1770.1 270.0,1766.0 271.0,1768.7 272.0,1771.2 273.0,1768.9 274.0,1766.6 275.0,1765.8 276.0,1765.0 277.0,1768.2 278.0,1771.4 279.0,1770.1 280.0,1768.9 281.0,1771.3 282.0,1773.7 283.0,1772.7 284.0,1771.7 285.0,1772.8 286.0,1773.8 287.0,1776.1 288.0,1778.4 289.0,1774.5 290.0,1770.5 291.0,1767.8 292.0,1765.1 293.0,1766.0 294.0,1766.8 295.0,1767.0 296.0,1767.3 297.0,1768.4 298.0,1769.6 299.0,1768.3 300.0,1767.0 301.0,1769.7 302.0,1772.3 303.0,1772.2 304.0,1771.9 305.0,1769.3 306.0,1766.5 307.0,1767.2 308.0,1767.7 309.0,1765.5 310.0,1763.5 311.0,1765.1 312.0,1767.3 313.0,1768.2 314.0,1769.8 315.0,1767.8 316.0,1766.1 317.0,1772.8 318.0,1779.3 319.0,1774.9 320.0,1770.2 321.0,1773.3 322.0,1776.2 323.0,1778.4 324.0,1780.4 325.0,1781.4 326.0,1782.4 327.0,1783.2 328.0,1784.0 329.0,1783.0 330.0,1782.0 331.0,1779.6 332.0,1777.4 333.0,1776.1 334.0,1774.7 335.0,1778.2 336.0,1781.7 337.0,1785.2 338.0,1788.7 339.0,1784.2 340.0,1779.7 341.0,1781.1 342.0,1782.6 343.0,1781.1 344.0,1779.8 345.0,1783.2 346.0,1786.6 347.0,1782.3 348.0,1778.0 349.0,1784.4 350.0,1790.6 351.0,1787.4 352.0,1784.2 353.0,1785.9 354.0,1787.6 355.0,1789.0 356.0,1790.4 357.0,1783.1 358.0,1775.8 359.0,1777.7 360.0,1779.3 361.0,1777.2 362.0,1774.6 363.0,1775.1 364.0,1774.7 365.0,1771.5 366.0,1769.0 367.0,1766.7 368.0,1766.4 369.0,1769.0 370.0,1771.7 371.0,1771.2 372.0,1769.5 373.0,1766.9 374.0,1763.5 375.0,1761.9 376.0,1759.9 377.0,1758.4 378.0,1756.8 379.0,1753.9 380.0,1750.8 381.0,1747.5 382.0,1744.1 383.0,1743.2 384.0,1742.5 385.0,1735.2 386.0,1728.3 387.0,1728.2 388.0,1728.7 389.0,1729.9 390.0,1731.8 391.0,1731.7 392.0,1732.3 393.0,1735.7 394.0,1739.4 395.0,1739.7 396.0,1740.2 397.0,1744.4 398.0,1748.6 399.0,1749.8 400.0,1750.8 401.0,1753.3 402.0,1755.6 403.0,1761.0 404.0,1766.2 405.0,1767.5 406.0,1768.8 407.0,1767.3 408.0,1765.8 409.0,1769.9 410.0,1773.9 411.0,1775.5 412.0,1776.9 413.0,1778.5 414.0,1779.9 415.0,1779.9 416.0,1779.9 417.0,1780.0 418.0,1780.1 419.0,1777.1 420.0,1774.1 421.0,1779.3 422.0,1784.3 423.0,1783.0 424.0,1781.6 425.0,1783.0 426.0,1784.4 427.0,1784.2 428.0,1784.1 429.0,1784.8 430.0,1785.7 431.0,1787.8 432.0,1789.9 433.0,1787.0 434.0,1784.0 435.0,1785.0 436.0,1785.9 437.0,1786.0 438.0,1786.2 439.0,1788.2 440.0,1790.2 441.0,1789.9 442.0,1789.7 443.0,1786.6 444.0,1783.6 445.0,1785.1 446.0,1786.6 447.0,1788.6 448.0,1790.6 449.0,1792.5 450.0,1794.2 451.0,1793.0 452.0,1791.6 453.0,1791.4 454.0,1791.1 455.0,1788.3 456.0,1785.4 457.0,1787.4 458.0,1789.4 459.0,1789.1 460.0,1789.0 461.0,1791.5 462.0,1794.2 463.0,1793.7 464.0,1793.2 465.0,1793.6 466.0,1794.0 467.0,1794.3 468.0,1794.5 469.0,1795.5 470.0,1796.3 471.0,1795.6 472.0,1794.8 473.0,1794.9 474.0,1795.0 475.0,1793.3 476.0,1791.8 477.0,1792.9 478.0,1794.2 479.0,1796.7 480.0,1799.3 481.0,1797.7 482.0,1796.1 483.0,1796.3 484.0,1796.5 485.0,1797.9 486.0,1799.3 487.0,1796.4 488.0,1793.6 489.0,1794.9 490.0,1796.2 491.0,1801.6 492.0,1807.0 493.0,1803.7 494.0,1800.3 495.0,1799.7 496.0,1799.0 497.0,1799.7 498.0,1800.4 499.0,1799.9 500.0,1799.5 501.0,1799.0 502.0,1798.5 503.0,1798.9 504.0,1799.4 505.0,1798.0 506.0,1796.8 507.0,1797.9 508.0,1799.2 509.0,1801.1 510.0,1802.9 511.0,1800.6 512.0,1798.1 513.0,1800.5 514.0,1802.8 515.0,1803.2 516.0,1803.6 517.0,1801.2 518.0,1798.9 519.0,1803.1 520.0,1807.3 521.0,1805.8 522.0,1804.2 523.0,1807.8 524.0,1811.2 525.0,1805.6 526.0,1800.0 527.0,1801.8 528.0,1803.6 529.0,1803.0 530.0,1802.6 531.0,1804.8 532.0,1807.0 533.0,1807.4 534.0,1807.9 535.0,1806.0 536.0,1804.1 537.0,1802.9 538.0,1801.6 539.0,1803.0 540.0,1804.4 541.0,1805.7 542.0,1807.0 543.0,1806.5 544.0,1806.0 545.0,1803.8 546.0,1801.6 547.0,1803.7 548.0,1805.9 549.0,1805.9 550.0,1805.9 551.0,1805.4 552.0,1804.9 553.0,1804.9 554.0,1804.8 555.0,1806.2 556.0,1807.6 557.0,1804.2 558.0,1800.9 559.0,1800.8 560.0,1800.7 561.0,1803.6 562.0,1806.5 563.0,1806.1 564.0,1805.7 565.0,1804.3 566.0,1802.9 567.0,1802.5 568.0,1802.0 569.0,1801.3 570.0,1800.6 571.0,1804.1 572.0,1807.6 573.0,1806.4 574.0,1805.3 575.0,1803.7 576.0,1802.2 577.0,1805.4 578.0,1808.8 579.0,1806.6 580.0,1804.5 581.0,1803.6 582.0,1802.8 583.0,1804.5 584.0,1806.1 585.0,1804.4 586.0,1802.7 587.0,1802.5 588.0,1802.3 589.0,1804.3 590.0,1806.4 591.0,1804.9 592.0,1803.4 593.0,1804.7 594.0,1806.0 595.0,1805.0 596.0,1803.9 597.0,1801.9 598.0,1799.8 599.0,1802.1 600.0,1804.5 601.0,1805.6 602.0,1806.7 603.0,1803.4 604.0,1800.1 605.0,1801.6 606.0,1803.2 607.0,1802.0 608.0,1800.9 609.0,1803.4 610.0,1805.9 611.0,1805.4 612.0,1804.8 613.0,1805.1 614.0,1805.4 615.0,1802.9 616.0,1800.3 617.0,1800.1 618.0,1799.9 619.0,1802.4 620.0,1805.0 621.0,1803.5 622.0,1802.0 623.0,1799.9 624.0,1797.7 625.0,1801.9 626.0,1806.2 627.0,1805.3 628.0,1804.4 629.0,1803.8 630.0,1803.2 631.0,1802.3 632.0,1801.4 633.0,1801.3 634.0,1801.2 635.0,1799.2 636.0,1797.2 637.0,1798.9 638.0,1800.7 639.0,1799.9 640.0,1799.1 641.0,1802.8 642.0,1806.4 643.0,1801.8 644.0,1797.2 645.0,1799.9 646.0,1802.6 647.0,1800.9 648.0,1799.2 649.0,1800.5 650.0,1801.7 651.0,1798.4 652.0,1795.0 653.0,1793.6 654.0,1792.2 655.0,1793.9 656.0,1795.6 657.0,1795.4 658.0,1795.1 659.0,1796.2 660.0,1797.2 661.0,1797.1 662.0,1797.0 663.0,1793.6 664.0,1790.1 665.0,1794.3 666.0,1798.5 667.0,1797.7 668.0,1797.0 669.0,1796.0 670.0,1795.0 671.0,1795.7 672.0,1796.4 673.0,1795.3 674.0,1794.2 675.0,1796.7 676.0,1799.2 677.0,1799.6 678.0,1799.9 679.0,1798.9 680.0,1797.9 681.0,1799.8 682.0,1801.6 683.0,1801.3 684.0,1801.1 685.0,1801.5 686.0,1801.9 687.0,1802.8 688.0,1803.8 689.0,1803.8 690.0,1803.8 691.0,1804.6 692.0,1805.4 693.0,1809.9 694.0,1814.5 695.0,1813.1 696.0,1811.7 697.0,1810.0 698.0,1808.3 699.0,1807.7 700.0,1807.0 701.0,1808.1 702.0,1809.2 703.0,1808.7 704.0,1808.3 705.0,1805.6 706.0,1802.9 707.0,1802.9 708.0,1803.0 709.0,1807.2 710.0,1811.5 711.0,1809.8 712.0,1808.0 713.0,1806.0 714.0,1803.9 715.0,1806.1 716.0,1808.0 717.0,1804.0 718.0,1800.1 719.0,1799.6 720.0,1799.1 721.0,1803.5 722.0,1808.0 723.0,1805.9 724.0,1804.0 725.0,1801.5 726.0,1798.9 727.0,1801.6 728.0,1804.2 729.0,1803.2 730.0,1802.1 731.0,1801.2 732.0,1800.3 733.0,1800.6 734.0,1800.9 735.0,1801.9 736.0,1802.9 737.0,1799.9 738.0,1797.0 739.0,1798.7 740.0,1800.5 741.0,1801.1 742.0,1801.7 743.0,1800.2 744.0,1798.7 745.0,1800.6 746.0,1802.5 747.0,1802.5 748.0,1802.6 749.0,1803.7 750.0,1804.8 751.0,1805.8 752.0,1806.8 753.0,1804.8 754.0,1802.8 755.0,1806.0 756.0,1809.0 757.0,1807.9 758.0,1806.6 759.0,1805.2 760.0,1803.7 761.0,1803.6 762.0,1803.5 763.0,1804.4 764.0,1805.4 765.0,1807.3 766.0,1809.4 767.0,1807.8 768.0,1806.2 769.0,1807.9 770.0,1809.5 771.0,1807.3 772.0,1805.1 773.0,1808.5 774.0,1811.9 775.0,1809.7 776.0,1807.5 777.0,1807.3 778.0,1807.0 779.0,1807.1 780.0,1807.2 781.0,1809.1 782.0,1811.0 783.0,1810.8 784.0,1810.6 785.0,1808.4 786.0,1806.1 787.0,1808.4 788.0,1810.7 789.0,1810.1 790.0,1809.5 791.0,1808.7 792.0,1807.9 793.0,1808.2 794.0,1808.4 795.0,1809.0 796.0,1809.5 797.0,1808.5 798.0,1807.4 799.0,1807.5 800.0,1807.5 801.0,1806.9 802.0,1806.4 803.0,1807.7 804.0,1809.1 805.0,1810.9 806.0,1812.7 807.0,1811.3 808.0,1809.9 809.0,1809.8 810.0,1809.7 811.0,1809.7 812.0,1809.7 813.0,1810.9 814.0,1812.1 815.0,1809.9 816.0,1807.6 817.0,1806.4 818.0,1805.2 819.0,1805.4 820.0,1805.6 821.0,1807.9 822.0,1810.3 823.0,1812.2 824.0,1814.2 825.0,1809.6 826.0,1805.0 827.0,1806.8 828.0,1808.6 829.0,1810.1 830.0,1811.6 831.0,1812.3 832.0,1813.1 833.0,1809.1 834.0,1805.1 835.0,1807.7 836.0,1810.2 837.0,1811.6 838.0,1812.8 839.0,1809.5 840.0,1806.3 841.0,1811.8 842.0,1817.4 843.0,1812.7 844.0,1808.1 845.0,1810.8 846.0,1813.6 847.0,1812.4 848.0,1811.3 849.0,1811.8 850.0,1812.3 851.0,1814.5 852.0,1816.6 853.0,1813.2 854.0,1809.9 855.0,1810.5 856.0,1811.1 857.0,1811.5 858.0,1811.7 859.0,1811.5 860.0,1811.3 861.0,1811.7 862.0,1812.1 863.0,1812.1 864.0,1812.2 865.0,1810.6 866.0,1809.1 867.0,1808.8 868.0,1808.5 869.0,1806.6 870.0,1804.7 871.0,1809.1 872.0,1813.5 873.0,1812.2 874.0,1811.0 875.0,1808.8 876.0,1806.8 877.0,1811.2 878.0,1815.7 879.0,1815.7 880.0,1815.7 881.0,1811.9 882.0,1807.8 883.0,1811.1 884.0,1814.3 885.0,1812.4 886.0,1810.4 887.0,1809.8 888.0,1809.2 889.0,1808.0 890.0,1806.9 891.0,1810.1 892.0,1813.3 893.0,1810.1 894.0,1806.9 895.0,1809.9 896.0,1812.8 897.0,1811.0 898.0,1809.2 899.0,1811.2 900.0,1813.4 901.0,1810.1 902.0,1807.0 903.0,1808.8 904.0,1810.7 905.0,1811.8 906.0,1812.9 907.0,1814.4 908.0,1815.8 909.0,1815.0 910.0,1814.0 911.0,1813.4 912.0,1812.8 913.0,1812.0 914.0,1811.2 915.0,1811.1 916.0,1811.0 917.0,1811.4 918.0,1811.7 919.0,1812.7 920.0,1813.6 921.0,1813.9 922.0,1814.2 923.0,1814.8 924.0,1815.3 925.0,1811.8 926.0,1808.4 927.0,1808.9 928.0,1809.4 929.0,1810.7 930.0,1811.9 931.0,1811.6 932.0,1811.3 933.0,1810.6 934.0,1809.8 935.0,1812.9 936.0,1815.9 937.0,1813.8 938.0,1811.6 939.0,1811.1 940.0,1810.4 941.0,1810.6 942.0,1810.8 943.0,1813.1 944.0,1815.3 945.0,1814.1 946.0,1813.0 947.0,1811.6 948.0,1810.3 949.0,1810.5 950.0,1810.7 951.0,1813.0 952.0,1815.2 953.0,1812.9 954.0,1810.5 955.0,1809.1 956.0,1807.7 957.0,1809.1 958.0,1810.4 959.0,1811.3 960.0,1812.2 961.0,1812.6 962.0,1813.1 963.0,1811.3 964.0,1809.4 965.0,1811.4 966.0,1813.2 967.0,1809.3 968.0,1805.3 969.0,1804.8 970.0,1804.3 971.0,1804.7 972.0,1805.3 973.0,1803.2 974.0,1801.1 975.0,1800.2 976.0,1799.4 977.0,1800.0 978.0,1800.7 979.0,1798.1 980.0,1795.6 981.0,1797.5 982.0,1799.5 983.0,1800.3 984.0,1801.2 985.0,1800.7 986.0,1800.2 987.0,1801.4 988.0,1802.6 989.0,1804.9 990.0,1807.2 991.0,1806.8 992.0,1806.5 993.0,1806.7 994.0,1806.9 995.0,1810.3 996.0,1813.7 997.0,1811.5 998.0,1809.2 999.0,1811.4 1000.0,1813.4 1001.0,1812.5 1002.0,1811.4 1003.0,1809.9 1004.0,1808.4 1005.0,1810.6 1006.0,1812.8 1007.0,1811.0 1008.0,1809.3 1009.0,1810.3 1010.0,1811.3 1011.0,1814.2 1012.0,1817.0 1013.0,1817.3 1014.0,1817.6 1015.0,1817.3 1016.0,1817.0 1017.0,1814.6 1018.0,1812.2 1019.0,1812.4 1020.0,1812.6 1021.0,1812.8 1022.0,1813.1 1023.0,1813.8 1024.0,1814.4 1025.0,1814.5 1026.0,1814.7 1027.0,1815.9 1028.0,1817.1 1029.0,1817.7 1030.0,1818.3 1031.0,1817.7 1032.0,1817.2 1033.0,1817.8 1034.0,1818.5 1035.0,1819.0 1036.0,1819.4 1037.0,1819.1 1038.0,1818.6 1039.0,1817.2 1040.0,1815.8 1041.0,1817.8 1042.0,1819.8 1043.0,1818.2 1044.0,1816.7 1045.0,1815.7 1046.0,1814.8 1047.0,1816.0 1048.0,1817.2 1049.0,1815.7 1050.0,1814.1 1051.0,1815.6 1052.0,1817.0 1053.0,1816.8 1054.0,1816.6 1055.0,1818.7 1056.0,1820.8 1057.0,1818.2 1058.0,1815.5 1059.0,1817.2 1060.0,1818.9 1061.0,1819.5 1062.0,1820.1 1063.0,1820.2 1064.0,1820.1 1065.0,1820.7 1066.0,1821.3 1067.0,1819.2 1068.0,1817.1 1069.0,1816.3 1070.0,1815.7 1071.0,1815.4 1072.0,1815.2 1073.0,1814.6 1074.0,1814.2 1075.0,1812.8 1076.0,1811.5 1077.0,1815.7 1078.0,1819.8 1079.0,1819.9 1080.0,1819.9 1081.0,1817.6 1082.0,1815.2 1083.0,1817.5 1084.0,1819.6 1085.0,1817.1 1086.0,1814.6 1087.0,1814.8 1088.0,1815.1 1089.0,1815.3 1090.0,1815.6 1091.0,1816.3 1092.0,1817.1 1093.0,1815.9 1094.0,1814.6 1095.0,1816.1 1096.0,1817.6 1097.0,1818.0 1098.0,1818.3 1099.0,1816.9 1100.0,1815.5 1101.0,1816.0 1102.0,1816.5 1103.0,1815.2 1104.0,1814.0 1105.0,1816.1 1106.0,1818.2 1107.0,1817.3 1108.0,1816.4 1109.0,1816.3 1110.0,1816.2 1111.0,1815.8 1112.0,1815.4 1113.0,1816.6 1114.0,1817.8 1115.0,1814.6 1116.0,1811.5 1117.0,1814.1 1118.0,1816.9 1119.0,1814.3 1120.0,1811.7 1121.0,1815.0 1122.0,1818.3 1123.0,1819.5 1124.0,1820.5 1125.0,1819.8 1126.0,1818.9 1127.0,1818.4 1128.0,1817.8 1129.0,1817.7 1130.0,1817.5 1131.0,1816.7 1132.0,1815.9 1133.0,1815.4 1134.0,1815.0 1135.0,1813.6 1136.0,1812.2 1137.0,1813.3 1138.0,1814.3 1139.0,1815.0 1140.0,1815.7 1141.0,1816.9 1142.0,1818.0 1143.0,1817.2 1144.0,1816.5 1145.0,1817.7 1146.0,1818.9 1147.0,1815.6 1148.0,1812.3 1149.0,1813.1 1150.0,1813.8 1151.0,1814.8 1152.0,1815.8 1153.0,1814.9 1154.0,1814.2 1155.0,1815.7 1156.0,1817.3 1157.0,1819.7 1158.0,1822.1 1159.0,1820.6 1160.0,1819.0 1161.0,1818.9 1162.0,1818.7 1163.0,1818.9 1164.0,1818.9 1165.0,1818.2 1166.0,1817.4 1167.0,1818.1 1168.0,1818.8 1169.0,1818.7 1170.0,1818.7 1171.0,1818.8 1172.0,1819.0 1173.0,1818.9 1174.0,1818.8 1175.0,1819.9 1176.0,1821.1 1177.0,1818.8 1178.0,1816.5 1179.0,1817.3 1180.0,1818.2 1181.0,1817.4 1182.0,1816.6 1183.0,1818.3 1184.0,1820.0 1185.0,1816.8 1186.0,1813.6 1187.0,1814.4 1188.0,1815.3 1189.0,1814.4 1190.0,1813.4 1191.0,1815.8 1192.0,1818.1 1193.0,1818.8 1194.0,1819.4 1195.0,1817.8 1196.0,1816.2 1197.0,1816.2 1198.0,1816.1 1199.0,1816.1 1200.0,1816.1 1201.0,1816.1 1202.0,1816.1 1203.0,1815.9 1204.0,1815.6 1205.0,1817.7 1206.0,1819.8 1207.0,1820.0 1208.0,1820.3 1209.0,1819.8 1210.0,1819.2 1211.0,1818.0 1212.0,1816.8 1213.0,1816.7 1214.0,1816.6 1215.0,1817.4 1216.0,1818.2 1217.0,1817.8 1218.0,1817.3 1219.0,1816.6 1220.0,1815.8 1221.0,1816.8 1222.0,1817.8 1223.0,1815.0 1224.0,1812.3 1225.0,1815.1 1226.0,1818.0 1227.0,1816.7 1228.0,1815.5 1229.0,1815.6 1230.0,1815.6 1231.0,1815.0 1232.0,1814.3 1233.0,1814.6 1234.0,1814.9 1235.0,1815.6 1236.0,1816.4 1237.0,1816.4 1238.0,1816.5 1239.0,1815.1 1240.0,1813.7 1241.0,1817.6 1242.0,1821.5 1243.0,1820.0 1244.0,1818.4 1245.0,1818.3 1246.0,1818.0 1247.0,1817.9 1248.0,1817.9 1249.0,1817.5 1250.0,1817.3 1251.0,1816.9 1252.0,1816.6 1253.0,1817.1 1254.0,1817.6 1255.0,1814.7 1256.0,1811.8 1257.0,1813.9 1258.0,1816.0 1259.0,1816.7 1260.0,1817.4 1261.0,1816.8 1262.0,1816.1 1263.0,1815.3 1264.0,1814.6 1265.0,1813.7 1266.0,1812.9 1267.0,1814.1 1268.0,1815.3 1269.0,1816.7 1270.0,1818.1 1271.0,1817.2 1272.0,1816.5 1273.0,1814.4 1274.0,1812.3 1275.0,1815.4 1276.0,1818.5 1277.0,1816.4 1278.0,1814.2 1279.0,1815.8 1280.0,1817.5 1281.0,1818.9 1282.0,1820.2 1283.0,1818.7 1284.0,1817.1 1285.0,1818.6 1286.0,1820.0 1287.0,1818.8 1288.0,1817.6 1289.0,1818.3 1290.0,1818.8 1291.0,1817.0 1292.0,1815.1 1293.0,1813.8 1294.0,1812.5 1295.0,1812.1 1296.0,1811.8 1297.0,1811.6 1298.0,1811.4 1299.0,1815.0 1300.0,1818.6 1301.0,1818.4 1302.0,1818.2 1303.0,1816.7 1304.0,1815.1 1305.0,1815.0 1306.0,1815.0 1307.0,1815.4 1308.0,1815.9 1309.0,1815.2 1310.0,1814.5 1311.0,1815.4 1312.0,1816.2 1313.0,1818.2 1314.0,1820.0 1315.0,1817.3 1316.0,1814.3 1317.0,1816.9 1318.0,1819.5 1319.0,1818.4 1320.0,1817.3 1321.0,1815.4 1322.0,1813.6 1323.0,1813.5 1324.0,1813.4 1325.0,1816.5 1326.0,1819.6 1327.0,1816.3 1328.0,1812.9 1329.0,1815.8 1330.0,1818.7 1331.0,1817.6 1332.0,1816.4 1333.0,1816.8 1334.0,1817.2 1335.0,1818.0 1336.0,1818.8 1337.0,1817.3 1338.0,1815.7 1339.0,1817.3 1340.0,1818.9 1341.0,1816.2 1342.0,1813.4 1343.0,1813.8 1344.0,1814.2 1345.0,1813.6 1346.0,1812.9 1347.0,1812.6 1348.0,1812.3 1349.0,1812.8 1350.0,1813.4 1351.0,1816.2 1352.0,1819.1 1353.0,1816.5 1354.0,1814.0 1355.0,1814.6 1356.0,1815.2 1357.0,1816.6 1358.0,1817.9 1359.0,1820.3 1360.0,1822.5 1361.0,1820.2 1362.0,1817.9 1363.0,1818.6 1364.0,1819.3 1365.0,1817.9 1366.0,1816.4 1367.0,1817.0 1368.0,1817.6 1369.0,1817.7 1370.0,1817.6 1371.0,1816.5 1372.0,1815.3 1373.0,1815.2 1374.0,1815.2 1375.0,1818.0 1376.0,1820.8 1377.0,1817.6 1378.0,1814.5 1379.0,1815.4 1380.0,1816.3 1381.0,1815.5 1382.0,1814.7 1383.0,1815.9 1384.0,1817.1 1385.0,1818.4 1386.0,1819.7 1387.0,1817.5 1388.0,1815.4 1389.0,1816.2 1390.0,1817.0 1391.0,1815.7 1392.0,1814.3 1393.0,1816.2 1394.0,1818.0 1395.0,1818.7 1396.0,1819.3 1397.0,1819.3 1398.0,1819.3 1399.0,1820.0 1400.0,1820.8 1401.0,1819.3 1402.0,1817.7 1403.0,1816.6 1404.0,1815.4 1405.0,1816.9 1406.0,1818.3 1407.0,1817.0 1408.0,1815.7 1409.0,1818.3 1410.0,1820.9 1411.0,1821.3 1412.0,1821.6 1413.0,1818.1 1414.0,1814.5 1415.0,1814.5 1416.0,1814.3 1417.0,1816.1 1418.0,1817.7 1419.0,1816.2 1420.0,1814.7 1421.0,1810.4 1422.0,1806.2 1423.0,1807.0 1424.0,1808.0 1425.0,1806.3 1426.0,1805.0 1427.0,1806.0 1428.0,1807.3 1429.0,1809.0 1430.0,1810.9 1431.0,1812.3 1432.0,1813.8 1433.0,1814.1 1434.0,1814.5 1435.0,1816.2 1436.0,1817.9 1437.0,1819.1 1438.0,1820.2 1439.0,1819.6 1440.0,1819.0 1441.0,1818.5 1442.0,1817.9 1443.0,1819.8 1444.0,1821.5 1445.0,1818.8 1446.0,1816.2 1447.0,1816.2 1448.0,1816.2 1449.0,1815.8 1450.0,1815.4 1451.0,1814.1 1452.0,1812.9 1453.0,1814.7 1454.0,1816.5 1455.0,1815.4 1456.0,1814.3 1457.0,1815.8 1458.0,1817.4 1459.0,1814.6 1460.0,1811.9 1461.0,1814.3 1462.0,1816.7 1463.0,1818.3 1464.0,1820.0 1465.0,1819.0 1466.0,1818.0 1467.0,1817.0 1468.0,1816.0 1469.0,1816.7 1470.0,1817.4 1471.0,1817.8 1472.0,1818.2 1473.0,1817.2 1474.0,1816.3 1475.0,1815.2 1476.0,1814.1 1477.0,1814.4 1478.0,1814.5 1479.0,1815.0 1480.0,1815.3 1481.0,1815.5 1482.0,1815.8 1483.0,1813.2 1484.0,1810.8 1485.0,1812.1 1486.0,1813.6 1487.0,1813.7 1488.0,1813.9 1489.0,1816.6 1490.0,1819.2 1491.0,1817.9 1492.0,1816.5 1493.0,1817.5 1494.0,1818.3 1495.0,1818.8 1496.0,1819.2 1497.0,1818.7 1498.0,1818.3 1499.0,1815.5 1500.0,1812.8 1501.0,1814.8 1502.0,1816.9 1503.0,1818.1 1504.0,1819.4 1505.0,1817.2 1506.0,1815.0 1507.0,1815.2 1508.0,1815.5 1509.0,1816.6 1510.0,1817.7 1511.0,1819.9 1512.0,1822.1 1513.0,1819.1 1514.0,1816.0 1515.0,1814.8 1516.0,1813.5 1517.0,1815.1 1518.0,1816.7 1519.0,1816.2 1520.0,1815.7 1521.0,1815.6 1522.0,1815.5 1523.0,1814.1 1524.0,1812.7 1525.0,1813.8 1526.0,1815.0 1527.0,1815.4 1528.0,1815.9 1529.0,1815.4 1530.0,1815.0 1531.0,1814.1 1532.0,1813.3 1533.0,1815.3 1534.0,1817.3 1535.0,1818.8 1536.0,1820.4 1537.0,1821.6 1538.0,1822.7 1539.0,1820.4 1540.0,1818.1 1541.0,1819.4 1542.0,1820.7 1543.0,1820.0 1544.0,1819.3 1545.0,1820.4 1546.0,1821.6 1547.0,1821.6 1548.0,1821.7 1549.0,1822.4 1550.0,1823.0 1551.0,1820.6 1552.0,1818.1 1553.0,1817.4 1554.0,1816.6 1555.0,1817.5 1556.0,1818.4 1557.0,1816.6 1558.0,1814.8 1559.0,1816.0 1560.0,1817.2 1561.0,1816.8 1562.0,1816.5 1563.0,1817.3 1564.0,1817.9 1565.0,1817.5 1566.0,1817.0 1567.0,1816.6 1568.0,1816.3 1569.0,1818.1 1570.0,1819.9 1571.0,1818.4 1572.0,1816.8 1573.0,1817.3 1574.0,1817.7 1575.0,1818.1 1576.0,1818.4 1577.0,1817.9 1578.0,1817.4" stroke="#2E5F9E" stroke-width="7.5"/>
<path d="M162.0,1856.2 162.9,1855.2 163.8,1854.4 164.7,1853.8 165.6,1853.3 166.5,1853.5 167.4,1853.7 168.3,1853.2 169.2,1852.6 170.1,1853.0 171.0,1853.1 171.9,1854.9 172.8,1856.7 173.7,1855.8 174.6,1854.9 175.5,1852.9 176.4,1850.8 177.3,1846.9 178.2,1843.3 179.1,1844.1 180.0,1844.9 180.9,1849.3 181.8,1853.7 182.7,1854.2 183.6,1854.8 184.5,1853.9 185.4,1853.0 186.3,1856.1 187.2,1859.3 188.1,1857.8 189.0,1856.4 189.9,1862.4 190.8,1868.4 191.7,1864.3 192.6,1860.2 193.5,1863.4 194.4,1866.6 195.3,1865.9 196.2,1865.2 197.1,1867.3 198.0,1869.4 198.9,1872.0 199.8,1874.8 200.7,1876.6 201.6,1878.4 202.5,1879.3 203.4,1880.3 204.3,1881.1 205.2,1881.5 206.1,1878.3 207.0,1875.0 207.9,1878.3 208.8,1881.6 209.7,1877.6 210.6,1873.7 211.5,1875.8 212.4,1877.9 213.3,1876.7 214.2,1875.4 215.1,1879.7 216.0,1884.0 216.9,1883.7 217.8,1883.3 218.7,1877.5 219.6,1871.6 220.5,1872.2 221.4,1872.8 222.3,1872.1 223.2,1871.5 224.1,1872.5 225.0,1873.6 225.9,1874.4 226.8,1875.2 227.7,1875.6 228.6,1876.1 229.5,1872.3 230.4,1868.5 231.3,1871.4 232.2,1874.2 233.1,1875.1 234.0,1876.1 234.9,1876.4 235.8,1876.7 236.7,1880.8 237.6,1885.0 238.5,1886.7 239.4,1888.5 240.3,1891.1 241.2,1891.9 242.1,1889.8 243.0,1887.8 243.9,1889.4 244.8,1891.0 245.7,1891.4 246.6,1891.9 247.5,1891.1 248.4,1890.2 249.3,1891.4 250.2,1892.6 251.1,1890.4 252.0,1888.2 252.9,1889.0 253.8,1889.9 254.7,1889.8 255.6,1889.7 256.5,1891.0 257.4,1892.4 258.3,1889.0 259.2,1885.5 260.1,1890.9 261.0,1896.2 261.9,1893.7 262.8,1891.2 263.7,1889.4 264.6,1887.6 265.5,1889.2 266.4,1890.7 267.3,1894.2 268.2,1897.6 269.1,1894.4 270.0,1891.2 270.9,1891.1 271.8,1890.8 272.7,1890.7 273.6,1890.5 274.5,1891.3 275.4,1892.1 276.3,1893.1 277.2,1894.1 278.1,1893.2 279.0,1892.5 279.9,1892.3 280.8,1892.1 281.7,1890.6 282.6,1889.1 283.5,1889.8 284.4,1890.4 285.3,1889.5 286.2,1888.5 287.1,1888.5 288.0,1888.4 288.9,1887.4 289.8,1886.2 290.7,1886.7 291.6,1887.0 292.5,1890.1 293.4,1893.2 294.3,1890.7 295.2,1888.4 296.1,1887.8 297.0,1887.3 297.9,1886.0 298.8,1884.8 299.7,1885.9 300.6,1887.1 301.5,1886.0 302.4,1884.9 303.3,1884.0 304.2,1882.9 305.1,1886.9 306.0,1890.9 306.9,1890.3 307.8,1889.7 308.7,1890.8 309.6,1891.8 310.5,1887.7 311.4,1884.0 312.3,1888.0 313.2,1892.0 314.1,1892.1 315.0,1892.3 315.9,1894.9 316.8,1897.6 317.7,1894.0 318.6,1890.3 319.5,1893.1 320.4,1895.8 321.3,1896.0 322.2,1896.1 323.1,1898.7 324.0,1901.2 324.9,1903.1 325.8,1904.2 326.7,1905.7 327.6,1907.2 328.5,1906.0 329.4,1904.7 330.3,1904.6 331.2,1904.4 332.1,1904.5 333.0,1904.5 333.9,1902.1 334.8,1899.7 335.7,1901.0 336.6,1902.4 337.5,1904.2 338.4,1906.1 339.3,1901.7 340.2,1897.3 341.1,1896.9 342.0,1896.4 342.9,1900.0 343.8,1903.4 344.7,1900.2 345.6,1896.9 346.5,1896.1 347.4,1895.2 348.3,1896.5 349.2,1897.8 350.1,1897.5 351.0,1897.5 351.9,1899.0 352.8,1900.6 353.7,1896.8 354.6,1893.1 355.5,1894.6 356.4,1896.1 357.3,1896.6 358.2,1896.9 359.1,1898.3 360.0,1899.4 360.9,1900.9 361.8,1902.4 362.7,1899.5 363.6,1896.5 364.5,1901.1 365.4,1905.6 366.3,1904.7 367.2,1903.7 368.1,1900.6 369.0,1897.5 369.9,1903.9 370.8,1910.2 371.7,1908.6 372.6,1906.9 373.5,1903.3 374.4,1899.7 375.3,1901.0 376.2,1902.3 377.1,1898.3 378.0,1894.4 378.9,1900.9 379.8,1907.3 380.7,1902.5 381.6,1897.4 382.5,1894.9 383.4,1892.4 384.3,1893.2 385.2,1894.0 386.1,1890.7 387.0,1887.4 387.9,1888.2 388.8,1890.6 389.7,1892.7 390.6,1894.9 391.5,1898.0 392.4,1901.1 393.3,1901.0 394.2,1901.0 395.1,1900.5 396.0,1900.0 396.9,1902.9 397.8,1905.8 398.7,1904.1 399.6,1902.3 400.5,1902.4 401.4,1902.2 402.3,1904.3 403.2,1906.5 404.1,1904.4 405.0,1902.5 405.9,1902.3 406.8,1902.2 407.7,1905.4 408.6,1908.7 409.5,1907.1 410.4,1905.6 411.3,1907.6 412.2,1909.5 413.1,1909.0 414.0,1908.5 414.9,1907.6 415.8,1906.8 416.7,1909.8 417.6,1912.9 418.5,1911.5 419.4,1910.2 420.3,1912.3 421.2,1914.4 422.1,1912.4 423.0,1910.3 423.9,1912.1 424.8,1913.9 425.7,1914.4 426.6,1915.1 427.5,1913.3 428.4,1911.6 429.3,1912.9 430.2,1914.2 431.1,1914.6 432.0,1915.0 432.9,1913.9 433.8,1912.8 434.7,1914.5 435.6,1916.1 436.5,1915.8 437.4,1915.6 438.3,1914.7 439.2,1913.9 440.1,1915.4 441.0,1917.0 441.9,1918.5 442.8,1919.8 443.7,1917.4 444.6,1914.8 445.5,1915.4 446.4,1916.1 447.3,1914.1 448.2,1912.2 449.1,1912.7 450.0,1913.3 450.9,1914.4 451.8,1915.7 452.7,1916.0 453.6,1916.4 454.5,1917.7 455.4,1919.0 456.3,1921.1 457.2,1923.1 458.1,1926.5 459.0,1929.8 459.9,1926.8 460.8,1923.9 461.7,1923.8 462.6,1923.8 463.5,1922.6 464.4,1921.4 465.3,1925.0 466.2,1928.5 467.1,1924.1 468.0,1919.7 468.9,1920.5 469.8,1921.3 470.7,1923.4 471.6,1925.5 472.5,1927.5 473.4,1929.5 474.3,1933.8 475.2,1937.9 476.1,1933.9 477.0,1929.9 477.9,1928.9 478.8,1927.8 479.7,1924.0 480.6,1920.2 481.5,1925.1 482.4,1930.0 483.3,1926.0 484.2,1922.0 485.1,1921.8 486.0,1921.7 486.9,1922.8 487.8,1924.0 488.7,1926.5 489.6,1929.1 490.5,1925.7 491.4,1922.2 492.3,1921.2 493.2,1920.1 494.1,1922.6 495.0,1924.9 495.9,1924.6 496.8,1924.2 497.7,1927.0 498.6,1929.7 499.5,1926.2 500.4,1922.8 501.3,1921.6 502.2,1920.5 503.1,1922.8 504.0,1925.1 504.9,1922.5 505.8,1919.8 506.7,1921.8 507.6,1923.7 508.5,1925.0 509.4,1926.3 510.3,1926.2 511.2,1926.1 512.1,1926.2 513.0,1926.3 513.9,1926.7 514.8,1927.1 515.7,1923.6 516.6,1920.0 517.5,1919.5 518.4,1919.0 519.3,1923.4 520.2,1927.8 521.1,1923.3 522.0,1918.7 522.9,1924.5 523.8,1930.1 524.7,1928.3 525.6,1926.5 526.5,1926.7 527.4,1926.8 528.3,1928.7 529.2,1930.6 530.1,1928.4 531.0,1926.3 531.9,1928.8 532.8,1931.3 533.7,1930.1 534.6,1929.0 535.5,1928.9 536.4,1928.9 537.3,1929.4 538.2,1929.9 539.1,1926.8 540.0,1923.7 540.9,1924.6 541.8,1925.5 542.7,1927.2 543.6,1929.0 544.5,1927.5 545.4,1926.0 546.3,1927.7 547.2,1929.4 548.1,1931.4 549.0,1933.4 549.9,1931.1 550.8,1928.7 551.7,1926.4 552.6,1924.1 553.5,1928.0 554.4,1931.8 555.3,1929.7 556.2,1927.5 557.1,1930.9 558.0,1934.2 558.9,1933.1 559.8,1931.9 560.7,1929.1 561.6,1926.2 562.5,1926.1 563.4,1925.9 564.3,1927.3 565.2,1928.8 566.1,1928.7 567.0,1928.8 567.9,1925.1 568.8,1921.4 569.7,1922.1 570.6,1922.7 571.5,1923.7 572.4,1924.7 573.3,1925.6 574.2,1926.6 575.1,1926.0 576.0,1925.4 576.9,1923.7 577.8,1922.2 578.7,1921.3 579.6,1920.5 580.5,1925.1 581.4,1929.8 582.3,1927.5 583.2,1925.2 584.1,1923.7 585.0,1922.1 585.9,1923.8 586.8,1925.4 587.7,1923.0 588.6,1920.5 589.5,1922.3 590.4,1924.3 591.3,1926.1 592.2,1927.9 593.1,1926.4 594.0,1924.9 594.9,1925.9 595.8,1926.8 596.7,1927.2 597.6,1927.6 598.5,1928.2 599.4,1928.9 600.3,1926.3 601.2,1923.7 602.1,1925.5 603.0,1927.3 603.9,1926.5 604.8,1926.0 605.7,1929.5 606.6,1933.2 607.5,1933.2 608.4,1933.2 609.3,1931.7 610.2,1930.0 611.1,1934.1 612.0,1938.0 612.9,1935.3 613.8,1932.5 614.7,1931.3 615.6,1929.9 616.5,1930.8 617.4,1931.7 618.3,1933.0 619.2,1934.2 620.1,1932.2 621.0,1930.2 621.9,1931.3 622.8,1932.4 623.7,1934.9 624.6,1937.4 625.5,1934.7 626.4,1932.0 627.3,1932.5 628.2,1933.1 629.1,1933.1 630.0,1933.2 630.9,1934.0 631.8,1934.8 632.7,1934.7 633.6,1934.7 634.5,1936.2 635.4,1937.7 636.3,1936.7 637.2,1935.8 638.1,1936.0 639.0,1936.1 639.9,1936.7 640.8,1937.3 641.7,1936.0 642.6,1934.6 643.5,1933.6 644.4,1932.5 645.3,1930.6 646.2,1928.7 647.1,1931.7 648.0,1934.7 648.9,1935.1 649.8,1935.5 650.7,1934.3 651.6,1933.2 652.5,1931.6 653.4,1930.0 654.3,1931.8 655.2,1933.6 656.1,1933.2 657.0,1932.9 657.9,1937.6 658.8,1942.3 659.7,1939.9 660.6,1937.3 661.5,1935.0 662.4,1932.6 663.3,1935.7 664.2,1938.9 665.1,1937.4 666.0,1935.9 666.9,1933.1 667.8,1930.4 668.7,1933.4 669.6,1936.5 670.5,1934.9 671.4,1933.2 672.3,1935.2 673.2,1937.1 674.1,1940.2 675.0,1943.2 675.9,1942.7 676.8,1942.2 677.7,1938.3 678.6,1934.3 679.5,1938.4 680.4,1942.5 681.3,1938.4 682.2,1934.3 683.1,1934.8 684.0,1935.4 684.9,1936.9 685.8,1938.5 686.7,1935.7 687.6,1933.0 688.5,1936.0 689.4,1939.1 690.3,1938.2 691.2,1937.4 692.1,1939.3 693.0,1941.2 693.9,1938.5 694.8,1935.6 695.7,1936.3 696.6,1936.9 697.5,1935.7 698.4,1934.5 699.3,1933.8 700.2,1933.2 701.1,1933.7 702.0,1934.3 702.9,1934.9 703.8,1935.5 704.7,1936.5 705.6,1937.4 706.5,1935.3 707.4,1933.2 708.3,1933.8 709.2,1934.4 710.1,1931.8 711.0,1929.1 711.9,1932.3 712.8,1935.5 713.7,1934.5 714.6,1933.7 715.5,1934.2 716.4,1934.8 717.3,1937.3 718.2,1939.8 719.1,1940.4 720.0,1940.9 720.9,1936.7 721.8,1932.5 722.7,1934.4 723.6,1936.2 724.5,1934.6 725.4,1933.0 726.3,1934.7 727.2,1936.4 728.1,1933.8 729.0,1931.3 729.9,1929.7 730.8,1928.2 731.7,1929.2 732.6,1930.2 733.5,1933.6 734.4,1937.1 735.3,1936.5 736.2,1936.3 737.1,1937.8 738.0,1939.4 738.9,1937.6 739.8,1935.8 740.7,1937.5 741.6,1939.1 742.5,1941.0 743.4,1942.9 744.3,1940.5 745.2,1938.0 746.1,1940.0 747.0,1941.8 747.9,1943.9 748.8,1945.9 749.7,1944.2 750.6,1942.5 751.5,1945.1 752.4,1947.8 753.3,1945.7 754.2,1943.3 755.1,1943.7 756.0,1944.2 756.9,1944.6 757.8,1945.0 758.7,1944.3 759.6,1943.6 760.5,1943.3 761.4,1943.1 762.3,1940.4 763.2,1937.7 764.1,1939.5 765.0,1941.3 765.9,1944.7 766.8,1948.0 767.7,1946.2 768.6,1944.4 769.5,1942.5 770.4,1940.6 771.3,1939.4 772.2,1938.3 773.1,1941.4 774.0,1944.6 774.9,1942.7 775.8,1940.7 776.7,1940.5 777.6,1940.4 778.5,1941.7 779.4,1943.0 780.3,1942.8 781.2,1942.6 782.1,1942.1 783.0,1941.7 783.9,1942.6 784.8,1943.6 785.7,1944.5 786.6,1945.4 787.5,1942.2 788.4,1939.1 789.3,1943.0 790.2,1946.8 791.1,1946.9 792.0,1947.0 792.9,1946.4 793.8,1945.7 794.7,1942.9 795.6,1940.0 796.5,1942.1 797.4,1944.1 798.3,1944.2 799.2,1944.3 800.1,1942.1 801.0,1939.8 801.9,1939.6 802.8,1939.3 803.7,1940.1 804.6,1941.0 805.5,1941.5 806.4,1942.0 807.3,1941.5 808.2,1941.0 809.1,1940.2 810.0,1939.5 810.9,1939.0 811.8,1938.7 812.7,1938.6 813.6,1938.6 814.5,1941.5 815.4,1944.4 816.3,1946.2 817.2,1948.0 818.1,1945.8 819.0,1943.4 819.9,1946.1 820.8,1948.8 821.7,1950.0 822.6,1951.3 823.5,1949.2 824.4,1947.1 825.3,1948.1 826.2,1949.2 827.1,1948.0 828.0,1946.8 828.9,1945.6 829.8,1944.4 830.7,1944.1 831.6,1943.8 832.5,1944.2 833.4,1944.5 834.3,1943.7 835.2,1942.9 836.1,1943.2 837.0,1943.5 837.9,1942.4 838.8,1941.3 839.7,1943.1 840.6,1944.8 841.5,1944.3 842.4,1943.9 843.3,1946.3 844.2,1948.6 845.1,1948.4 846.0,1948.2 846.9,1950.3 847.8,1952.5 848.7,1947.3 849.6,1942.1 850.5,1944.4 851.4,1946.8 852.3,1946.8 853.2,1946.8 854.1,1947.2 855.0,1947.7 855.9,1945.7 856.8,1943.6 857.7,1942.7 858.6,1941.7 859.5,1943.0 860.4,1944.2 861.3,1947.7 862.2,1951.3 863.1,1950.2 864.0,1949.3 864.9,1946.8 865.8,1944.4 866.7,1944.0 867.6,1943.6 868.5,1943.8 869.4,1944.0 870.3,1944.4 871.2,1944.8 872.1,1942.6 873.0,1940.3 873.9,1942.9 874.8,1945.4 875.7,1943.1 876.6,1940.8 877.5,1941.2 878.4,1941.5 879.3,1943.5 880.2,1945.5 881.1,1945.0 882.0,1944.4 882.9,1941.9 883.8,1939.3 884.7,1938.0 885.6,1936.7 886.5,1939.5 887.4,1942.4 888.3,1941.9 889.2,1941.5 890.1,1937.6 891.0,1933.7 891.9,1933.6 892.8,1933.6 893.7,1935.7 894.6,1937.7 895.5,1939.3 896.4,1940.8 897.3,1940.0 898.2,1939.2 899.1,1939.2 900.0,1939.0 900.9,1938.8 901.8,1938.5 902.7,1938.7 903.6,1938.8 904.5,1939.9 905.4,1941.0 906.3,1940.1 907.2,1939.2 908.1,1940.2 909.0,1941.1 909.9,1938.8 910.8,1936.6 911.7,1939.0 912.6,1941.4 913.5,1940.2 914.4,1939.1 915.3,1940.4 916.2,1941.6 917.1,1939.9 918.0,1938.1 918.9,1938.2 919.8,1938.2 920.7,1937.1 921.6,1936.0 922.5,1937.8 923.4,1939.6 924.3,1939.7 925.2,1939.9 926.1,1938.4 927.0,1937.0 927.9,1937.3 928.8,1937.6 929.7,1937.5 930.6,1937.4 931.5,1938.7 932.4,1939.9 933.3,1939.1 934.2,1938.3 935.1,1937.0 936.0,1935.6 936.9,1935.2 937.8,1934.7 938.7,1936.5 939.6,1938.1 940.5,1938.8 941.4,1939.4 942.3,1939.9 943.2,1940.4 944.1,1938.0 945.0,1935.7 945.9,1937.4 946.8,1939.2 947.7,1939.3 948.6,1939.5 949.5,1939.7 950.4,1939.9 951.3,1939.9 952.2,1939.8 953.1,1940.7 954.0,1941.4 954.9,1941.3 955.8,1941.1 956.7,1941.8 957.6,1942.4 958.5,1941.8 959.4,1941.1 960.3,1941.0 961.2,1941.0 962.1,1941.8 963.0,1942.7 963.9,1944.8 964.8,1946.9 965.7,1946.2 966.6,1945.6 967.5,1944.1 968.4,1942.6 969.3,1943.5 970.2,1944.3 971.1,1941.6 972.0,1938.8 972.9,1940.7 973.8,1942.6 974.7,1940.1 975.6,1937.5 976.5,1938.6 977.4,1939.8 978.3,1938.3 979.2,1936.8 980.1,1939.2 981.0,1941.7 981.9,1943.6 982.8,1945.6 983.7,1943.7 984.6,1941.7 985.5,1942.6 986.4,1943.4 987.3,1944.6 988.2,1945.8 989.1,1945.7 990.0,1945.6 990.9,1943.4 991.8,1941.2 992.7,1941.4 993.6,1941.5 994.5,1941.9 995.4,1942.3 996.3,1941.8 997.2,1941.4 998.1,1941.7 999.0,1942.0 999.9,1939.9 1000.8,1938.0 1001.7,1941.0 1002.6,1944.0 1003.5,1942.5 1004.4,1941.1 1005.3,1940.8 1006.2,1940.5 1007.1,1941.9 1008.0,1943.2 1008.9,1944.3 1009.8,1945.4 1010.7,1944.9 1011.6,1944.5 1012.5,1943.1 1013.4,1941.7 1014.3,1945.2 1015.2,1948.7 1016.1,1948.2 1017.0,1947.6 1017.9,1946.7 1018.8,1945.7 1019.7,1946.7 1020.6,1947.7 1021.5,1945.1 1022.4,1942.6 1023.3,1943.3 1024.2,1943.9 1025.1,1945.3 1026.0,1946.7 1026.9,1944.2 1027.8,1941.7 1028.7,1942.8 1029.6,1943.8 1030.5,1945.3 1031.4,1946.7 1032.3,1945.2 1033.2,1943.7 1034.1,1946.8 1035.0,1950.0 1035.9,1945.6 1036.8,1941.2 1037.7,1943.2 1038.6,1945.3 1039.5,1946.3 1040.4,1947.4 1041.3,1945.0 1042.2,1942.5 1043.1,1945.8 1044.0,1949.0 1044.9,1947.7 1045.8,1946.5 1046.7,1947.7 1047.6,1949.0 1048.5,1947.2 1049.4,1945.3 1050.3,1945.8 1051.2,1946.4 1052.1,1945.4 1053.0,1944.3 1053.9,1945.4 1054.8,1946.5 1055.7,1949.8 1056.6,1953.0 1057.5,1951.9 1058.4,1950.7 1059.3,1949.7 1060.2,1948.7 1061.1,1946.9 1062.0,1945.1 1062.9,1947.3 1063.8,1949.4 1064.7,1948.5 1065.6,1947.7 1066.5,1944.7 1067.4,1941.7 1068.3,1945.3 1069.2,1948.9 1070.1,1946.6 1071.0,1944.4 1071.9,1944.4 1072.8,1944.5 1073.7,1946.6 1074.6,1948.7 1075.5,1949.0 1076.4,1949.3 1077.3,1951.1 1078.2,1952.7 1079.1,1949.7 1080.0,1946.6 1080.9,1947.7 1081.8,1948.9 1082.7,1947.6 1083.6,1946.3 1084.5,1947.1 1085.4,1947.8 1086.3,1948.9 1087.2,1950.0 1088.1,1950.9 1089.0,1951.7 1089.9,1953.3 1090.8,1954.8 1091.7,1952.1 1092.6,1949.4 1093.5,1949.8 1094.4,1950.2 1095.3,1951.0 1096.2,1951.9 1097.1,1948.9 1098.0,1946.0 1098.9,1946.0 1099.8,1946.0 1100.7,1947.5 1101.6,1948.9 1102.5,1949.3 1103.4,1949.7 1104.3,1949.1 1105.2,1948.6 1106.1,1947.6 1107.0,1946.6 1107.9,1948.4 1108.8,1950.2 1109.7,1949.5 1110.6,1948.8 1111.5,1950.3 1112.4,1951.8 1113.3,1950.2 1114.2,1948.6 1115.1,1949.1 1116.0,1949.7 1116.9,1949.0 1117.8,1948.3 1118.7,1948.7 1119.6,1949.1 1120.5,1948.7 1121.4,1948.4 1122.3,1947.3 1123.2,1946.2 1124.1,1946.8 1125.0,1947.4 1125.9,1949.4 1126.8,1951.4 1127.7,1949.3 1128.6,1947.3 1129.5,1947.9 1130.4,1948.5 1131.3,1948.5 1132.2,1948.4 1133.1,1949.6 1134.0,1950.7 1134.9,1950.5 1135.8,1950.3 1136.7,1947.5 1137.6,1944.6 1138.5,1947.6 1139.4,1950.5 1140.3,1949.1 1141.2,1947.7 1142.1,1948.6 1143.0,1949.5 1143.9,1950.9 1144.8,1952.2 1145.7,1951.9 1146.6,1951.5 1147.5,1949.3 1148.4,1947.0 1149.3,1947.2 1150.2,1947.4 1151.1,1948.5 1152.0,1949.6 1152.9,1946.2 1153.8,1942.9 1154.7,1945.4 1155.6,1948.0 1156.5,1947.9 1157.4,1947.8 1158.3,1948.1 1159.2,1948.4 1160.1,1947.9 1161.0,1947.4 1161.9,1947.4 1162.8,1947.4 1163.7,1949.3 1164.6,1951.1 1165.5,1950.0 1166.4,1948.9 1167.3,1951.3 1168.2,1953.8 1169.1,1950.7 1170.0,1947.6 1170.9,1947.2 1171.8,1946.7 1172.7,1945.9 1173.6,1945.1 1174.5,1946.5 1175.4,1947.9 1176.3,1947.0 1177.2,1946.1 1178.1,1946.2 1179.0,1946.4 1179.9,1945.4 1180.8,1944.5 1181.7,1946.7 1182.6,1949.0 1183.5,1950.4 1184.4,1951.8 1185.3,1951.4 1186.2,1951.0 1187.1,1949.7 1188.0,1948.4 1188.9,1948.8 1189.8,1949.3 1190.7,1951.4 1191.6,1953.4 1192.5,1951.2 1193.4,1948.9 1194.3,1949.9 1195.2,1951.0 1196.1,1948.8 1197.0,1946.7 1197.9,1948.2 1198.8,1949.6 1199.7,1947.6 1200.6,1945.6 1201.5,1947.8 1202.4,1950.1 1203.3,1947.7 1204.2,1945.3 1205.1,1947.0 1206.0,1948.8 1206.9,1947.5 1207.8,1946.3 1208.7,1947.4 1209.6,1948.5 1210.5,1949.2 1211.4,1949.8 1212.3,1948.2 1213.2,1946.6 1214.1,1947.3 1215.0,1947.9 1215.9,1948.6 1216.8,1949.3 1217.7,1948.8 1218.6,1948.4 1219.5,1948.2 1220.4,1948.0 1221.3,1949.0 1222.2,1950.1 1223.1,1951.0 1224.0,1951.9 1224.9,1951.4 1225.8,1950.7 1226.7,1951.0 1227.6,1951.1 1228.5,1950.7 1229.4,1950.2 1230.3,1950.5 1231.2,1950.8 1232.1,1948.2 1233.0,1945.8 1233.9,1947.3 1234.8,1949.0 1235.7,1948.5 1236.6,1948.1 1237.5,1949.5 1238.4,1950.9 1239.3,1949.6 1240.2,1948.3 1241.1,1949.6 1242.0,1950.8 1242.9,1950.3 1243.8,1949.8 1244.7,1950.2 1245.6,1950.6 1246.5,1952.1 1247.4,1953.6 1248.3,1954.2 1249.2,1954.9 1250.1,1952.2 1251.0,1949.6 1251.9,1949.6 1252.8,1949.6 1253.7,1949.6 1254.6,1949.5 1255.5,1949.0 1256.4,1948.5 1257.3,1949.4 1258.2,1950.3 1259.1,1949.5 1260.0,1948.8 1260.9,1950.4 1261.8,1952.1 1262.7,1952.9 1263.6,1953.8 1264.5,1951.2 1265.4,1948.5 1266.3,1947.7 1267.2,1946.8 1268.1,1947.1 1269.0,1947.2 1269.9,1948.5 1270.8,1949.7 1271.7,1950.1 1272.6,1950.6 1273.5,1949.9 1274.4,1949.3 1275.3,1948.2 1276.2,1947.1 1277.1,1948.2 1278.0,1949.3 1278.9,1947.9 1279.8,1946.6 1280.7,1948.0 1281.6,1949.5 1282.5,1948.6 1283.4,1947.6 1284.3,1948.2 1285.2,1948.8 1286.1,1949.0 1287.0,1949.2 1287.9,1948.7 1288.8,1948.1 1289.7,1948.1 1290.6,1948.0 1291.5,1947.3 1292.4,1946.7 1293.3,1945.6 1294.2,1944.5 1295.1,1946.0 1296.0,1947.5 1296.9,1947.2 1297.8,1946.9 1298.7,1949.1 1299.6,1951.4 1300.5,1948.2 1301.4,1945.1 1302.3,1947.5 1303.2,1949.9 1304.1,1950.5 1305.0,1951.2 1305.9,1951.1 1306.8,1951.1 1307.7,1950.6 1308.6,1950.1 1309.5,1948.9 1310.4,1947.7 1311.3,1947.8 1312.2,1947.9 1313.1,1948.6 1314.0,1949.3 1314.9,1949.3 1315.8,1949.2 1316.7,1948.4 1317.6,1947.5 1318.5,1948.2 1319.4,1948.9 1320.3,1946.7 1321.2,1944.6 1322.1,1946.9 1323.0,1949.3 1323.9,1948.9 1324.8,1948.6 1325.7,1948.5 1326.6,1948.5 1327.5,1948.6 1328.4,1948.7 1329.3,1948.5 1330.2,1948.2 1331.1,1950.5 1332.0,1952.7 1332.9,1950.5 1333.8,1948.3 1334.7,1948.9 1335.6,1949.6 1336.5,1948.8 1337.4,1948.0 1338.3,1948.3 1339.2,1948.6 1340.1,1947.6 1341.0,1946.6 1341.9,1949.6 1342.8,1952.6 1343.7,1951.2 1344.6,1949.7 1345.5,1949.3 1346.4,1948.8 1347.3,1948.0 1348.2,1947.3 1349.1,1945.8 1350.0,1944.3 1350.9,1945.3 1351.8,1946.4 1352.7,1947.1 1353.6,1947.8 1354.5,1947.9 1355.4,1948.0 1356.3,1948.8 1357.2,1949.5 1358.1,1949.2 1359.0,1948.8 1359.9,1948.7 1360.8,1948.6 1361.7,1948.2 1362.6,1947.9 1363.5,1948.3 1364.4,1948.8 1365.3,1948.5 1366.2,1948.1 1367.1,1947.2 1368.0,1946.2 1368.9,1947.7 1369.8,1949.1 1370.7,1948.3 1371.6,1947.5 1372.5,1947.2 1373.4,1946.9 1374.3,1946.5 1375.2,1946.1 1376.1,1948.5 1377.0,1950.9 1377.9,1948.7 1378.8,1946.6 1379.7,1947.5 1380.6,1948.4 1381.5,1949.1 1382.4,1949.9 1383.3,1949.2 1384.2,1948.5 1385.1,1949.2 1386.0,1949.8 1386.9,1949.7 1387.8,1949.6 1388.7,1950.4 1389.6,1951.2 1390.5,1948.9 1391.4,1946.5 1392.3,1947.1 1393.2,1947.6 1394.1,1948.5 1395.0,1949.5 1395.9,1948.0 1396.8,1946.3 1397.7,1948.7 1398.6,1950.9 1399.5,1949.2 1400.4,1947.6 1401.3,1948.9 1402.2,1950.2 1403.1,1949.7 1404.0,1949.3 1404.9,1948.2 1405.8,1947.1 1406.7,1949.5 1407.6,1951.9 1408.5,1950.4 1409.4,1948.9 1410.3,1948.0 1411.2,1947.1 1412.1,1948.1 1413.0,1949.0 1413.9,1947.8 1414.8,1946.5 1415.7,1945.9 1416.6,1945.2 1417.5,1946.8 1418.4,1948.4 1419.3,1948.4 1420.2,1948.4 1421.1,1947.2 1422.0,1946.0 1422.9,1947.5 1423.8,1949.0 1424.7,1947.8 1425.6,1946.6 1426.5,1947.1 1427.4,1947.7 1428.3,1948.7 1429.2,1949.6 1430.1,1950.0 1431.0,1950.3 1431.9,1950.0 1432.8,1949.6 1433.7,1949.3 1434.6,1949.1 1435.5,1947.3 1436.4,1945.5 1437.3,1946.8 1438.2,1948.0 1439.1,1947.9 1440.0,1947.7 1440.9,1949.6 1441.8,1951.5 1442.7,1950.6 1443.6,1949.7 1444.5,1949.7 1445.4,1949.8 1446.3,1950.0 1447.2,1950.3 1448.1,1949.0 1449.0,1947.7 1449.9,1948.5 1450.8,1949.4 1451.7,1949.5 1452.6,1949.5 1453.5,1948.3 1454.4,1947.1 1455.3,1948.2 1456.2,1949.2 1457.1,1948.1 1458.0,1947.0 1458.9,1947.9 1459.8,1948.8 1460.7,1947.3 1461.6,1945.8 1462.5,1947.7 1463.4,1949.5 1464.3,1949.8 1465.2,1950.2 1466.1,1949.5 1467.0,1948.8 1467.9,1949.0 1468.8,1949.1 1469.7,1947.5 1470.6,1945.9 1471.5,1947.6 1472.4,1949.3 1473.3,1947.4 1474.2,1945.6 1475.1,1946.9 1476.0,1948.2 1476.9,1947.2 1477.8,1946.2 1478.7,1946.5 1479.6,1946.8 1480.5,1947.2 1481.4,1947.7 1482.3,1948.0 1483.2,1948.3 1484.1,1948.6 1485.0,1948.9 1485.9,1947.8 1486.8,1946.6 1487.7,1946.4 1488.6,1946.3 1489.5,1945.4 1490.4,1944.6 1491.3,1944.9 1492.2,1945.2 1493.1,1945.6 1494.0,1946.0 1494.9,1946.9 1495.8,1947.8 1496.7,1948.5 1497.6,1949.3 1498.5,1948.9 1499.4,1948.4 1500.3,1947.8 1501.2,1947.2 1502.1,1947.1 1503.0,1947.0 1503.9,1948.3 1504.8,1949.6 1505.7,1948.8 1506.6,1948.1 1507.5,1948.3 1508.4,1948.6 1509.3,1948.9 1510.2,1949.2 1511.1,1949.3 1512.0,1949.5 1512.9,1949.8 1513.8,1950.2 1514.7,1948.3 1515.6,1946.3 1516.5,1948.1 1517.4,1949.8 1518.3,1949.5 1519.2,1949.1 1520.1,1948.2 1521.0,1947.3 1521.9,1948.5 1522.8,1949.7 1523.7,1951.0 1524.6,1952.4 1525.5,1952.3 1526.4,1952.3 1527.3,1951.7 1528.2,1951.0 1529.1,1950.0 1530.0,1949.0 1530.9,1949.8 1531.8,1950.5 1532.7,1949.9 1533.6,1949.4 1534.5,1949.0 1535.4,1948.6 1536.3,1949.4 1537.2,1950.4 1538.1,1950.1 1539.0,1949.9 1539.9,1949.2 1540.8,1948.5 1541.7,1947.9 1542.6,1947.4 1543.5,1948.0 1544.4,1948.6 1545.3,1949.2 1546.2,1949.7 1547.1,1948.8 1548.0,1948.0 1548.9,1948.1 1549.8,1948.2 1550.7,1948.5 1551.6,1948.8 1552.5,1949.2 1553.4,1949.6 1554.3,1950.3 1555.2,1951.1 1556.1,1950.0 1557.0,1949.0 1557.9,1948.7 1558.8,1948.3 1559.7,1949.2 1560.6,1950.2 1561.5,1949.5 1562.4,1948.9 1563.3,1949.8 1564.2,1950.8 1565.1,1949.7 1566.0,1948.6 1566.9,1949.2 1567.8,1949.8 1568.7,1951.1 1569.6,1952.3 1570.5,1950.1 1571.4,1947.9 1572.3,1948.9 1573.2,1949.9 1574.1,1949.8 1575.0,1949.7 1575.9,1948.8 1576.8,1947.9 1577.7,1949.0" stroke="#8EB0DE" stroke-width="8.8"/>
<path d="M162.0,471.0 162.9,461.9 163.8,452.9 164.7,452.4 165.6,451.9 166.5,446.7 167.4,441.5 168.3,448.5 169.2,455.6 170.1,454.7 171.0,453.8 171.9,453.1 172.8,452.3 173.7,454.9 174.6,457.5 175.5,457.7 176.4,457.8 177.3,453.0 178.2,448.2 179.1,448.7 180.0,449.3 180.9,450.6 181.8,452.0 182.7,455.7 183.6,459.4 184.5,459.1 185.4,458.8 186.3,453.0 187.2,447.1 188.1,447.8 189.0,448.4 189.9,454.3 190.8,460.3 191.7,463.1 192.6,466.0 193.5,461.2 194.4,456.4 195.3,454.6 196.2,452.7 197.1,458.4 198.0,464.1 198.9,459.8 199.8,455.5 200.7,459.0 201.6,462.6 202.5,465.5 203.4,468.4 204.3,465.8 205.2,463.2 206.1,461.6 207.0,459.9 207.9,461.9 208.8,463.7 209.7,459.0 210.6,454.2 211.5,455.2 212.4,456.1 213.3,454.4 214.2,452.7 215.1,453.7 216.0,454.8 216.9,453.1 217.8,451.6 218.7,454.0 219.6,456.5 220.5,456.5 221.4,456.6 222.3,458.7 223.2,460.6 224.1,460.9 225.0,460.9 225.9,461.7 226.8,462.5 227.7,466.0 228.6,469.6 229.5,460.3 230.4,451.1 231.3,460.1 232.2,469.1 233.1,464.3 234.0,459.5 234.9,456.4 235.8,453.3 236.7,456.8 237.6,460.3 238.5,461.4 239.4,462.5 240.3,465.6 241.2,468.6 242.1,461.9 243.0,455.3 243.9,459.3 244.8,463.3 245.7,462.8 246.6,462.4 247.5,456.5 248.4,450.7 249.3,452.1 250.2,453.5 251.1,459.1 252.0,464.7 252.9,465.0 253.8,465.4 254.7,466.6 255.6,467.9 256.5,466.2 257.4,464.6 258.3,464.2 259.2,463.8 260.1,463.0 261.0,462.1 261.9,465.6 262.8,469.0 263.7,462.4 264.6,455.9 265.5,458.0 266.4,460.1 267.3,461.6 268.2,463.2 269.1,457.0 270.0,450.8 270.9,460.0 271.8,469.2 272.7,461.3 273.6,453.4 274.5,457.4 275.4,461.4 276.3,468.6 277.2,475.8 278.1,465.0 279.0,454.1 279.9,456.6 280.8,459.0 281.7,465.6 282.6,472.0 283.5,461.6 284.4,451.1 285.3,455.1 286.2,459.1 287.1,462.0 288.0,465.0 288.9,465.6 289.8,466.2 290.7,465.6 291.6,464.9 292.5,464.0 293.4,463.0 294.3,465.9 295.2,468.8 296.1,467.6 297.0,466.6 297.9,465.3 298.8,464.2 299.7,460.5 300.6,456.9 301.5,457.3 302.4,457.6 303.3,454.3 304.2,450.8 305.1,459.2 306.0,467.5 306.9,459.5 307.8,451.6 308.7,460.0 309.6,468.4 310.5,471.3 311.4,474.2 312.3,464.9 313.2,455.6 314.1,456.7 315.0,457.8 315.9,458.4 316.8,458.7 317.7,462.4 318.6,466.0 319.5,460.1 320.4,454.1 321.3,455.9 322.2,457.6 323.1,455.8 324.0,454.0 324.9,454.0 325.8,453.5 326.7,455.4 327.6,454.7 328.5,442.6 329.4,430.7 330.3,425.1 331.2,421.2 332.1,421.5 333.0,427.3 333.9,436.9 334.8,447.2 335.7,449.4 336.6,447.9 337.5,457.1 338.4,465.4 339.3,463.6 340.2,461.4 341.1,462.6 342.0,464.0 342.9,461.6 343.8,459.2 344.7,454.0 345.6,448.7 346.5,452.0 347.4,455.2 348.3,461.4 349.2,467.6 350.1,463.6 351.0,459.4 351.9,459.0 352.8,458.6 353.7,464.1 354.6,469.7 355.5,470.7 356.4,471.7 357.3,464.3 358.2,456.9 359.1,462.7 360.0,468.4 360.9,455.5 361.8,442.5 362.7,441.5 363.6,440.5 364.5,448.7 365.4,456.9 366.3,452.1 367.2,447.3 368.1,448.4 369.0,449.5 369.9,447.4 370.8,445.1 371.7,440.7 372.6,435.9 373.5,434.8 374.4,433.0 375.3,426.2 376.2,418.0 377.1,404.6 378.0,389.0 378.9,380.8 379.8,368.5 380.7,346.3 381.6,318.7 382.5,288.6 383.4,251.4 384.3,201.1 385.2,150.7 386.1,110.6 387.0,83.6 387.9,76.4 388.8,93.1 389.7,128.8 390.6,173.9 391.5,223.0 392.4,269.6 393.3,304.6 394.2,332.8 395.1,355.7 396.0,373.3 396.9,390.8 397.8,405.1 398.7,416.8 399.6,426.5 400.5,427.4 401.4,427.0 402.3,433.6 403.2,439.5 404.1,448.2 405.0,456.5 405.9,456.4 406.8,456.0 407.7,454.6 408.6,452.9 409.5,451.6 410.4,450.1 411.3,452.7 412.2,455.4 413.1,451.7 414.0,448.0 414.9,456.7 415.8,465.6 416.7,465.5 417.6,465.5 418.5,465.5 419.4,465.4 420.3,462.0 421.2,458.5 422.1,461.0 423.0,463.4 423.9,467.6 424.8,471.7 425.7,471.0 426.6,470.3 427.5,467.9 428.4,465.6 429.3,468.7 430.2,472.0 431.1,473.5 432.0,475.0 432.9,470.1 433.8,465.1 434.7,465.6 435.6,466.1 436.5,465.0 437.4,463.9 438.3,462.9 439.2,462.1 440.1,468.3 441.0,474.5 441.9,473.9 442.8,473.3 443.7,473.1 444.6,473.0 445.5,468.7 446.4,464.4 447.3,465.2 448.2,465.9 449.1,469.3 450.0,472.5 450.9,471.3 451.8,470.0 452.7,471.2 453.6,472.2 454.5,468.9 455.4,465.6 456.3,470.5 457.2,475.4 458.1,480.0 459.0,484.7 459.9,481.4 460.8,478.0 461.7,478.1 462.6,478.0 463.5,472.7 464.4,467.1 465.3,468.2 466.2,468.1 467.1,461.9 468.0,455.8 468.9,454.6 469.8,452.9 470.7,448.8 471.6,446.9 472.5,448.1 473.4,451.0 474.3,454.6 475.2,458.3 476.1,464.8 477.0,471.4 477.9,473.0 478.8,473.7 479.7,474.4 480.6,474.7 481.5,470.7 482.4,466.4 483.3,470.3 484.2,474.2 485.1,469.2 486.0,464.3 486.9,473.5 487.8,482.8 488.7,477.7 489.6,472.6 490.5,473.6 491.4,474.6 492.3,473.6 493.2,472.7 494.1,468.0 495.0,463.4 495.9,464.1 496.8,464.8 497.7,469.0 498.6,473.2 499.5,477.9 500.4,482.6 501.3,474.3 502.2,466.0 503.1,467.2 504.0,468.5 504.9,470.6 505.8,472.8 506.7,467.9 507.6,462.9 508.5,463.2 509.4,463.4 510.3,467.7 511.2,471.9 512.1,473.1 513.0,474.2 513.9,473.2 514.8,472.1 515.7,478.0 516.6,483.9 517.5,478.4 518.4,472.9 519.3,474.4 520.2,475.9 521.1,479.7 522.0,483.6 522.9,483.9 523.8,484.1 524.7,473.5 525.6,462.9 526.5,466.4 527.4,469.9 528.3,474.5 529.2,479.1 530.1,471.0 531.0,462.9 531.9,464.5 532.8,466.3 533.7,465.7 534.6,465.2 535.5,465.8 536.4,466.4 537.3,467.8 538.2,469.1 539.1,473.6 540.0,477.9 540.9,481.2 541.8,484.4 542.7,484.9 543.6,485.3 544.5,480.0 545.4,474.8 546.3,468.1 547.2,461.5 548.1,467.3 549.0,473.2 549.9,472.4 550.8,471.6 551.7,474.0 552.6,476.5 553.5,475.3 554.4,474.1 555.3,469.2 556.2,464.2 557.1,471.3 558.0,478.3 558.9,470.4 559.8,462.4 560.7,466.5 561.6,470.4 562.5,473.2 563.4,476.0 564.3,475.7 565.2,475.6 566.1,479.2 567.0,483.0 567.9,471.1 568.8,459.2 569.7,467.9 570.6,476.5 571.5,477.0 572.4,477.4 573.3,474.2 574.2,471.0 575.1,474.1 576.0,477.1 576.9,471.6 577.8,466.2 578.7,471.8 579.6,477.5 580.5,478.2 581.4,479.0 582.3,473.3 583.2,467.6 584.1,468.6 585.0,469.6 585.9,471.2 586.8,472.8 587.7,471.5 588.6,470.2 589.5,475.8 590.4,481.4 591.3,478.9 592.2,476.3 593.1,480.0 594.0,483.6 594.9,483.1 595.8,482.6 596.7,479.0 597.6,475.3 598.5,474.1 599.4,472.9 600.3,470.3 601.2,467.7 602.1,468.0 603.0,468.4 603.9,468.3 604.8,468.3 605.7,471.8 606.6,475.3 607.5,471.3 608.4,467.3 609.3,470.2 610.2,473.1 611.1,473.4 612.0,473.7 612.9,471.5 613.8,469.4 614.7,470.6 615.6,471.8 616.5,477.2 617.4,482.6 618.3,483.4 619.2,484.0 620.1,476.5 621.0,469.0 621.9,470.7 622.8,472.3 623.7,471.4 624.6,470.4 625.5,470.3 626.4,470.2 627.3,475.5 628.2,480.8 629.1,477.8 630.0,474.9 630.9,476.4 631.8,477.9 632.7,479.2 633.6,480.5 634.5,473.1 635.4,465.6 636.3,465.9 637.2,466.2 638.1,466.3 639.0,466.4 639.9,468.7 640.8,470.9 641.7,466.3 642.6,461.5 643.5,462.4 644.4,463.0 645.3,462.7 646.2,461.9 647.1,459.0 648.0,455.5 648.9,449.1 649.8,441.7 650.7,431.9 651.6,421.0 652.5,409.9 653.4,397.1 654.3,388.7 655.2,377.2 656.1,360.1 657.0,345.7 657.9,336.7 658.8,335.8 659.7,344.6 660.6,358.8 661.5,374.7 662.4,390.2 663.3,401.4 664.2,409.9 665.1,423.9 666.0,436.8 666.9,440.2 667.8,442.3 668.7,447.9 669.6,452.8 670.5,458.9 671.4,464.6 672.3,464.0 673.2,463.0 674.1,466.4 675.0,469.5 675.9,470.0 676.8,470.3 677.7,469.6 678.6,468.7 679.5,469.0 680.4,469.3 681.3,475.2 682.2,481.0 683.1,474.8 684.0,468.7 684.9,474.6 685.8,480.4 686.7,472.5 687.6,464.6 688.5,469.8 689.4,475.0 690.3,473.3 691.2,471.5 692.1,468.8 693.0,466.0 693.9,461.4 694.8,456.8 695.7,468.8 696.6,480.8 697.5,472.1 698.4,463.5 699.3,464.1 700.2,464.7 701.1,468.4 702.0,472.0 702.9,471.5 703.8,470.9 704.7,471.5 705.6,472.0 706.5,470.2 707.4,468.3 708.3,462.0 709.2,455.7 710.1,465.2 711.0,474.7 711.9,469.0 712.8,463.2 713.7,466.6 714.6,469.9 715.5,470.7 716.4,471.5 717.3,473.1 718.2,474.7 719.1,469.9 720.0,465.1 720.9,464.6 721.8,464.1 722.7,464.3 723.6,464.5 724.5,459.3 725.4,454.1 726.3,457.3 727.2,460.2 728.1,458.7 729.0,456.9 729.9,455.1 730.8,452.9 731.7,455.0 732.6,456.7 733.5,452.2 734.4,447.2 735.3,448.9 736.2,449.6 737.1,445.4 738.0,438.9 738.9,413.6 739.8,385.4 740.7,371.7 741.6,350.7 742.5,314.6 743.4,273.3 744.3,234.5 745.2,203.8 746.1,192.6 747.0,208.6 747.9,245.0 748.8,287.9 749.7,325.6 750.6,356.3 751.5,382.3 752.4,402.5 753.3,413.4 754.2,420.5 755.1,422.3 756.0,422.2 756.9,430.0 757.8,437.1 758.7,439.9 759.6,442.3 760.5,447.6 761.4,452.7 762.3,453.0 763.2,453.0 764.1,462.7 765.0,472.0 765.9,467.1 766.8,461.9 767.7,466.8 768.6,471.6 769.5,466.5 770.4,461.3 771.3,470.5 772.2,479.8 773.1,468.0 774.0,456.2 774.9,462.3 775.8,468.6 776.7,463.3 777.6,458.2 778.5,464.9 779.4,471.5 780.3,476.0 781.2,480.5 782.1,470.9 783.0,461.1 783.9,463.6 784.8,466.0 785.7,469.5 786.6,472.9 787.5,471.4 788.4,469.9 789.3,463.5 790.2,457.1 791.1,467.6 792.0,478.2 792.9,474.8 793.8,471.3 794.7,475.1 795.6,478.8 796.5,475.4 797.4,472.1 798.3,467.3 799.2,462.5 800.1,464.5 801.0,466.7 801.9,472.7 802.8,478.7 803.7,470.1 804.6,461.6 805.5,464.7 806.4,467.7 807.3,471.3 808.2,474.8 809.1,478.1 810.0,481.4 810.9,479.0 811.8,476.7 812.7,469.6 813.6,462.6 814.5,474.0 815.4,485.5 816.3,478.6 817.2,471.7 818.1,472.4 819.0,473.0 819.9,473.0 820.8,472.8 821.7,471.9 822.6,470.9 823.5,468.3 824.4,465.6 825.3,467.4 826.2,469.2 827.1,474.3 828.0,479.5 828.9,471.1 829.8,463.0 830.7,460.8 831.6,458.7 832.5,467.9 833.4,477.1 834.3,477.1 835.2,476.9 836.1,478.4 837.0,479.8 837.9,483.0 838.8,486.1 839.7,478.4 840.6,470.6 841.5,473.3 842.4,476.1 843.3,477.1 844.2,478.0 845.1,480.3 846.0,482.7 846.9,482.1 847.8,481.6 848.7,475.9 849.6,470.2 850.5,468.8 851.4,467.4 852.3,471.1 853.2,474.7 854.1,470.7 855.0,466.5 855.9,475.1 856.8,483.4 857.7,477.5 858.6,471.6 859.5,471.9 860.4,472.2 861.3,470.0 862.2,467.8 863.1,475.2 864.0,482.7 864.9,478.8 865.8,475.1 866.7,473.1 867.6,471.1 868.5,474.6 869.4,478.1 870.3,476.2 871.2,474.2 872.1,476.4 873.0,478.6 873.9,480.9 874.8,483.1 875.7,478.0 876.6,472.9 877.5,475.2 878.4,477.4 879.3,477.2 880.2,477.0 881.1,479.0 882.0,481.0 882.9,479.4 883.8,477.8 884.7,476.3 885.6,474.9 886.5,473.2 887.4,471.4 888.3,474.7 889.2,478.0 890.1,473.9 891.0,469.8 891.9,475.1 892.8,480.3 893.7,478.2 894.6,476.0 895.5,477.3 896.4,478.5 897.3,474.9 898.2,471.3 899.1,470.2 900.0,469.3 900.9,469.0 901.8,468.9 902.7,475.7 903.6,482.5 904.5,478.9 905.4,475.2 906.3,475.7 907.2,476.0 908.1,471.4 909.0,466.5 909.9,471.9 910.8,477.1 911.7,469.9 912.6,462.5 913.5,473.1 914.4,483.7 915.3,478.1 916.2,472.6 917.1,473.1 918.0,473.8 918.9,469.2 919.8,464.5 920.7,465.4 921.6,466.2 922.5,471.3 923.4,476.4 924.3,473.6 925.2,470.8 926.1,472.7 927.0,474.6 927.9,477.4 928.8,480.4 929.7,479.1 930.6,477.9 931.5,470.6 932.4,463.4 933.3,467.0 934.2,470.4 935.1,470.3 936.0,469.9 936.9,468.7 937.8,467.3 938.7,464.4 939.6,461.3 940.5,460.9 941.4,460.4 942.3,463.3 943.2,465.3 944.1,462.6 945.0,458.4 945.9,454.3 946.8,449.4 947.7,445.2 948.6,446.3 949.5,454.9 950.4,466.1 951.3,463.9 952.2,455.6 953.1,454.9 954.0,450.1 954.9,444.7 955.8,442.0 956.7,446.2 957.6,454.8 958.5,461.1 959.4,463.6 960.3,471.0 961.2,477.4 962.1,478.6 963.0,479.7 963.9,480.4 964.8,481.0 965.7,475.4 966.6,469.8 967.5,470.7 968.4,471.4 969.3,471.5 970.2,471.2 971.1,469.2 972.0,466.2 972.9,464.9 973.8,461.3 974.7,448.0 975.6,432.2 976.5,419.3 977.4,403.6 978.3,381.9 979.2,363.7 980.1,356.9 981.0,357.3 981.9,364.1 982.8,377.2 983.7,388.6 984.6,397.3 985.5,408.9 986.4,415.2 987.3,405.2 988.2,393.8 989.1,388.6 990.0,383.7 990.9,379.8 991.8,381.1 992.7,390.3 993.6,403.3 994.5,415.2 995.4,426.1 996.3,431.1 997.2,434.5 998.1,439.6 999.0,442.8 999.9,443.9 1000.8,444.5 1001.7,448.3 1002.6,452.3 1003.5,451.3 1004.4,450.3 1005.3,452.5 1006.2,455.0 1007.1,457.8 1008.0,460.6 1008.9,462.9 1009.8,464.9 1010.7,465.5 1011.6,465.7 1012.5,464.0 1013.4,461.8 1014.3,464.3 1015.2,466.7 1016.1,474.2 1017.0,481.7 1017.9,477.8 1018.8,473.8 1019.7,472.0 1020.6,470.1 1021.5,467.0 1022.4,463.9 1023.3,467.9 1024.2,471.9 1025.1,472.1 1026.0,472.2 1026.9,469.9 1027.8,467.7 1028.7,472.4 1029.6,477.2 1030.5,472.4 1031.4,467.6 1032.3,468.8 1033.2,469.9 1034.1,472.8 1035.0,475.7 1035.9,473.4 1036.8,471.1 1037.7,473.6 1038.6,476.1 1039.5,471.6 1040.4,467.0 1041.3,466.0 1042.2,464.9 1043.1,467.3 1044.0,469.7 1044.9,468.3 1045.8,466.8 1046.7,469.2 1047.6,471.4 1048.5,468.1 1049.4,464.8 1050.3,462.6 1051.2,460.5 1052.1,461.3 1053.0,462.2 1053.9,462.3 1054.8,462.4 1055.7,456.2 1056.6,450.1 1057.5,452.4 1058.4,454.7 1059.3,453.9 1060.2,453.1 1061.1,457.5 1062.0,461.9 1062.9,456.3 1063.8,450.7 1064.7,455.4 1065.6,460.1 1066.5,452.7 1067.4,445.4 1068.3,449.1 1069.2,452.8 1070.1,456.5 1071.0,460.2 1071.9,456.1 1072.8,452.0 1073.7,456.7 1074.6,461.3 1075.5,451.5 1076.4,441.8 1077.3,448.6 1078.2,455.4 1079.1,456.2 1080.0,457.1 1080.9,456.7 1081.8,456.4 1082.7,452.8 1083.6,449.2 1084.5,456.9 1085.4,464.5 1086.3,456.3 1087.2,448.0 1088.1,460.5 1089.0,472.8 1089.9,469.5 1090.8,466.0 1091.7,468.4 1092.6,470.7 1093.5,466.8 1094.4,462.9 1095.3,460.3 1096.2,457.8 1097.1,460.0 1098.0,462.3 1098.9,463.1 1099.8,464.0 1100.7,468.2 1101.6,472.6 1102.5,470.8 1103.4,468.9 1104.3,472.1 1105.2,475.3 1106.1,477.0 1107.0,478.6 1107.9,481.0 1108.8,483.4 1109.7,472.9 1110.6,462.4 1111.5,467.6 1112.4,472.8 1113.3,476.5 1114.2,480.1 1115.1,480.3 1116.0,480.5 1116.9,476.8 1117.8,473.0 1118.7,474.1 1119.6,475.1 1120.5,475.7 1121.4,476.3 1122.3,476.9 1123.2,477.2 1124.1,473.8 1125.0,469.0 1125.9,463.9 1126.8,457.4 1127.7,452.3 1128.6,453.1 1129.5,460.0 1130.4,468.2 1131.3,477.9 1132.2,486.2 1133.1,480.3 1134.0,473.5 1134.9,479.7 1135.8,485.7 1136.7,488.7 1137.6,491.7 1138.5,486.0 1139.4,480.3 1140.3,486.9 1141.2,493.6 1142.1,485.6 1143.0,477.8 1143.9,486.4 1144.8,495.1 1145.7,487.1 1146.6,479.2 1147.5,475.8 1148.4,472.5 1149.3,477.7 1150.2,482.8 1151.1,487.8 1152.0,492.7 1152.9,484.8 1153.8,476.6 1154.7,479.4 1155.6,482.0 1156.5,476.5 1157.4,471.0 1158.3,470.6 1159.2,470.2 1160.1,473.8 1161.0,477.5 1161.9,474.8 1162.8,471.7 1163.7,472.2 1164.6,471.7 1165.5,469.7 1166.4,466.3 1167.3,455.6 1168.2,446.4 1169.1,442.7 1170.0,440.1 1170.9,439.9 1171.8,442.5 1172.7,449.7 1173.6,459.6 1174.5,462.1 1175.4,462.3 1176.3,466.4 1177.2,469.4 1178.1,474.5 1179.0,478.9 1179.9,485.1 1180.8,491.1 1181.7,483.1 1182.6,474.8 1183.5,475.8 1184.4,476.8 1185.3,477.9 1186.2,479.1 1187.1,481.4 1188.0,483.7 1188.9,488.3 1189.8,492.7 1190.7,481.9 1191.6,470.9 1192.5,469.5 1193.4,468.0 1194.3,473.6 1195.2,479.2 1196.1,480.4 1197.0,481.6 1197.9,472.9 1198.8,464.3 1199.7,469.4 1200.6,474.6 1201.5,481.7 1202.4,488.7 1203.3,482.1 1204.2,475.6 1205.1,478.8 1206.0,482.0 1206.9,481.2 1207.8,480.6 1208.7,482.6 1209.6,484.7 1210.5,484.7 1211.4,484.7 1212.3,484.8 1213.2,484.8 1214.1,488.2 1215.0,491.5 1215.9,485.7 1216.8,479.6 1217.7,481.2 1218.6,482.6 1219.5,487.2 1220.4,491.9 1221.3,483.5 1222.2,475.3 1223.1,475.5 1224.0,476.0 1224.9,474.9 1225.8,474.0 1226.7,473.9 1227.6,473.9 1228.5,483.9 1229.4,493.9 1230.3,489.5 1231.2,485.1 1232.1,491.8 1233.0,498.3 1233.9,492.7 1234.8,487.1 1235.7,484.8 1236.6,482.5 1237.5,481.1 1238.4,479.7 1239.3,481.1 1240.2,482.6 1241.1,481.6 1242.0,480.6 1242.9,483.6 1243.8,486.8 1244.7,481.5 1245.6,476.2 1246.5,479.8 1247.4,483.5 1248.3,484.7 1249.2,485.9 1250.1,483.9 1251.0,481.8 1251.9,481.7 1252.8,481.7 1253.7,484.0 1254.6,486.3 1255.5,486.2 1256.4,486.0 1257.3,483.8 1258.2,481.6 1259.1,481.8 1260.0,482.0 1260.9,480.4 1261.8,478.7 1262.7,482.3 1263.6,486.0 1264.5,484.0 1265.4,482.1 1266.3,477.7 1267.2,473.2 1268.1,477.2 1269.0,481.2 1269.9,484.1 1270.8,486.8 1271.7,485.4 1272.6,484.0 1273.5,479.9 1274.4,475.7 1275.3,480.5 1276.2,485.2 1277.1,484.6 1278.0,484.2 1278.9,484.2 1279.8,484.3 1280.7,487.3 1281.6,490.3 1282.5,484.7 1283.4,479.0 1284.3,482.1 1285.2,485.2 1286.1,482.6 1287.0,479.9 1287.9,483.8 1288.8,487.6 1289.7,488.0 1290.6,488.3 1291.5,486.0 1292.4,483.7 1293.3,484.3 1294.2,484.9 1295.1,479.9 1296.0,475.0 1296.9,479.5 1297.8,484.0 1298.7,478.3 1299.6,472.5 1300.5,483.0 1301.4,493.5 1302.3,490.3 1303.2,487.1 1304.1,478.6 1305.0,470.2 1305.9,467.9 1306.8,465.6 1307.7,476.7 1308.6,487.8 1309.5,481.0 1310.4,474.2 1311.3,478.5 1312.2,482.9 1313.1,477.0 1314.0,471.2 1314.9,475.5 1315.8,479.9 1316.7,477.7 1317.6,475.5 1318.5,479.6 1319.4,483.6 1320.3,480.7 1321.2,477.9 1322.1,483.6 1323.0,489.4 1323.9,482.3 1324.8,475.3 1325.7,481.8 1326.6,488.4 1327.5,484.5 1328.4,480.5 1329.3,482.3 1330.2,484.1 1331.1,475.5 1332.0,466.9 1332.9,466.9 1333.8,466.7 1334.7,476.8 1335.6,486.8 1336.5,479.3 1337.4,471.8 1338.3,474.4 1339.2,476.9 1340.1,476.8 1341.0,476.8 1341.9,475.0 1342.8,473.2 1343.7,476.8 1344.6,480.4 1345.5,475.4 1346.4,470.4 1347.3,471.2 1348.2,472.0 1349.1,478.7 1350.0,485.3 1350.9,480.0 1351.8,474.7 1352.7,479.8 1353.6,484.9 1354.5,485.0 1355.4,485.1 1356.3,488.1 1357.2,491.0 1358.1,487.8 1359.0,484.5 1359.9,477.3 1360.8,470.1 1361.7,473.8 1362.6,477.5 1363.5,478.2 1364.4,478.9 1365.3,484.1 1366.2,489.2 1367.1,486.4 1368.0,483.6 1368.9,481.0 1369.8,478.6 1370.7,481.8 1371.6,485.0 1372.5,482.2 1373.4,479.4 1374.3,483.2 1375.2,487.0 1376.1,485.9 1377.0,484.7 1377.9,487.7 1378.8,490.5 1379.7,487.8 1380.6,485.1 1381.5,486.8 1382.4,488.5 1383.3,485.0 1384.2,481.6 1385.1,483.7 1386.0,485.9 1386.9,483.1 1387.8,480.1 1388.7,482.3 1389.6,484.4 1390.5,482.6 1391.4,480.8 1392.3,479.3 1393.2,477.9 1394.1,476.7 1395.0,475.7 1395.9,476.2 1396.8,476.7 1397.7,479.2 1398.6,481.7 1399.5,473.4 1400.4,465.2 1401.3,476.2 1402.2,487.2 1403.1,476.4 1404.0,465.5 1404.9,471.8 1405.8,478.0 1406.7,477.4 1407.6,476.9 1408.5,480.0 1409.4,483.2 1410.3,481.8 1411.2,480.3 1412.1,478.6 1413.0,476.9 1413.9,476.8 1414.8,476.7 1415.7,478.9 1416.6,481.1 1417.5,484.8 1418.4,488.4 1419.3,481.1 1420.2,473.7 1421.1,464.4 1422.0,454.9 1422.9,458.0 1423.8,461.0 1424.7,461.2 1425.6,461.3 1426.5,465.6 1427.4,469.9 1428.3,456.8 1429.2,443.9 1430.1,443.0 1431.0,442.6 1431.9,444.2 1432.8,446.2 1433.7,445.0 1434.6,444.2 1435.5,439.5 1436.4,435.3 1437.3,443.9 1438.2,452.8 1439.1,447.7 1440.0,442.8 1440.9,448.5 1441.8,454.4 1442.7,461.9 1443.6,469.4 1444.5,463.5 1445.4,457.5 1446.3,462.7 1447.2,467.7 1448.1,475.8 1449.0,483.7 1449.9,479.0 1450.8,474.1 1451.7,472.6 1452.6,471.0 1453.5,473.3 1454.4,475.4 1455.3,480.4 1456.2,485.3 1457.1,478.1 1458.0,470.9 1458.9,474.1 1459.8,477.3 1460.7,474.9 1461.6,472.6 1462.5,473.7 1463.4,474.8 1464.3,482.7 1465.2,490.6 1466.1,486.4 1467.0,482.1 1467.9,481.0 1468.8,479.6 1469.7,482.0 1470.6,484.2 1471.5,480.0 1472.4,475.9 1473.3,473.8 1474.2,471.9 1475.1,479.1 1476.0,486.4 1476.9,485.7 1477.8,485.1 1478.7,480.0 1479.6,474.9 1480.5,480.3 1481.4,485.6 1482.3,488.4 1483.2,491.1 1484.1,488.3 1485.0,485.3 1485.9,485.4 1486.8,485.6 1487.7,480.3 1488.6,475.0 1489.5,478.7 1490.4,482.4 1491.3,477.1 1492.2,471.8 1493.1,481.3 1494.0,490.8 1494.9,486.7 1495.8,482.5 1496.7,487.0 1497.6,491.4 1498.5,484.4 1499.4,477.4 1500.3,482.3 1501.2,487.3 1502.1,479.3 1503.0,471.5 1503.9,475.2 1504.8,478.8 1505.7,482.6 1506.6,486.3 1507.5,484.2 1508.4,482.2 1509.3,480.6 1510.2,479.0 1511.1,473.8 1512.0,468.7 1512.9,478.3 1513.8,488.0 1514.7,486.4 1515.6,485.0 1516.5,487.3 1517.4,489.5 1518.3,490.1 1519.2,490.6 1520.1,486.2 1521.0,481.6 1521.9,484.0 1522.8,486.3 1523.7,493.0 1524.6,499.7 1525.5,488.5 1526.4,477.4 1527.3,481.1 1528.2,484.8 1529.1,481.6 1530.0,478.5 1530.9,485.9 1531.8,493.6 1532.7,489.0 1533.6,484.6 1534.5,481.4 1535.4,478.2 1536.3,480.2 1537.2,482.0 1538.1,479.8 1539.0,477.3 1539.9,474.9 1540.8,472.3 1541.7,472.0 1542.6,471.7 1543.5,475.9 1544.4,480.2 1545.3,478.5 1546.2,477.0 1547.1,481.2 1548.0,485.5 1548.9,482.2 1549.8,478.8 1550.7,482.2 1551.6,485.7 1552.5,490.7 1553.4,495.7 1554.3,486.4 1555.2,477.1 1556.1,477.0 1557.0,476.9 1557.9,483.9 1558.8,490.8 1559.7,494.9 1560.6,499.0 1561.5,488.4 1562.4,477.9 1563.3,475.0 1564.2,472.2 1565.1,476.6 1566.0,481.0 1566.9,480.7 1567.8,480.3 1568.7,483.9 1569.6,487.5 1570.5,481.9 1571.4,476.3 1572.3,478.8 1573.2,481.4 1574.1,481.3 1575.0,481.2 1575.9,477.2 1576.8,473.3 1577.7,483.7" stroke="#860086" stroke-width="7.5"/>
</g>
<g id="axes">
<rect x="164" y="59.2" width="1411" height="941.3" fill="none" stroke="#000" stroke-width="5.2"/>
<rect x="164" y="1012.6" width="1411" height="956.6" fill="none" stroke="#000" stroke-width="5.2"/>
<line x1="164" x2="1575" y1="1484.6" y2="1484.6" stroke="#222" stroke-width="2"/>
<text transform="translate(164.0,2051) scale(1.03,1)" text-anchor="middle" class="tk">20</text>
<text transform="translate(292.3,2051) scale(1.03,1)" text-anchor="middle" class="tk">25</text>
<text transform="translate(420.5,2051) scale(1.03,1)" text-anchor="middle" class="tk">30</text>
<text transform="translate(548.8,2051) scale(1.03,1)" text-anchor="middle" class="tk">35</text>
<text transform="translate(677.1,2051) scale(1.03,1)" text-anchor="middle" class="tk">40</text>
<text transform="translate(805.4,2051) scale(1.03,1)" text-anchor="middle" class="tk">45</text>
<text transform="translate(933.6,2051) scale(1.03,1)" text-anchor="middle" class="tk">50</text>
<text transform="translate(1061.9,2051) scale(1.03,1)" text-anchor="middle" class="tk">55</text>
<text transform="translate(1190.2,2051) scale(1.03,1)" text-anchor="middle" class="tk">60</text>
<text transform="translate(1318.5,2051) scale(1.03,1)" text-anchor="middle" class="tk">65</text>
<text transform="translate(1446.7,2051) scale(1.03,1)" text-anchor="middle" class="tk">70</text>
<text transform="translate(1575.0,2051) scale(1.03,1)" text-anchor="middle" class="tk">75</text>
</g>
<g id="labels">
<text transform="translate(1564,410) scale(1.03,1)" text-anchor="end" class="lb" fill="#860086">t-GST</text>
<text transform="translate(1564,612) scale(1.03,1)" text-anchor="end" class="lb" fill="#F00000">c-GST</text>
<text transform="translate(1564,844) scale(1.04,1)" text-anchor="end" class="lb" fill="#FF8A1A">Sb<tspan dy="19">2</tspan><tspan dy="-19">Te</tspan><tspan dy="19">3</tspan><tspan dy="-19"> 200 °C</tspan></text>
<text transform="translate(1564,1128) scale(1.03,1)" text-anchor="end" class="lb" fill="#186C30">Sample B 300 °C</text>
<text transform="translate(1564,1282) scale(1.03,1)" text-anchor="end" class="lb" fill="#20A04B">Sample B 150 °C</text>
<text transform="translate(1564,1428) scale(1.03,1)" text-anchor="end" class="lb" fill="#52D47E">Sample B 30 °C</text>
<text transform="translate(1564,1655) scale(1.036,1)" text-anchor="end" class="lb" fill="#0C2340">Sample A 300 °C</text>
<text transform="translate(1564,1786) scale(1.036,1)" text-anchor="end" class="lb" fill="#2E5F9E">Sample A 200 °C</text>
<text transform="translate(1564,1923) scale(1.036,1)" text-anchor="end" class="lb" fill="#8EB0DE">Sample A 30 °C</text>
</g>
<line x1="0" x2="1600" y1="1069.3" y2="1069.3" stroke="#fff" stroke-opacity="0.35" stroke-width="1"/>
<text class="xl" x="719" y="2123.6">2</text>
<text class="th" transform="translate(800,2123.6) scale(1.15,1)" text-anchor="middle">θ</text>
<text class="xl" transform="translate(842,2123.6) scale(1.04,1)">(deg)</text>
<text class="yl" transform="translate(117.5,889) rotate(-90) scale(1.013,1)" text-anchor="middle">Intensity (arb. units)</text>
<g id="box1">
<rect x="1748.2" y="1102.4" width="465.2" height="96.9" fill="#4472C4"/>
<rect x="1748.2" y="1199.3" width="465.2" height="97" fill="#FF0000"/>
<rect x="1748.2" y="1296.3" width="465.2" height="94.2" fill="#D9D9D9"/>
<path d="M1748.2,1199.8H2213.4M1748.2,1296.5H2213.4" stroke="#000" stroke-width="4"/>
<rect x="1748.2" y="1102.4" width="465.2" height="288.1" fill="none" stroke="#000" stroke-width="4.2"/>
<text class="bx" x="1813" y="1171.7" fill="#fff">GGST</text><text class="bx" transform="translate(1989,1171.7) scale(0.972,1)" fill="#fff">24 nm</text>
<text class="bx" x="1789.5" y="1267.6" fill="#000">GST225</text><text class="bx" transform="translate(2015,1267.6) scale(0.972,1)" fill="#000">24 nm</text>
<text class="bx" x="1820" y="1363" fill="#000">Si(001)/SiO<tspan dy="11" class="sb">2</tspan></text>
</g>
<g id="box2">
<rect x="1748.2" y="1579.3" width="465.2" height="96" fill="#4472C4"/>
<rect x="1748.2" y="1675.3" width="465.2" height="98.3" fill="#FFC000"/>
<rect x="1748.2" y="1773.6" width="465.2" height="94" fill="#D9D9D9"/>
<path d="M1748.2,1675.3H2213.4M1748.2,1773.6H2213.4" stroke="#000" stroke-width="4"/>
<rect x="1748.2" y="1579.3" width="465.2" height="288.2" fill="none" stroke="#000" stroke-width="4.2"/>
<text class="bx" x="1813" y="1648.5" fill="#fff">GGST</text><text class="bx" transform="translate(1989,1648.5) scale(0.972,1)" fill="#fff">24 nm</text>
<text class="bx" x="1814" y="1746" fill="#000">Sb<tspan dy="14" class="sb">2</tspan><tspan dy="-14">Te</tspan><tspan dy="14" class="sb">3</tspan></text><text class="bx" transform="translate(1989,1746) scale(0.972,1)" fill="#000">24 nm</text>
<text class="bx" x="1820" y="1839" fill="#000">Si(001)/SiO<tspan dy="11" class="sb">2</tspan></text>
</g>
</svg>
</body></html>
